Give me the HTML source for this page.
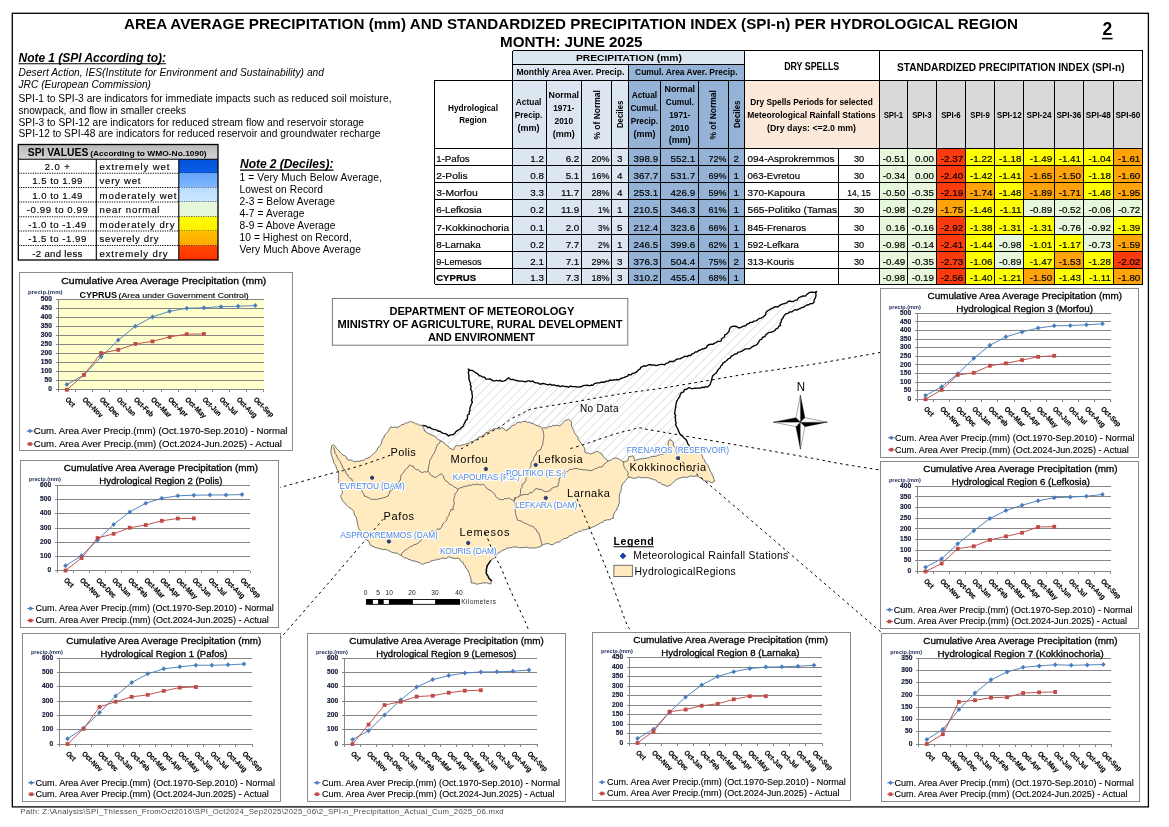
<!DOCTYPE html>
<html lang="en">
<head>
<meta charset="utf-8">
<title>Area Average Precipitation (mm) and Standardized Precipitation Index (SPI-n) per Hydrological Region - June 2025</title>
<style>
html,body{margin:0;padding:0;background:#fff;}
body{width:1169px;height:827px;overflow:hidden;font-family:'Liberation Sans', sans-serif;}
svg{display:block;font-family:'Liberation Sans', sans-serif;will-change:transform;}
svg text{white-space:pre;}
</style>
</head>
<body>
<svg width="1169" height="827" viewBox="0 0 1169 827">
<rect x="0" y="0" width="1169" height="827" fill="#fff"/>
<g id="top">
<rect x="12.3" y="13.3" width="1136.1" height="793.6" fill="#fff" stroke="#000" stroke-width="1.3"/>
<text x="571" y="29.1" font-size="15.2" text-anchor="middle" font-weight="bold" textLength="894" lengthAdjust="spacing">AREA AVERAGE PRECIPITATION (mm) AND STANDARDIZED PRECIPITATION INDEX (SPI-n) PER HYDROLOGICAL REGION</text>
<text x="571.3" y="47.3" font-size="15.2" text-anchor="middle" font-weight="bold" textLength="142.5" lengthAdjust="spacing">MONTH: JUNE 2025</text>
<text x="1107.3" y="35" font-size="17.5" text-anchor="middle" font-weight="bold">2</text>
<line x1="1102" y1="38.6" x2="1112.6" y2="38.6" stroke="#000" stroke-width="1.6" />
<text x="18.5" y="61.9" font-size="12" font-weight="bold" font-style="italic" textLength="147.5" lengthAdjust="spacing">Note 1 (SPI According to):</text>
<line x1="18.5" y1="63.7" x2="166" y2="63.7" stroke="#000" stroke-width="1.1" />
<text x="18.5" y="76.1" font-size="10.2" font-style="italic" textLength="305.5" lengthAdjust="spacing">Desert Action, IES(Institute for Environment and Sustainability) and</text>
<text x="18.5" y="88.1" font-size="10.2" font-style="italic" textLength="132.5" lengthAdjust="spacing">JRC (European Commission)</text>
<text x="18.5" y="102.1" font-size="10.2" textLength="373" lengthAdjust="spacing">SPI-1 to SPI-3 are indicators for immediate impacts such as reduced soil moisture,</text>
<text x="18.5" y="113.8" font-size="10.2" textLength="167.5" lengthAdjust="spacing">snowpack, and flow in smaller creeks</text>
<text x="18.5" y="125.7" font-size="10.2" textLength="345.5" lengthAdjust="spacing">SPI-3 to SPI-12 are indicators for reduced stream flow and reservoir storage</text>
<text x="18.5" y="136.9" font-size="10.2" textLength="362" lengthAdjust="spacing">SPI-12 to SPI-48 are indicators for reduced reservoir and groundwater recharge</text>
</g>
<g id="spileg">
<defs><linearGradient id="gEW" x1="0" y1="0" x2="0" y2="1"><stop offset="0" stop-color="#0052da"/><stop offset="1" stop-color="#0c5ee6"/></linearGradient><linearGradient id="gVW" x1="0" y1="0" x2="0" y2="1"><stop offset="0" stop-color="#64a6fb"/><stop offset="1" stop-color="#80b7ff"/></linearGradient><linearGradient id="gMW" x1="0" y1="0" x2="0" y2="1"><stop offset="0" stop-color="#b8dcfe"/><stop offset="1" stop-color="#cce8ff"/></linearGradient><linearGradient id="gMD" x1="0" y1="0" x2="0" y2="1"><stop offset="0" stop-color="#ffff00"/><stop offset="1" stop-color="#ffee00"/></linearGradient><linearGradient id="gSD" x1="0" y1="0" x2="0" y2="1"><stop offset="0" stop-color="#ffc000"/><stop offset="1" stop-color="#ffa800"/></linearGradient><linearGradient id="gED" x1="0" y1="0" x2="0" y2="1"><stop offset="0" stop-color="#ff4800"/><stop offset="1" stop-color="#ff3000"/></linearGradient><linearGradient id="gHD" x1="0" y1="0" x2="0" y2="1"><stop offset="0" stop-color="#b8b8b8"/><stop offset="1" stop-color="#d4d4d4"/></linearGradient></defs>
<rect x="18.3" y="144.5" width="199.7" height="14.75" fill="url(#gHD)"/>
<g stroke="#000" stroke-width="0.15">
<rect x="178.8" y="159.25" width="39.2" height="14" fill="url(#gEW)" stroke="none"/>
<text x="57.3" y="169.85" font-size="9.6" text-anchor="middle" textLength="25" lengthAdjust="spacing">2.0 +</text>
<text x="99.5" y="169.85" font-size="9.6" textLength="70" lengthAdjust="spacing">extremely wet</text>
<line x1="18.3" y1="173.25" x2="218" y2="173.25" stroke="#000" stroke-width="1.2" stroke-dasharray="1.2 1.2"/>
<rect x="178.8" y="173.25" width="39.2" height="14.25" fill="url(#gVW)" stroke="none"/>
<text x="57.3" y="184.1" font-size="9.6" text-anchor="middle" textLength="50" lengthAdjust="spacing">1.5 to 1.99</text>
<text x="99.5" y="184.1" font-size="9.6" textLength="41" lengthAdjust="spacing">very wet</text>
<line x1="18.3" y1="187.5" x2="218" y2="187.5" stroke="#000" stroke-width="1.2" stroke-dasharray="1.2 1.2"/>
<rect x="178.8" y="187.5" width="39.2" height="14.5" fill="url(#gMW)" stroke="none"/>
<text x="57.3" y="198.6" font-size="9.6" text-anchor="middle" textLength="50" lengthAdjust="spacing">1.0 to 1.49</text>
<text x="99.5" y="198.6" font-size="9.6" textLength="77" lengthAdjust="spacing">moderately wet</text>
<line x1="18.3" y1="202" x2="218" y2="202" stroke="#000" stroke-width="1.2" stroke-dasharray="1.2 1.2"/>
<rect x="178.8" y="202" width="39.2" height="14.75" fill="#e6f7dc" stroke="none"/>
<text x="57.3" y="213.35" font-size="9.6" text-anchor="middle" textLength="61" lengthAdjust="spacing">-0.99 to 0.99</text>
<text x="99.5" y="213.35" font-size="9.6" textLength="60" lengthAdjust="spacing">near normal</text>
<line x1="18.3" y1="216.75" x2="218" y2="216.75" stroke="#000" stroke-width="1.2" stroke-dasharray="1.2 1.2"/>
<rect x="178.8" y="216.75" width="39.2" height="14.25" fill="url(#gMD)" stroke="none"/>
<text x="57.3" y="227.6" font-size="9.6" text-anchor="middle" textLength="58" lengthAdjust="spacing">-1.0 to -1.49</text>
<text x="99.5" y="227.6" font-size="9.6" textLength="75" lengthAdjust="spacing">moderately dry</text>
<line x1="18.3" y1="231" x2="218" y2="231" stroke="#000" stroke-width="1.2" stroke-dasharray="1.2 1.2"/>
<rect x="178.8" y="231" width="39.2" height="14.5" fill="url(#gSD)" stroke="none"/>
<text x="57.3" y="242.1" font-size="9.6" text-anchor="middle" textLength="58" lengthAdjust="spacing">-1.5 to -1.99</text>
<text x="99.5" y="242.1" font-size="9.6" textLength="59" lengthAdjust="spacing">severely dry</text>
<line x1="18.3" y1="245.5" x2="218" y2="245.5" stroke="#000" stroke-width="1.2" stroke-dasharray="1.2 1.2"/>
<rect x="178.8" y="245.5" width="39.2" height="14.5" fill="url(#gED)" stroke="none"/>
<text x="57.3" y="256.6" font-size="9.6" text-anchor="middle" textLength="50" lengthAdjust="spacing">-2 and less</text>
<text x="99.5" y="256.6" font-size="9.6" textLength="68" lengthAdjust="spacing">extremely dry</text>
</g>
<line x1="18.3" y1="159.25" x2="218" y2="159.25" stroke="#000" stroke-width="1.2" />
<line x1="96.3" y1="159.25" x2="96.3" y2="260" stroke="#000" stroke-width="1.1" />
<line x1="178.8" y1="159.25" x2="178.8" y2="260" stroke="#000" stroke-width="1.1" />
<rect x="18.3" y="144.5" width="199.7" height="115.5" fill="none" stroke="#000" stroke-width="1.3"/>
<text x="27.8" y="156.3" font-size="10.6" font-weight="bold" textLength="60.5" lengthAdjust="spacingAndGlyphs">SPI VALUES</text>
<text x="90.2" y="155.8" font-size="7.6" font-weight="bold" textLength="116.5" lengthAdjust="spacingAndGlyphs">(According to WMO-No.1090)</text>
<text x="240" y="168.2" font-size="12" font-weight="bold" font-style="italic" textLength="93.5" lengthAdjust="spacing">Note 2 (Deciles):</text>
<line x1="240" y1="170.1" x2="333.5" y2="170.1" stroke="#000" stroke-width="1.1" />
<text x="239.5" y="181.3" font-size="10.2" textLength="142.5" lengthAdjust="spacing">1 = Very Much Below Average,</text>
<text x="239.5" y="192.6" font-size="10.2" textLength="83.5" lengthAdjust="spacing">Lowest on Record</text>
<text x="239.5" y="205" font-size="10.2" textLength="95.5" lengthAdjust="spacing">2-3 = Below Average</text>
<text x="239.5" y="217" font-size="10.2" textLength="65" lengthAdjust="spacing">4-7 = Average</text>
<text x="239.5" y="228.8" font-size="10.2" textLength="96" lengthAdjust="spacing">8-9 = Above Average</text>
<text x="239.5" y="240.6" font-size="10.2" textLength="112" lengthAdjust="spacing">10 = Highest on Record,</text>
<text x="239.5" y="252.5" font-size="10.2" textLength="121.5" lengthAdjust="spacing">Very Much Above Average</text>
</g>
<g id="table">
<rect x="512.5" y="50.5" width="115.8" height="233.7" fill="#dce6f1"/>
<rect x="628.3" y="64.5" width="116" height="219.7" fill="#95b3d7"/>
<rect x="512.5" y="50.5" width="231.8" height="14" fill="#dce6f1"/>
<rect x="744.3" y="80" width="135" height="68.2" fill="#fde9d9"/>
<rect x="879.3" y="80" width="263.3" height="68.2" fill="#d9d9d9"/>
<rect x="879.3" y="148.2" width="28.2" height="17.3" fill="#e6f7dc"/>
<rect x="907.5" y="148.2" width="28.8" height="17.3" fill="#e6f7dc"/>
<rect x="936.3" y="148.2" width="29.2" height="17.3" fill="#fb3a0e"/>
<rect x="965.5" y="148.2" width="29.2" height="17.3" fill="#ffff00"/>
<rect x="994.7" y="148.2" width="29" height="17.3" fill="#ffff00"/>
<rect x="1023.7" y="148.2" width="30.8" height="17.3" fill="#ffff00"/>
<rect x="1054.5" y="148.2" width="28.8" height="17.3" fill="#ffff00"/>
<rect x="1083.3" y="148.2" width="29.9" height="17.3" fill="#ffff00"/>
<rect x="1113.2" y="148.2" width="29.4" height="17.3" fill="#ffa30b"/>
<rect x="879.3" y="165.5" width="28.2" height="17" fill="#e6f7dc"/>
<rect x="907.5" y="165.5" width="28.8" height="17" fill="#e6f7dc"/>
<rect x="936.3" y="165.5" width="29.2" height="17" fill="#fb3a0e"/>
<rect x="965.5" y="165.5" width="29.2" height="17" fill="#ffff00"/>
<rect x="994.7" y="165.5" width="29" height="17" fill="#ffff00"/>
<rect x="1023.7" y="165.5" width="30.8" height="17" fill="#ffa30b"/>
<rect x="1054.5" y="165.5" width="28.8" height="17" fill="#ffa30b"/>
<rect x="1083.3" y="165.5" width="29.9" height="17" fill="#ffff00"/>
<rect x="1113.2" y="165.5" width="29.4" height="17" fill="#ffa30b"/>
<rect x="879.3" y="182.5" width="28.2" height="17" fill="#e6f7dc"/>
<rect x="907.5" y="182.5" width="28.8" height="17" fill="#e6f7dc"/>
<rect x="936.3" y="182.5" width="29.2" height="17" fill="#fb3a0e"/>
<rect x="965.5" y="182.5" width="29.2" height="17" fill="#ffa30b"/>
<rect x="994.7" y="182.5" width="29" height="17" fill="#ffff00"/>
<rect x="1023.7" y="182.5" width="30.8" height="17" fill="#ffa30b"/>
<rect x="1054.5" y="182.5" width="28.8" height="17" fill="#ffa30b"/>
<rect x="1083.3" y="182.5" width="29.9" height="17" fill="#ffff00"/>
<rect x="1113.2" y="182.5" width="29.4" height="17" fill="#ffa30b"/>
<rect x="879.3" y="199.5" width="28.2" height="17.4" fill="#e6f7dc"/>
<rect x="907.5" y="199.5" width="28.8" height="17.4" fill="#e6f7dc"/>
<rect x="936.3" y="199.5" width="29.2" height="17.4" fill="#ffa30b"/>
<rect x="965.5" y="199.5" width="29.2" height="17.4" fill="#ffff00"/>
<rect x="994.7" y="199.5" width="29" height="17.4" fill="#ffff00"/>
<rect x="1023.7" y="199.5" width="30.8" height="17.4" fill="#e6f7dc"/>
<rect x="1054.5" y="199.5" width="28.8" height="17.4" fill="#e6f7dc"/>
<rect x="1083.3" y="199.5" width="29.9" height="17.4" fill="#e6f7dc"/>
<rect x="1113.2" y="199.5" width="29.4" height="17.4" fill="#e6f7dc"/>
<rect x="879.3" y="216.9" width="28.2" height="17.5" fill="#e6f7dc"/>
<rect x="907.5" y="216.9" width="28.8" height="17.5" fill="#e6f7dc"/>
<rect x="936.3" y="216.9" width="29.2" height="17.5" fill="#fb3a0e"/>
<rect x="965.5" y="216.9" width="29.2" height="17.5" fill="#ffff00"/>
<rect x="994.7" y="216.9" width="29" height="17.5" fill="#ffff00"/>
<rect x="1023.7" y="216.9" width="30.8" height="17.5" fill="#ffff00"/>
<rect x="1054.5" y="216.9" width="28.8" height="17.5" fill="#e6f7dc"/>
<rect x="1083.3" y="216.9" width="29.9" height="17.5" fill="#e6f7dc"/>
<rect x="1113.2" y="216.9" width="29.4" height="17.5" fill="#ffff00"/>
<rect x="879.3" y="234.4" width="28.2" height="16.8" fill="#e6f7dc"/>
<rect x="907.5" y="234.4" width="28.8" height="16.8" fill="#e6f7dc"/>
<rect x="936.3" y="234.4" width="29.2" height="16.8" fill="#fb3a0e"/>
<rect x="965.5" y="234.4" width="29.2" height="16.8" fill="#ffff00"/>
<rect x="994.7" y="234.4" width="29" height="16.8" fill="#e6f7dc"/>
<rect x="1023.7" y="234.4" width="30.8" height="16.8" fill="#ffff00"/>
<rect x="1054.5" y="234.4" width="28.8" height="16.8" fill="#ffff00"/>
<rect x="1083.3" y="234.4" width="29.9" height="16.8" fill="#e6f7dc"/>
<rect x="1113.2" y="234.4" width="29.4" height="16.8" fill="#ffa30b"/>
<rect x="879.3" y="251.2" width="28.2" height="17" fill="#e6f7dc"/>
<rect x="907.5" y="251.2" width="28.8" height="17" fill="#e6f7dc"/>
<rect x="936.3" y="251.2" width="29.2" height="17" fill="#fb3a0e"/>
<rect x="965.5" y="251.2" width="29.2" height="17" fill="#ffff00"/>
<rect x="994.7" y="251.2" width="29" height="17" fill="#e6f7dc"/>
<rect x="1023.7" y="251.2" width="30.8" height="17" fill="#ffff00"/>
<rect x="1054.5" y="251.2" width="28.8" height="17" fill="#ffa30b"/>
<rect x="1083.3" y="251.2" width="29.9" height="17" fill="#ffff00"/>
<rect x="1113.2" y="251.2" width="29.4" height="17" fill="#fb3a0e"/>
<rect x="879.3" y="268.2" width="28.2" height="16" fill="#e6f7dc"/>
<rect x="907.5" y="268.2" width="28.8" height="16" fill="#e6f7dc"/>
<rect x="936.3" y="268.2" width="29.2" height="16" fill="#fb3a0e"/>
<rect x="965.5" y="268.2" width="29.2" height="16" fill="#ffff00"/>
<rect x="994.7" y="268.2" width="29" height="16" fill="#ffff00"/>
<rect x="1023.7" y="268.2" width="30.8" height="16" fill="#ffa30b"/>
<rect x="1054.5" y="268.2" width="28.8" height="16" fill="#ffff00"/>
<rect x="1083.3" y="268.2" width="29.9" height="16" fill="#ffff00"/>
<rect x="1113.2" y="268.2" width="29.4" height="16" fill="#ffa30b"/>
<g shape-rendering="crispEdges">
<line x1="512.5" y1="50.5" x2="1142.6" y2="50.5" stroke="#000" stroke-width="1" />
<line x1="512.5" y1="64.5" x2="744.3" y2="64.5" stroke="#000" stroke-width="1" />
<line x1="434.5" y1="80" x2="1142.6" y2="80" stroke="#000" stroke-width="1" />
<line x1="434.5" y1="148.2" x2="1142.6" y2="148.2" stroke="#000" stroke-width="1" />
<line x1="434.5" y1="165.5" x2="1142.6" y2="165.5" stroke="#000" stroke-width="1" />
<line x1="434.5" y1="182.5" x2="1142.6" y2="182.5" stroke="#000" stroke-width="1" />
<line x1="434.5" y1="199.5" x2="1142.6" y2="199.5" stroke="#000" stroke-width="1" />
<line x1="434.5" y1="216.9" x2="1142.6" y2="216.9" stroke="#000" stroke-width="1" />
<line x1="434.5" y1="234.4" x2="1142.6" y2="234.4" stroke="#000" stroke-width="1" />
<line x1="434.5" y1="251.2" x2="1142.6" y2="251.2" stroke="#000" stroke-width="1" />
<line x1="434.5" y1="268.2" x2="1142.6" y2="268.2" stroke="#000" stroke-width="1" />
<line x1="434.5" y1="284.2" x2="1142.6" y2="284.2" stroke="#000" stroke-width="1" />
<line x1="434.5" y1="80" x2="434.5" y2="284.2" stroke="#000" stroke-width="1" />
<line x1="512.5" y1="50.5" x2="512.5" y2="284.2" stroke="#000" stroke-width="1" />
<line x1="546.3" y1="80" x2="546.3" y2="284.2" stroke="#000" stroke-width="1" />
<line x1="581.3" y1="80" x2="581.3" y2="284.2" stroke="#000" stroke-width="1" />
<line x1="611.3" y1="80" x2="611.3" y2="284.2" stroke="#000" stroke-width="1" />
<line x1="660.5" y1="80" x2="660.5" y2="284.2" stroke="#000" stroke-width="1" />
<line x1="698.7" y1="80" x2="698.7" y2="284.2" stroke="#000" stroke-width="1" />
<line x1="728.3" y1="80" x2="728.3" y2="284.2" stroke="#000" stroke-width="1" />
<line x1="628.3" y1="64.5" x2="628.3" y2="284.2" stroke="#000" stroke-width="1" />
<line x1="744.3" y1="50.5" x2="744.3" y2="284.2" stroke="#000" stroke-width="1" />
<line x1="838.7" y1="148.2" x2="838.7" y2="284.2" stroke="#000" stroke-width="1" />
<line x1="879.3" y1="50.5" x2="879.3" y2="284.2" stroke="#000" stroke-width="1" />
<line x1="907.5" y1="80" x2="907.5" y2="284.2" stroke="#000" stroke-width="1" />
<line x1="936.3" y1="80" x2="936.3" y2="284.2" stroke="#000" stroke-width="1" />
<line x1="965.5" y1="80" x2="965.5" y2="284.2" stroke="#000" stroke-width="1" />
<line x1="994.7" y1="80" x2="994.7" y2="284.2" stroke="#000" stroke-width="1" />
<line x1="1023.7" y1="80" x2="1023.7" y2="284.2" stroke="#000" stroke-width="1" />
<line x1="1054.5" y1="80" x2="1054.5" y2="284.2" stroke="#000" stroke-width="1" />
<line x1="1083.3" y1="80" x2="1083.3" y2="284.2" stroke="#000" stroke-width="1" />
<line x1="1113.2" y1="80" x2="1113.2" y2="284.2" stroke="#000" stroke-width="1" />
<line x1="1142.6" y1="50.5" x2="1142.6" y2="284.2" stroke="#000" stroke-width="1" />
</g>
<text x="628.9" y="61.3" font-size="9.6" text-anchor="middle" font-weight="bold" textLength="106" lengthAdjust="spacingAndGlyphs">PRECIPITATION (mm)</text>
<text x="570.4" y="75.1" font-size="8.6" text-anchor="middle" font-weight="bold" textLength="108" lengthAdjust="spacingAndGlyphs">Monthly Area Aver. Precip.</text>
<text x="686.3" y="75.1" font-size="8.6" text-anchor="middle" font-weight="bold" textLength="102.5" lengthAdjust="spacingAndGlyphs">Cumul. Area Aver. Precip.</text>
<text x="811.7" y="70" font-size="10" text-anchor="middle" font-weight="bold" textLength="55" lengthAdjust="spacingAndGlyphs">DRY SPELLS</text>
<text x="1010.8" y="71.2" font-size="10" text-anchor="middle" font-weight="bold" textLength="227.5" lengthAdjust="spacingAndGlyphs">STANDARDIZED PRECIPITATION INDEX (SPI-n)</text>
<text x="473" y="110.8" font-size="8.5" text-anchor="middle" font-weight="bold" textLength="50" lengthAdjust="spacingAndGlyphs">Hydrological</text>
<text x="473" y="123.3" font-size="8.5" text-anchor="middle" font-weight="bold" textLength="27.5" lengthAdjust="spacingAndGlyphs">Region</text>
<text x="528.6" y="105" font-size="8.5" text-anchor="middle" font-weight="bold" textLength="25.5" lengthAdjust="spacingAndGlyphs">Actual</text>
<text x="528.6" y="117.6" font-size="8.5" text-anchor="middle" font-weight="bold" textLength="27.5" lengthAdjust="spacingAndGlyphs">Precip.</text>
<text x="528.6" y="130.5" font-size="8.5" text-anchor="middle" font-weight="bold" textLength="22" lengthAdjust="spacingAndGlyphs">(mm)</text>
<text x="563.8" y="98" font-size="8.5" text-anchor="middle" font-weight="bold" textLength="30.5" lengthAdjust="spacingAndGlyphs">Normal</text>
<text x="563.8" y="110.8" font-size="8.5" text-anchor="middle" font-weight="bold" textLength="21" lengthAdjust="spacingAndGlyphs">1971-</text>
<text x="563.8" y="123.8" font-size="8.5" text-anchor="middle" font-weight="bold" textLength="18.5" lengthAdjust="spacingAndGlyphs">2010</text>
<text x="563.8" y="136.8" font-size="8.5" text-anchor="middle" font-weight="bold" textLength="22" lengthAdjust="spacingAndGlyphs">(mm)</text>
<text x="644.4" y="98" font-size="8.5" text-anchor="middle" font-weight="bold" textLength="25.5" lengthAdjust="spacingAndGlyphs">Actual</text>
<text x="644.4" y="110.8" font-size="8.5" text-anchor="middle" font-weight="bold" textLength="28" lengthAdjust="spacingAndGlyphs">Cumul.</text>
<text x="644.4" y="123.8" font-size="8.5" text-anchor="middle" font-weight="bold" textLength="27.5" lengthAdjust="spacingAndGlyphs">Precip.</text>
<text x="644.4" y="136.8" font-size="8.5" text-anchor="middle" font-weight="bold" textLength="22" lengthAdjust="spacingAndGlyphs">(mm)</text>
<text x="679.8" y="91.8" font-size="8.5" text-anchor="middle" font-weight="bold" textLength="30.5" lengthAdjust="spacingAndGlyphs">Normal</text>
<text x="679.8" y="104.5" font-size="8.5" text-anchor="middle" font-weight="bold" textLength="28" lengthAdjust="spacingAndGlyphs">Cumul.</text>
<text x="679.8" y="117.5" font-size="8.5" text-anchor="middle" font-weight="bold" textLength="21" lengthAdjust="spacingAndGlyphs">1971-</text>
<text x="679.8" y="130.5" font-size="8.5" text-anchor="middle" font-weight="bold" textLength="18.5" lengthAdjust="spacingAndGlyphs">2010</text>
<text x="679.8" y="143.3" font-size="8.5" text-anchor="middle" font-weight="bold" textLength="22" lengthAdjust="spacingAndGlyphs">(mm)</text>
<text x="600" y="114.8" font-size="8.5" text-anchor="middle" font-weight="bold" textLength="49.5" lengthAdjust="spacingAndGlyphs" transform="rotate(-90 600 114.8)">% of Normal</text>
<text x="716" y="114.8" font-size="8.5" text-anchor="middle" font-weight="bold" textLength="49.5" lengthAdjust="spacingAndGlyphs" transform="rotate(-90 716 114.8)">% of Normal</text>
<text x="623.4" y="114.3" font-size="8.5" text-anchor="middle" font-weight="bold" textLength="27.5" lengthAdjust="spacingAndGlyphs" transform="rotate(-90 623.4 114.3)">Deciles</text>
<text x="739.6" y="114.3" font-size="8.5" text-anchor="middle" font-weight="bold" textLength="27.5" lengthAdjust="spacingAndGlyphs" transform="rotate(-90 739.6 114.3)">Deciles</text>
<text x="811.5" y="105" font-size="8.5" text-anchor="middle" font-weight="bold" textLength="122.5" lengthAdjust="spacingAndGlyphs">Dry Spells Periods for selected</text>
<text x="811.5" y="117.6" font-size="8.5" text-anchor="middle" font-weight="bold" textLength="128.5" lengthAdjust="spacingAndGlyphs">Meteorological Rainfall Stations</text>
<text x="811.5" y="130.5" font-size="8.5" text-anchor="middle" font-weight="bold" textLength="89" lengthAdjust="spacingAndGlyphs">(Dry days: &lt;=2.0 mm)</text>
<text x="893.4" y="117.6" font-size="8.3" text-anchor="middle" font-weight="bold" textLength="19.5" lengthAdjust="spacingAndGlyphs">SPI-1</text>
<text x="921.9" y="117.6" font-size="8.3" text-anchor="middle" font-weight="bold" textLength="19.5" lengthAdjust="spacingAndGlyphs">SPI-3</text>
<text x="950.9" y="117.6" font-size="8.3" text-anchor="middle" font-weight="bold" textLength="19.5" lengthAdjust="spacingAndGlyphs">SPI-6</text>
<text x="980.1" y="117.6" font-size="8.3" text-anchor="middle" font-weight="bold" textLength="19.5" lengthAdjust="spacingAndGlyphs">SPI-9</text>
<text x="1009.2" y="117.6" font-size="8.3" text-anchor="middle" font-weight="bold" textLength="25" lengthAdjust="spacingAndGlyphs">SPI-12</text>
<text x="1039.1" y="117.6" font-size="8.3" text-anchor="middle" font-weight="bold" textLength="25" lengthAdjust="spacingAndGlyphs">SPI-24</text>
<text x="1068.9" y="117.6" font-size="8.3" text-anchor="middle" font-weight="bold" textLength="25" lengthAdjust="spacingAndGlyphs">SPI-36</text>
<text x="1098.25" y="117.6" font-size="8.3" text-anchor="middle" font-weight="bold" textLength="25" lengthAdjust="spacingAndGlyphs">SPI-48</text>
<text x="1127.9" y="117.6" font-size="8.3" text-anchor="middle" font-weight="bold" textLength="25" lengthAdjust="spacingAndGlyphs">SPI-60</text>
<g stroke="#000" stroke-width="0.18">
<text x="436.2" y="161.8" font-size="9.8" textLength="33.5" lengthAdjust="spacingAndGlyphs">1-Pafos</text>
<text x="543.9" y="161.8" font-size="9.8" text-anchor="end">1.2</text>
<text x="579.3" y="161.8" font-size="9.8" text-anchor="end">6.2</text>
<text x="609.5" y="161.8" font-size="9.8" text-anchor="end" textLength="18" lengthAdjust="spacingAndGlyphs">20%</text>
<text x="619.8" y="161.8" font-size="9.8" text-anchor="middle">3</text>
<text x="658.1" y="161.8" font-size="9.8" text-anchor="end">398.9</text>
<text x="695.1" y="161.8" font-size="9.8" text-anchor="end">552.1</text>
<text x="726.4" y="161.8" font-size="9.8" text-anchor="end" textLength="18" lengthAdjust="spacingAndGlyphs">72%</text>
<text x="736.3" y="161.8" font-size="9.8" text-anchor="middle">2</text>
<text x="747.5" y="161.8" font-size="9.8" textLength="87" lengthAdjust="spacingAndGlyphs">094-Asprokremmos</text>
<text x="859" y="161.8" font-size="8.7" text-anchor="middle" textLength="10.2" lengthAdjust="spacingAndGlyphs">30</text>
<text x="905.2" y="161.8" font-size="9.8" text-anchor="end">-0.51</text>
<text x="934" y="161.8" font-size="9.8" text-anchor="end">0.00</text>
<text x="963.2" y="161.8" font-size="9.8" text-anchor="end">-2.37</text>
<text x="992.4" y="161.8" font-size="9.8" text-anchor="end">-1.22</text>
<text x="1021.4" y="161.8" font-size="9.8" text-anchor="end">-1.18</text>
<text x="1052.2" y="161.8" font-size="9.8" text-anchor="end">-1.49</text>
<text x="1081" y="161.8" font-size="9.8" text-anchor="end">-1.41</text>
<text x="1110.9" y="161.8" font-size="9.8" text-anchor="end">-1.04</text>
<text x="1140.3" y="161.8" font-size="9.8" text-anchor="end">-1.61</text>
<text x="436.2" y="178.8" font-size="9.8" textLength="31.5" lengthAdjust="spacingAndGlyphs">2-Polis</text>
<text x="543.9" y="178.8" font-size="9.8" text-anchor="end">0.8</text>
<text x="579.3" y="178.8" font-size="9.8" text-anchor="end">5.1</text>
<text x="609.5" y="178.8" font-size="9.8" text-anchor="end" textLength="18" lengthAdjust="spacingAndGlyphs">16%</text>
<text x="619.8" y="178.8" font-size="9.8" text-anchor="middle">4</text>
<text x="658.1" y="178.8" font-size="9.8" text-anchor="end">367.7</text>
<text x="695.1" y="178.8" font-size="9.8" text-anchor="end">531.7</text>
<text x="726.4" y="178.8" font-size="9.8" text-anchor="end" textLength="18" lengthAdjust="spacingAndGlyphs">69%</text>
<text x="736.3" y="178.8" font-size="9.8" text-anchor="middle">1</text>
<text x="747.5" y="178.8" font-size="9.8" textLength="52.5" lengthAdjust="spacingAndGlyphs">063-Evretou</text>
<text x="859" y="178.8" font-size="8.7" text-anchor="middle" textLength="10.2" lengthAdjust="spacingAndGlyphs">30</text>
<text x="905.2" y="178.8" font-size="9.8" text-anchor="end">-0.34</text>
<text x="934" y="178.8" font-size="9.8" text-anchor="end">0.00</text>
<text x="963.2" y="178.8" font-size="9.8" text-anchor="end">-2.40</text>
<text x="992.4" y="178.8" font-size="9.8" text-anchor="end">-1.42</text>
<text x="1021.4" y="178.8" font-size="9.8" text-anchor="end">-1.41</text>
<text x="1052.2" y="178.8" font-size="9.8" text-anchor="end">-1.65</text>
<text x="1081" y="178.8" font-size="9.8" text-anchor="end">-1.50</text>
<text x="1110.9" y="178.8" font-size="9.8" text-anchor="end">-1.18</text>
<text x="1140.3" y="178.8" font-size="9.8" text-anchor="end">-1.60</text>
<text x="436.2" y="195.8" font-size="9.8" textLength="41.5" lengthAdjust="spacingAndGlyphs">3-Morfou</text>
<text x="543.9" y="195.8" font-size="9.8" text-anchor="end">3.3</text>
<text x="579.3" y="195.8" font-size="9.8" text-anchor="end">11.7</text>
<text x="609.5" y="195.8" font-size="9.8" text-anchor="end" textLength="18" lengthAdjust="spacingAndGlyphs">28%</text>
<text x="619.8" y="195.8" font-size="9.8" text-anchor="middle">4</text>
<text x="658.1" y="195.8" font-size="9.8" text-anchor="end">253.1</text>
<text x="695.1" y="195.8" font-size="9.8" text-anchor="end">426.9</text>
<text x="726.4" y="195.8" font-size="9.8" text-anchor="end" textLength="18" lengthAdjust="spacingAndGlyphs">59%</text>
<text x="736.3" y="195.8" font-size="9.8" text-anchor="middle">1</text>
<text x="747.5" y="195.8" font-size="9.8" textLength="57.5" lengthAdjust="spacingAndGlyphs">370-Kapoura</text>
<text x="859" y="195.8" font-size="8.7" text-anchor="middle" textLength="23.5" lengthAdjust="spacingAndGlyphs">14, 15</text>
<text x="905.2" y="195.8" font-size="9.8" text-anchor="end">-0.50</text>
<text x="934" y="195.8" font-size="9.8" text-anchor="end">-0.35</text>
<text x="963.2" y="195.8" font-size="9.8" text-anchor="end">-2.19</text>
<text x="992.4" y="195.8" font-size="9.8" text-anchor="end">-1.74</text>
<text x="1021.4" y="195.8" font-size="9.8" text-anchor="end">-1.48</text>
<text x="1052.2" y="195.8" font-size="9.8" text-anchor="end">-1.89</text>
<text x="1081" y="195.8" font-size="9.8" text-anchor="end">-1.71</text>
<text x="1110.9" y="195.8" font-size="9.8" text-anchor="end">-1.48</text>
<text x="1140.3" y="195.8" font-size="9.8" text-anchor="end">-1.95</text>
<text x="436.2" y="213.2" font-size="9.8" textLength="45.5" lengthAdjust="spacingAndGlyphs">6-Lefkosia</text>
<text x="543.9" y="213.2" font-size="9.8" text-anchor="end">0.2</text>
<text x="579.3" y="213.2" font-size="9.8" text-anchor="end">11.9</text>
<text x="609.5" y="213.2" font-size="9.8" text-anchor="end" textLength="11.5" lengthAdjust="spacingAndGlyphs">1%</text>
<text x="619.8" y="213.2" font-size="9.8" text-anchor="middle">1</text>
<text x="658.1" y="213.2" font-size="9.8" text-anchor="end">210.5</text>
<text x="695.1" y="213.2" font-size="9.8" text-anchor="end">346.3</text>
<text x="726.4" y="213.2" font-size="9.8" text-anchor="end" textLength="18" lengthAdjust="spacingAndGlyphs">61%</text>
<text x="736.3" y="213.2" font-size="9.8" text-anchor="middle">1</text>
<text x="747.5" y="213.2" font-size="9.8" textLength="89.5" lengthAdjust="spacingAndGlyphs">565-Politiko (Tamas</text>
<text x="859" y="213.2" font-size="8.7" text-anchor="middle" textLength="10.2" lengthAdjust="spacingAndGlyphs">30</text>
<text x="905.2" y="213.2" font-size="9.8" text-anchor="end">-0.98</text>
<text x="934" y="213.2" font-size="9.8" text-anchor="end">-0.29</text>
<text x="963.2" y="213.2" font-size="9.8" text-anchor="end">-1.75</text>
<text x="992.4" y="213.2" font-size="9.8" text-anchor="end">-1.46</text>
<text x="1021.4" y="213.2" font-size="9.8" text-anchor="end">-1.11</text>
<text x="1052.2" y="213.2" font-size="9.8" text-anchor="end">-0.89</text>
<text x="1081" y="213.2" font-size="9.8" text-anchor="end">-0.52</text>
<text x="1110.9" y="213.2" font-size="9.8" text-anchor="end">-0.06</text>
<text x="1140.3" y="213.2" font-size="9.8" text-anchor="end">-0.72</text>
<text x="436.2" y="230.7" font-size="9.8" textLength="73" lengthAdjust="spacingAndGlyphs">7-Kokkinochoria</text>
<text x="543.9" y="230.7" font-size="9.8" text-anchor="end">0.1</text>
<text x="579.3" y="230.7" font-size="9.8" text-anchor="end">2.0</text>
<text x="609.5" y="230.7" font-size="9.8" text-anchor="end" textLength="11.5" lengthAdjust="spacingAndGlyphs">3%</text>
<text x="619.8" y="230.7" font-size="9.8" text-anchor="middle">5</text>
<text x="658.1" y="230.7" font-size="9.8" text-anchor="end">212.4</text>
<text x="695.1" y="230.7" font-size="9.8" text-anchor="end">323.6</text>
<text x="726.4" y="230.7" font-size="9.8" text-anchor="end" textLength="18" lengthAdjust="spacingAndGlyphs">66%</text>
<text x="736.3" y="230.7" font-size="9.8" text-anchor="middle">1</text>
<text x="747.5" y="230.7" font-size="9.8" textLength="58.5" lengthAdjust="spacingAndGlyphs">845-Frenaros</text>
<text x="859" y="230.7" font-size="8.7" text-anchor="middle" textLength="10.2" lengthAdjust="spacingAndGlyphs">30</text>
<text x="905.2" y="230.7" font-size="9.8" text-anchor="end">0.16</text>
<text x="934" y="230.7" font-size="9.8" text-anchor="end">-0.16</text>
<text x="963.2" y="230.7" font-size="9.8" text-anchor="end">-2.92</text>
<text x="992.4" y="230.7" font-size="9.8" text-anchor="end">-1.38</text>
<text x="1021.4" y="230.7" font-size="9.8" text-anchor="end">-1.31</text>
<text x="1052.2" y="230.7" font-size="9.8" text-anchor="end">-1.31</text>
<text x="1081" y="230.7" font-size="9.8" text-anchor="end">-0.76</text>
<text x="1110.9" y="230.7" font-size="9.8" text-anchor="end">-0.92</text>
<text x="1140.3" y="230.7" font-size="9.8" text-anchor="end">-1.39</text>
<text x="436.2" y="247.5" font-size="9.8" textLength="44.5" lengthAdjust="spacingAndGlyphs">8-Larnaka</text>
<text x="543.9" y="247.5" font-size="9.8" text-anchor="end">0.2</text>
<text x="579.3" y="247.5" font-size="9.8" text-anchor="end">7.7</text>
<text x="609.5" y="247.5" font-size="9.8" text-anchor="end" textLength="11.5" lengthAdjust="spacingAndGlyphs">2%</text>
<text x="619.8" y="247.5" font-size="9.8" text-anchor="middle">1</text>
<text x="658.1" y="247.5" font-size="9.8" text-anchor="end">246.5</text>
<text x="695.1" y="247.5" font-size="9.8" text-anchor="end">399.6</text>
<text x="726.4" y="247.5" font-size="9.8" text-anchor="end" textLength="18" lengthAdjust="spacingAndGlyphs">62%</text>
<text x="736.3" y="247.5" font-size="9.8" text-anchor="middle">1</text>
<text x="747.5" y="247.5" font-size="9.8" textLength="51.5" lengthAdjust="spacingAndGlyphs">592-Lefkara</text>
<text x="859" y="247.5" font-size="8.7" text-anchor="middle" textLength="10.2" lengthAdjust="spacingAndGlyphs">30</text>
<text x="905.2" y="247.5" font-size="9.8" text-anchor="end">-0.98</text>
<text x="934" y="247.5" font-size="9.8" text-anchor="end">-0.14</text>
<text x="963.2" y="247.5" font-size="9.8" text-anchor="end">-2.41</text>
<text x="992.4" y="247.5" font-size="9.8" text-anchor="end">-1.44</text>
<text x="1021.4" y="247.5" font-size="9.8" text-anchor="end">-0.98</text>
<text x="1052.2" y="247.5" font-size="9.8" text-anchor="end">-1.01</text>
<text x="1081" y="247.5" font-size="9.8" text-anchor="end">-1.17</text>
<text x="1110.9" y="247.5" font-size="9.8" text-anchor="end">-0.73</text>
<text x="1140.3" y="247.5" font-size="9.8" text-anchor="end">-1.59</text>
<text x="436.2" y="264.5" font-size="9.8" textLength="45.5" lengthAdjust="spacingAndGlyphs">9-Lemesos</text>
<text x="543.9" y="264.5" font-size="9.8" text-anchor="end">2.1</text>
<text x="579.3" y="264.5" font-size="9.8" text-anchor="end">7.1</text>
<text x="609.5" y="264.5" font-size="9.8" text-anchor="end" textLength="18" lengthAdjust="spacingAndGlyphs">29%</text>
<text x="619.8" y="264.5" font-size="9.8" text-anchor="middle">3</text>
<text x="658.1" y="264.5" font-size="9.8" text-anchor="end">376.3</text>
<text x="695.1" y="264.5" font-size="9.8" text-anchor="end">504.4</text>
<text x="726.4" y="264.5" font-size="9.8" text-anchor="end" textLength="18" lengthAdjust="spacingAndGlyphs">75%</text>
<text x="736.3" y="264.5" font-size="9.8" text-anchor="middle">2</text>
<text x="747.5" y="264.5" font-size="9.8" textLength="46.5" lengthAdjust="spacingAndGlyphs">313-Kouris</text>
<text x="859" y="264.5" font-size="8.7" text-anchor="middle" textLength="10.2" lengthAdjust="spacingAndGlyphs">30</text>
<text x="905.2" y="264.5" font-size="9.8" text-anchor="end">-0.49</text>
<text x="934" y="264.5" font-size="9.8" text-anchor="end">-0.35</text>
<text x="963.2" y="264.5" font-size="9.8" text-anchor="end">-2.73</text>
<text x="992.4" y="264.5" font-size="9.8" text-anchor="end">-1.06</text>
<text x="1021.4" y="264.5" font-size="9.8" text-anchor="end">-0.89</text>
<text x="1052.2" y="264.5" font-size="9.8" text-anchor="end">-1.47</text>
<text x="1081" y="264.5" font-size="9.8" text-anchor="end">-1.53</text>
<text x="1110.9" y="264.5" font-size="9.8" text-anchor="end">-1.28</text>
<text x="1140.3" y="264.5" font-size="9.8" text-anchor="end">-2.02</text>
<text x="436.2" y="280.5" font-size="9.8" font-weight="bold" textLength="40" lengthAdjust="spacingAndGlyphs">CYPRUS</text>
<text x="543.9" y="280.5" font-size="9.8" text-anchor="end">1.3</text>
<text x="579.3" y="280.5" font-size="9.8" text-anchor="end">7.3</text>
<text x="609.5" y="280.5" font-size="9.8" text-anchor="end" textLength="18" lengthAdjust="spacingAndGlyphs">18%</text>
<text x="619.8" y="280.5" font-size="9.8" text-anchor="middle">3</text>
<text x="658.1" y="280.5" font-size="9.8" text-anchor="end">310.2</text>
<text x="695.1" y="280.5" font-size="9.8" text-anchor="end">455.4</text>
<text x="726.4" y="280.5" font-size="9.8" text-anchor="end" textLength="18" lengthAdjust="spacingAndGlyphs">68%</text>
<text x="736.3" y="280.5" font-size="9.8" text-anchor="middle">1</text>
<text x="905.2" y="280.5" font-size="9.8" text-anchor="end">-0.98</text>
<text x="934" y="280.5" font-size="9.8" text-anchor="end">-0.19</text>
<text x="963.2" y="280.5" font-size="9.8" text-anchor="end">-2.56</text>
<text x="992.4" y="280.5" font-size="9.8" text-anchor="end">-1.40</text>
<text x="1021.4" y="280.5" font-size="9.8" text-anchor="end">-1.21</text>
<text x="1052.2" y="280.5" font-size="9.8" text-anchor="end">-1.50</text>
<text x="1081" y="280.5" font-size="9.8" text-anchor="end">-1.43</text>
<text x="1110.9" y="280.5" font-size="9.8" text-anchor="end">-1.11</text>
<text x="1140.3" y="280.5" font-size="9.8" text-anchor="end">-1.80</text>
</g>
</g>
<g id="charts">
<g id="chart-cyprus">
<rect x="19.5" y="272.3" width="273" height="177.7" fill="#fff" stroke="#8a8a8a" stroke-width="1" shape-rendering="crispEdges"/>
<rect x="58.3" y="299.8" width="205.5" height="90" fill="#ffffcc"/>
<line x1="55.5" y1="389.8" x2="263.8" y2="389.8" stroke="#868686" stroke-width="1" shape-rendering="crispEdges"/>
<text x="51.9" y="391.4" font-size="6.7" text-anchor="end" font-weight="bold" fill="#141c3a" textLength="3.7" lengthAdjust="spacingAndGlyphs" stroke="#141c3a" stroke-width="0.2">0</text>
<line x1="55.5" y1="380.8" x2="263.8" y2="380.8" stroke="#868686" stroke-width="1" shape-rendering="crispEdges"/>
<text x="51.9" y="382.4" font-size="6.7" text-anchor="end" font-weight="bold" fill="#141c3a" textLength="7.4" lengthAdjust="spacingAndGlyphs" stroke="#141c3a" stroke-width="0.2">50</text>
<line x1="55.5" y1="371.8" x2="263.8" y2="371.8" stroke="#868686" stroke-width="1" shape-rendering="crispEdges"/>
<text x="51.9" y="373.4" font-size="6.7" text-anchor="end" font-weight="bold" fill="#141c3a" textLength="11.1" lengthAdjust="spacingAndGlyphs" stroke="#141c3a" stroke-width="0.2">100</text>
<line x1="55.5" y1="362.8" x2="263.8" y2="362.8" stroke="#868686" stroke-width="1" shape-rendering="crispEdges"/>
<text x="51.9" y="364.4" font-size="6.7" text-anchor="end" font-weight="bold" fill="#141c3a" textLength="11.1" lengthAdjust="spacingAndGlyphs" stroke="#141c3a" stroke-width="0.2">150</text>
<line x1="55.5" y1="353.8" x2="263.8" y2="353.8" stroke="#868686" stroke-width="1" shape-rendering="crispEdges"/>
<text x="51.9" y="355.4" font-size="6.7" text-anchor="end" font-weight="bold" fill="#141c3a" textLength="11.1" lengthAdjust="spacingAndGlyphs" stroke="#141c3a" stroke-width="0.2">200</text>
<line x1="55.5" y1="344.8" x2="263.8" y2="344.8" stroke="#868686" stroke-width="1" shape-rendering="crispEdges"/>
<text x="51.9" y="346.4" font-size="6.7" text-anchor="end" font-weight="bold" fill="#141c3a" textLength="11.1" lengthAdjust="spacingAndGlyphs" stroke="#141c3a" stroke-width="0.2">250</text>
<line x1="55.5" y1="335.8" x2="263.8" y2="335.8" stroke="#868686" stroke-width="1" shape-rendering="crispEdges"/>
<text x="51.9" y="337.4" font-size="6.7" text-anchor="end" font-weight="bold" fill="#141c3a" textLength="11.1" lengthAdjust="spacingAndGlyphs" stroke="#141c3a" stroke-width="0.2">300</text>
<line x1="55.5" y1="326.8" x2="263.8" y2="326.8" stroke="#868686" stroke-width="1" shape-rendering="crispEdges"/>
<text x="51.9" y="328.4" font-size="6.7" text-anchor="end" font-weight="bold" fill="#141c3a" textLength="11.1" lengthAdjust="spacingAndGlyphs" stroke="#141c3a" stroke-width="0.2">350</text>
<line x1="55.5" y1="317.8" x2="263.8" y2="317.8" stroke="#868686" stroke-width="1" shape-rendering="crispEdges"/>
<text x="51.9" y="319.4" font-size="6.7" text-anchor="end" font-weight="bold" fill="#141c3a" textLength="11.1" lengthAdjust="spacingAndGlyphs" stroke="#141c3a" stroke-width="0.2">400</text>
<line x1="55.5" y1="308.8" x2="263.8" y2="308.8" stroke="#868686" stroke-width="1" shape-rendering="crispEdges"/>
<text x="51.9" y="310.4" font-size="6.7" text-anchor="end" font-weight="bold" fill="#141c3a" textLength="11.1" lengthAdjust="spacingAndGlyphs" stroke="#141c3a" stroke-width="0.2">450</text>
<line x1="55.5" y1="299.8" x2="263.8" y2="299.8" stroke="#868686" stroke-width="1" shape-rendering="crispEdges"/>
<text x="51.9" y="301.4" font-size="6.7" text-anchor="end" font-weight="bold" fill="#141c3a" textLength="11.1" lengthAdjust="spacingAndGlyphs" stroke="#141c3a" stroke-width="0.2">500</text>
<line x1="58.3" y1="299.8" x2="58.3" y2="392.4" stroke="#868686" stroke-width="1" shape-rendering="crispEdges"/>
<line x1="75.42" y1="389.8" x2="75.42" y2="392.4" stroke="#868686" stroke-width="1" shape-rendering="crispEdges"/>
<line x1="92.55" y1="389.8" x2="92.55" y2="392.4" stroke="#868686" stroke-width="1" shape-rendering="crispEdges"/>
<line x1="109.67" y1="389.8" x2="109.67" y2="392.4" stroke="#868686" stroke-width="1" shape-rendering="crispEdges"/>
<line x1="126.8" y1="389.8" x2="126.8" y2="392.4" stroke="#868686" stroke-width="1" shape-rendering="crispEdges"/>
<line x1="143.93" y1="389.8" x2="143.93" y2="392.4" stroke="#868686" stroke-width="1" shape-rendering="crispEdges"/>
<line x1="161.05" y1="389.8" x2="161.05" y2="392.4" stroke="#868686" stroke-width="1" shape-rendering="crispEdges"/>
<line x1="178.18" y1="389.8" x2="178.18" y2="392.4" stroke="#868686" stroke-width="1" shape-rendering="crispEdges"/>
<line x1="195.3" y1="389.8" x2="195.3" y2="392.4" stroke="#868686" stroke-width="1" shape-rendering="crispEdges"/>
<line x1="212.43" y1="389.8" x2="212.43" y2="392.4" stroke="#868686" stroke-width="1" shape-rendering="crispEdges"/>
<line x1="229.55" y1="389.8" x2="229.55" y2="392.4" stroke="#868686" stroke-width="1" shape-rendering="crispEdges"/>
<line x1="246.68" y1="389.8" x2="246.68" y2="392.4" stroke="#868686" stroke-width="1" shape-rendering="crispEdges"/>
<line x1="263.8" y1="389.8" x2="263.8" y2="392.4" stroke="#868686" stroke-width="1" shape-rendering="crispEdges"/>
<text x="28.1" y="294" font-size="5.3" font-weight="bold" fill="#23315c" textLength="34.4" lengthAdjust="spacingAndGlyphs">precip.(mm)</text>
<text x="163.8" y="283.5" font-size="9.3" text-anchor="middle" textLength="205" lengthAdjust="spacingAndGlyphs" stroke="#000" stroke-width="0.3">Cumulative Area Average Precipitation (mm)</text>
<text x="79.5" y="297.5" font-size="9" font-weight="bold" textLength="37.5" lengthAdjust="spacingAndGlyphs">CYPRUS</text>
<text x="118.5" y="297.5" font-size="7.6" textLength="130.3" lengthAdjust="spacingAndGlyphs" stroke="#000" stroke-width="0.12">(Area under Government Control)</text>
<path d="M66.86 384.58 L83.99 374.86 L101.11 356.86 L118.24 340.12 L135.36 326.26 L152.49 316.9 L169.61 311.32 L186.74 308.26 L203.86 307.83 L220.99 306.64 L238.11 306.28 L255.24 305.56" fill="none" stroke="#4a7ebb" stroke-width="0.95" stroke-linejoin="round"/>
<path d="M66.86 382.08 L69.16 384.58 L66.86 387.08 L64.56 384.58 Z" fill="#4a7ebb"/>
<path d="M83.99 372.36 L86.29 374.86 L83.99 377.36 L81.69 374.86 Z" fill="#4a7ebb"/>
<path d="M101.11 354.36 L103.41 356.86 L101.11 359.36 L98.81 356.86 Z" fill="#4a7ebb"/>
<path d="M118.24 337.62 L120.54 340.12 L118.24 342.62 L115.94 340.12 Z" fill="#4a7ebb"/>
<path d="M135.36 323.76 L137.66 326.26 L135.36 328.76 L133.06 326.26 Z" fill="#4a7ebb"/>
<path d="M152.49 314.4 L154.79 316.9 L152.49 319.4 L150.19 316.9 Z" fill="#4a7ebb"/>
<path d="M169.61 308.82 L171.91 311.32 L169.61 313.82 L167.31 311.32 Z" fill="#4a7ebb"/>
<path d="M186.74 305.76 L189.04 308.26 L186.74 310.76 L184.44 308.26 Z" fill="#4a7ebb"/>
<path d="M203.86 305.33 L206.16 307.83 L203.86 310.33 L201.56 307.83 Z" fill="#4a7ebb"/>
<path d="M220.99 304.14 L223.29 306.64 L220.99 309.14 L218.69 306.64 Z" fill="#4a7ebb"/>
<path d="M238.11 303.78 L240.41 306.28 L238.11 308.78 L235.81 306.28 Z" fill="#4a7ebb"/>
<path d="M255.24 303.06 L257.54 305.56 L255.24 308.06 L252.94 305.56 Z" fill="#4a7ebb"/>
<path d="M66.86 389.8 L83.99 374.86 L101.11 353.08 L118.24 349.84 L135.36 343.9 L152.49 341.38 L169.61 336.88 L186.74 334.18 L203.86 333.96" fill="none" stroke="#be4b48" stroke-width="0.95" stroke-linejoin="round"/>
<rect x="64.96" y="387.9" width="3.8" height="3.8" fill="#be4b48"/>
<rect x="82.09" y="372.96" width="3.8" height="3.8" fill="#be4b48"/>
<rect x="99.21" y="351.18" width="3.8" height="3.8" fill="#be4b48"/>
<rect x="116.34" y="347.94" width="3.8" height="3.8" fill="#be4b48"/>
<rect x="133.46" y="342" width="3.8" height="3.8" fill="#be4b48"/>
<rect x="150.59" y="339.48" width="3.8" height="3.8" fill="#be4b48"/>
<rect x="167.71" y="334.98" width="3.8" height="3.8" fill="#be4b48"/>
<rect x="184.84" y="332.28" width="3.8" height="3.8" fill="#be4b48"/>
<rect x="201.96" y="332.06" width="3.8" height="3.8" fill="#be4b48"/>
<text x="66.26" y="398.6" font-size="7.3" font-weight="bold" textLength="10.5" lengthAdjust="spacingAndGlyphs" transform="rotate(45 66.26 398.6)" dominant-baseline="middle" stroke="#000" stroke-width="0.15">Oct</text>
<text x="83.39" y="398.6" font-size="7.3" font-weight="bold" textLength="25.5" lengthAdjust="spacingAndGlyphs" transform="rotate(45 83.39 398.6)" dominant-baseline="middle" stroke="#000" stroke-width="0.15">Oct-Nov</text>
<text x="100.51" y="398.6" font-size="7.3" font-weight="bold" textLength="25" lengthAdjust="spacingAndGlyphs" transform="rotate(45 100.51 398.6)" dominant-baseline="middle" stroke="#000" stroke-width="0.15">Oct-Dec</text>
<text x="117.64" y="398.6" font-size="7.3" font-weight="bold" textLength="23.5" lengthAdjust="spacingAndGlyphs" transform="rotate(45 117.64 398.6)" dominant-baseline="middle" stroke="#000" stroke-width="0.15">Oct-Jan</text>
<text x="134.76" y="398.6" font-size="7.3" font-weight="bold" textLength="24.5" lengthAdjust="spacingAndGlyphs" transform="rotate(45 134.76 398.6)" dominant-baseline="middle" stroke="#000" stroke-width="0.15">Oct-Feb</text>
<text x="151.89" y="398.6" font-size="7.3" font-weight="bold" textLength="25.5" lengthAdjust="spacingAndGlyphs" transform="rotate(45 151.89 398.6)" dominant-baseline="middle" stroke="#000" stroke-width="0.15">Oct-Mar</text>
<text x="169.01" y="398.6" font-size="7.3" font-weight="bold" textLength="24.5" lengthAdjust="spacingAndGlyphs" transform="rotate(45 169.01 398.6)" dominant-baseline="middle" stroke="#000" stroke-width="0.15">Oct-Apr</text>
<text x="186.14" y="398.6" font-size="7.3" font-weight="bold" textLength="26.5" lengthAdjust="spacingAndGlyphs" transform="rotate(45 186.14 398.6)" dominant-baseline="middle" stroke="#000" stroke-width="0.15">Oct-May</text>
<text x="203.26" y="398.6" font-size="7.3" font-weight="bold" textLength="23.5" lengthAdjust="spacingAndGlyphs" transform="rotate(45 203.26 398.6)" dominant-baseline="middle" stroke="#000" stroke-width="0.15">Oct-Jun</text>
<text x="220.39" y="398.6" font-size="7.3" font-weight="bold" textLength="22" lengthAdjust="spacingAndGlyphs" transform="rotate(45 220.39 398.6)" dominant-baseline="middle" stroke="#000" stroke-width="0.15">Oct-Jul</text>
<text x="237.51" y="398.6" font-size="7.3" font-weight="bold" textLength="25.5" lengthAdjust="spacingAndGlyphs" transform="rotate(45 237.51 398.6)" dominant-baseline="middle" stroke="#000" stroke-width="0.15">Oct-Aug</text>
<text x="254.64" y="398.6" font-size="7.3" font-weight="bold" textLength="25" lengthAdjust="spacingAndGlyphs" transform="rotate(45 254.64 398.6)" dominant-baseline="middle" stroke="#000" stroke-width="0.15">Oct-Sep</text>
<line x1="26.8" y1="431" x2="33.4" y2="431" stroke="#4a7ebb" stroke-width="1.1" />
<path d="M30 428.8 L32.2 431 L30 433.2 L27.8 431 Z" fill="#4a7ebb"/>
<line x1="26.8" y1="444" x2="33.4" y2="444" stroke="#be4b48" stroke-width="1.1" />
<rect x="28.2" y="442.2" width="3.6" height="3.6" fill="#be4b48"/>
<text x="33.8" y="433.8" font-size="9.2" textLength="253.7" lengthAdjust="spacingAndGlyphs" stroke="#000" stroke-width="0.12">Cum. Area Aver Precip.(mm) (Oct.1970-Sep.2010) - Normal</text>
<text x="33.8" y="446.8" font-size="9.2" textLength="248.2" lengthAdjust="spacingAndGlyphs" stroke="#000" stroke-width="0.12">Cum. Area Aver Precip.(mm) (Oct.2024-Jun.2025) - Actual</text>
</g>
<g id="chart-polis">
<rect x="20.5" y="460.5" width="257.8" height="167" fill="#fff" stroke="#8a8a8a" stroke-width="1" shape-rendering="crispEdges"/>
<line x1="54.7" y1="570.5" x2="250" y2="570.5" stroke="#868686" stroke-width="1" shape-rendering="crispEdges"/>
<text x="51.1" y="572.1" font-size="6.7" text-anchor="end" font-weight="bold" fill="#141c3a" textLength="3.7" lengthAdjust="spacingAndGlyphs" stroke="#141c3a" stroke-width="0.2">0</text>
<line x1="54.7" y1="556.33" x2="250" y2="556.33" stroke="#868686" stroke-width="1" shape-rendering="crispEdges"/>
<text x="51.1" y="557.93" font-size="6.7" text-anchor="end" font-weight="bold" fill="#141c3a" textLength="11.1" lengthAdjust="spacingAndGlyphs" stroke="#141c3a" stroke-width="0.2">100</text>
<line x1="54.7" y1="542.17" x2="250" y2="542.17" stroke="#868686" stroke-width="1" shape-rendering="crispEdges"/>
<text x="51.1" y="543.77" font-size="6.7" text-anchor="end" font-weight="bold" fill="#141c3a" textLength="11.1" lengthAdjust="spacingAndGlyphs" stroke="#141c3a" stroke-width="0.2">200</text>
<line x1="54.7" y1="528" x2="250" y2="528" stroke="#868686" stroke-width="1" shape-rendering="crispEdges"/>
<text x="51.1" y="529.6" font-size="6.7" text-anchor="end" font-weight="bold" fill="#141c3a" textLength="11.1" lengthAdjust="spacingAndGlyphs" stroke="#141c3a" stroke-width="0.2">300</text>
<line x1="54.7" y1="513.83" x2="250" y2="513.83" stroke="#868686" stroke-width="1" shape-rendering="crispEdges"/>
<text x="51.1" y="515.43" font-size="6.7" text-anchor="end" font-weight="bold" fill="#141c3a" textLength="11.1" lengthAdjust="spacingAndGlyphs" stroke="#141c3a" stroke-width="0.2">400</text>
<line x1="54.7" y1="499.67" x2="250" y2="499.67" stroke="#868686" stroke-width="1" shape-rendering="crispEdges"/>
<text x="51.1" y="501.27" font-size="6.7" text-anchor="end" font-weight="bold" fill="#141c3a" textLength="11.1" lengthAdjust="spacingAndGlyphs" stroke="#141c3a" stroke-width="0.2">500</text>
<line x1="54.7" y1="485.5" x2="250" y2="485.5" stroke="#868686" stroke-width="1" shape-rendering="crispEdges"/>
<text x="51.1" y="487.1" font-size="6.7" text-anchor="end" font-weight="bold" fill="#141c3a" textLength="11.1" lengthAdjust="spacingAndGlyphs" stroke="#141c3a" stroke-width="0.2">600</text>
<line x1="57.5" y1="485.5" x2="57.5" y2="573.1" stroke="#868686" stroke-width="1" shape-rendering="crispEdges"/>
<line x1="73.54" y1="570.5" x2="73.54" y2="573.1" stroke="#868686" stroke-width="1" shape-rendering="crispEdges"/>
<line x1="89.58" y1="570.5" x2="89.58" y2="573.1" stroke="#868686" stroke-width="1" shape-rendering="crispEdges"/>
<line x1="105.62" y1="570.5" x2="105.62" y2="573.1" stroke="#868686" stroke-width="1" shape-rendering="crispEdges"/>
<line x1="121.67" y1="570.5" x2="121.67" y2="573.1" stroke="#868686" stroke-width="1" shape-rendering="crispEdges"/>
<line x1="137.71" y1="570.5" x2="137.71" y2="573.1" stroke="#868686" stroke-width="1" shape-rendering="crispEdges"/>
<line x1="153.75" y1="570.5" x2="153.75" y2="573.1" stroke="#868686" stroke-width="1" shape-rendering="crispEdges"/>
<line x1="169.79" y1="570.5" x2="169.79" y2="573.1" stroke="#868686" stroke-width="1" shape-rendering="crispEdges"/>
<line x1="185.83" y1="570.5" x2="185.83" y2="573.1" stroke="#868686" stroke-width="1" shape-rendering="crispEdges"/>
<line x1="201.88" y1="570.5" x2="201.88" y2="573.1" stroke="#868686" stroke-width="1" shape-rendering="crispEdges"/>
<line x1="217.92" y1="570.5" x2="217.92" y2="573.1" stroke="#868686" stroke-width="1" shape-rendering="crispEdges"/>
<line x1="233.96" y1="570.5" x2="233.96" y2="573.1" stroke="#868686" stroke-width="1" shape-rendering="crispEdges"/>
<line x1="250" y1="570.5" x2="250" y2="573.1" stroke="#868686" stroke-width="1" shape-rendering="crispEdges"/>
<text x="28.9" y="480.7" font-size="5.2" font-weight="bold" fill="#23315c" textLength="32" lengthAdjust="spacingAndGlyphs">precip.(mm)</text>
<text x="160.9" y="471.3" font-size="9.3" text-anchor="middle" textLength="194.2" lengthAdjust="spacingAndGlyphs" stroke="#000" stroke-width="0.3">Cumulative Area Average Precipitation (mm)</text>
<text x="160.9" y="483.8" font-size="9.3" text-anchor="middle" textLength="123.2" lengthAdjust="spacingAndGlyphs" stroke="#000" stroke-width="0.3">Hydrological Region 2 (Polis)</text>
<path d="M65.52 565.83 L81.56 555.77 L97.6 540.04 L113.65 524.46 L129.69 511.99 L145.73 503.21 L161.77 498.25 L177.81 495.84 L193.85 495.18 L209.9 494.99 L225.94 494.92 L241.98 494.57" fill="none" stroke="#4a7ebb" stroke-width="0.95" stroke-linejoin="round"/>
<path d="M65.52 563.33 L67.82 565.83 L65.52 568.33 L63.22 565.83 Z" fill="#4a7ebb"/>
<path d="M81.56 553.27 L83.86 555.77 L81.56 558.27 L79.26 555.77 Z" fill="#4a7ebb"/>
<path d="M97.6 537.54 L99.9 540.04 L97.6 542.54 L95.3 540.04 Z" fill="#4a7ebb"/>
<path d="M113.65 521.96 L115.95 524.46 L113.65 526.96 L111.35 524.46 Z" fill="#4a7ebb"/>
<path d="M129.69 509.49 L131.99 511.99 L129.69 514.49 L127.39 511.99 Z" fill="#4a7ebb"/>
<path d="M145.73 500.71 L148.03 503.21 L145.73 505.71 L143.43 503.21 Z" fill="#4a7ebb"/>
<path d="M161.77 495.75 L164.07 498.25 L161.77 500.75 L159.47 498.25 Z" fill="#4a7ebb"/>
<path d="M177.81 493.34 L180.11 495.84 L177.81 498.34 L175.51 495.84 Z" fill="#4a7ebb"/>
<path d="M193.85 492.68 L196.15 495.18 L193.85 497.68 L191.55 495.18 Z" fill="#4a7ebb"/>
<path d="M209.9 492.49 L212.2 494.99 L209.9 497.49 L207.6 494.99 Z" fill="#4a7ebb"/>
<path d="M225.94 492.42 L228.24 494.92 L225.94 497.42 L223.64 494.92 Z" fill="#4a7ebb"/>
<path d="M241.98 492.07 L244.28 494.57 L241.98 497.07 L239.68 494.57 Z" fill="#4a7ebb"/>
<path d="M65.52 570.5 L81.56 558.03 L97.6 538.06 L113.65 533.81 L129.69 527.72 L145.73 525.02 L161.77 520.77 L177.81 518.51 L193.85 518.41" fill="none" stroke="#be4b48" stroke-width="0.95" stroke-linejoin="round"/>
<rect x="63.62" y="568.6" width="3.8" height="3.8" fill="#be4b48"/>
<rect x="79.66" y="556.13" width="3.8" height="3.8" fill="#be4b48"/>
<rect x="95.7" y="536.16" width="3.8" height="3.8" fill="#be4b48"/>
<rect x="111.75" y="531.91" width="3.8" height="3.8" fill="#be4b48"/>
<rect x="127.79" y="525.82" width="3.8" height="3.8" fill="#be4b48"/>
<rect x="143.83" y="523.12" width="3.8" height="3.8" fill="#be4b48"/>
<rect x="159.87" y="518.88" width="3.8" height="3.8" fill="#be4b48"/>
<rect x="175.91" y="516.61" width="3.8" height="3.8" fill="#be4b48"/>
<rect x="191.95" y="516.51" width="3.8" height="3.8" fill="#be4b48"/>
<text x="64.92" y="579.3" font-size="7.3" font-weight="bold" textLength="10.5" lengthAdjust="spacingAndGlyphs" transform="rotate(45 64.92 579.3)" dominant-baseline="middle" stroke="#000" stroke-width="0.15">Oct</text>
<text x="80.96" y="579.3" font-size="7.3" font-weight="bold" textLength="25.5" lengthAdjust="spacingAndGlyphs" transform="rotate(45 80.96 579.3)" dominant-baseline="middle" stroke="#000" stroke-width="0.15">Oct-Nov</text>
<text x="97" y="579.3" font-size="7.3" font-weight="bold" textLength="25" lengthAdjust="spacingAndGlyphs" transform="rotate(45 97 579.3)" dominant-baseline="middle" stroke="#000" stroke-width="0.15">Oct-Dec</text>
<text x="113.05" y="579.3" font-size="7.3" font-weight="bold" textLength="23.5" lengthAdjust="spacingAndGlyphs" transform="rotate(45 113.05 579.3)" dominant-baseline="middle" stroke="#000" stroke-width="0.15">Oct-Jan</text>
<text x="129.09" y="579.3" font-size="7.3" font-weight="bold" textLength="24.5" lengthAdjust="spacingAndGlyphs" transform="rotate(45 129.09 579.3)" dominant-baseline="middle" stroke="#000" stroke-width="0.15">Oct-Feb</text>
<text x="145.13" y="579.3" font-size="7.3" font-weight="bold" textLength="25.5" lengthAdjust="spacingAndGlyphs" transform="rotate(45 145.13 579.3)" dominant-baseline="middle" stroke="#000" stroke-width="0.15">Oct-Mar</text>
<text x="161.17" y="579.3" font-size="7.3" font-weight="bold" textLength="24.5" lengthAdjust="spacingAndGlyphs" transform="rotate(45 161.17 579.3)" dominant-baseline="middle" stroke="#000" stroke-width="0.15">Oct-Apr</text>
<text x="177.21" y="579.3" font-size="7.3" font-weight="bold" textLength="26.5" lengthAdjust="spacingAndGlyphs" transform="rotate(45 177.21 579.3)" dominant-baseline="middle" stroke="#000" stroke-width="0.15">Oct-May</text>
<text x="193.25" y="579.3" font-size="7.3" font-weight="bold" textLength="23.5" lengthAdjust="spacingAndGlyphs" transform="rotate(45 193.25 579.3)" dominant-baseline="middle" stroke="#000" stroke-width="0.15">Oct-Jun</text>
<text x="209.3" y="579.3" font-size="7.3" font-weight="bold" textLength="22" lengthAdjust="spacingAndGlyphs" transform="rotate(45 209.3 579.3)" dominant-baseline="middle" stroke="#000" stroke-width="0.15">Oct-Jul</text>
<text x="225.34" y="579.3" font-size="7.3" font-weight="bold" textLength="25.5" lengthAdjust="spacingAndGlyphs" transform="rotate(45 225.34 579.3)" dominant-baseline="middle" stroke="#000" stroke-width="0.15">Oct-Aug</text>
<text x="241.38" y="579.3" font-size="7.3" font-weight="bold" textLength="25" lengthAdjust="spacingAndGlyphs" transform="rotate(45 241.38 579.3)" dominant-baseline="middle" stroke="#000" stroke-width="0.15">Oct-Sep</text>
<line x1="27.3" y1="608.5" x2="33.9" y2="608.5" stroke="#4a7ebb" stroke-width="1.1" />
<path d="M30.5 606.3 L32.7 608.5 L30.5 610.7 L28.3 608.5 Z" fill="#4a7ebb"/>
<line x1="27.3" y1="620.5" x2="33.9" y2="620.5" stroke="#be4b48" stroke-width="1.1" />
<rect x="28.7" y="618.7" width="3.6" height="3.6" fill="#be4b48"/>
<text x="35.5" y="611.3" font-size="9.2" textLength="238.3" lengthAdjust="spacingAndGlyphs" stroke="#000" stroke-width="0.12">Cum. Area Aver Precip.(mm) (Oct.1970-Sep.2010) - Normal</text>
<text x="35.5" y="623.3" font-size="9.2" textLength="233.3" lengthAdjust="spacingAndGlyphs" stroke="#000" stroke-width="0.12">Cum. Area Aver Precip.(mm) (Oct.2024-Jun.2025) - Actual</text>
</g>
<g id="chart-pafos">
<rect x="22.5" y="633.8" width="257.5" height="168" fill="#fff" stroke="#8a8a8a" stroke-width="1" shape-rendering="crispEdges"/>
<line x1="56.7" y1="744" x2="252" y2="744" stroke="#868686" stroke-width="1" shape-rendering="crispEdges"/>
<text x="53.1" y="745.6" font-size="6.7" text-anchor="end" font-weight="bold" fill="#141c3a" textLength="3.7" lengthAdjust="spacingAndGlyphs" stroke="#141c3a" stroke-width="0.2">0</text>
<line x1="56.7" y1="729.72" x2="252" y2="729.72" stroke="#868686" stroke-width="1" shape-rendering="crispEdges"/>
<text x="53.1" y="731.32" font-size="6.7" text-anchor="end" font-weight="bold" fill="#141c3a" textLength="11.1" lengthAdjust="spacingAndGlyphs" stroke="#141c3a" stroke-width="0.2">100</text>
<line x1="56.7" y1="715.43" x2="252" y2="715.43" stroke="#868686" stroke-width="1" shape-rendering="crispEdges"/>
<text x="53.1" y="717.03" font-size="6.7" text-anchor="end" font-weight="bold" fill="#141c3a" textLength="11.1" lengthAdjust="spacingAndGlyphs" stroke="#141c3a" stroke-width="0.2">200</text>
<line x1="56.7" y1="701.15" x2="252" y2="701.15" stroke="#868686" stroke-width="1" shape-rendering="crispEdges"/>
<text x="53.1" y="702.75" font-size="6.7" text-anchor="end" font-weight="bold" fill="#141c3a" textLength="11.1" lengthAdjust="spacingAndGlyphs" stroke="#141c3a" stroke-width="0.2">300</text>
<line x1="56.7" y1="686.87" x2="252" y2="686.87" stroke="#868686" stroke-width="1" shape-rendering="crispEdges"/>
<text x="53.1" y="688.47" font-size="6.7" text-anchor="end" font-weight="bold" fill="#141c3a" textLength="11.1" lengthAdjust="spacingAndGlyphs" stroke="#141c3a" stroke-width="0.2">400</text>
<line x1="56.7" y1="672.58" x2="252" y2="672.58" stroke="#868686" stroke-width="1" shape-rendering="crispEdges"/>
<text x="53.1" y="674.18" font-size="6.7" text-anchor="end" font-weight="bold" fill="#141c3a" textLength="11.1" lengthAdjust="spacingAndGlyphs" stroke="#141c3a" stroke-width="0.2">500</text>
<line x1="56.7" y1="658.3" x2="252" y2="658.3" stroke="#868686" stroke-width="1" shape-rendering="crispEdges"/>
<text x="53.1" y="659.9" font-size="6.7" text-anchor="end" font-weight="bold" fill="#141c3a" textLength="11.1" lengthAdjust="spacingAndGlyphs" stroke="#141c3a" stroke-width="0.2">600</text>
<line x1="59.5" y1="658.3" x2="59.5" y2="746.6" stroke="#868686" stroke-width="1" shape-rendering="crispEdges"/>
<line x1="75.54" y1="744" x2="75.54" y2="746.6" stroke="#868686" stroke-width="1" shape-rendering="crispEdges"/>
<line x1="91.58" y1="744" x2="91.58" y2="746.6" stroke="#868686" stroke-width="1" shape-rendering="crispEdges"/>
<line x1="107.62" y1="744" x2="107.62" y2="746.6" stroke="#868686" stroke-width="1" shape-rendering="crispEdges"/>
<line x1="123.67" y1="744" x2="123.67" y2="746.6" stroke="#868686" stroke-width="1" shape-rendering="crispEdges"/>
<line x1="139.71" y1="744" x2="139.71" y2="746.6" stroke="#868686" stroke-width="1" shape-rendering="crispEdges"/>
<line x1="155.75" y1="744" x2="155.75" y2="746.6" stroke="#868686" stroke-width="1" shape-rendering="crispEdges"/>
<line x1="171.79" y1="744" x2="171.79" y2="746.6" stroke="#868686" stroke-width="1" shape-rendering="crispEdges"/>
<line x1="187.83" y1="744" x2="187.83" y2="746.6" stroke="#868686" stroke-width="1" shape-rendering="crispEdges"/>
<line x1="203.88" y1="744" x2="203.88" y2="746.6" stroke="#868686" stroke-width="1" shape-rendering="crispEdges"/>
<line x1="219.92" y1="744" x2="219.92" y2="746.6" stroke="#868686" stroke-width="1" shape-rendering="crispEdges"/>
<line x1="235.96" y1="744" x2="235.96" y2="746.6" stroke="#868686" stroke-width="1" shape-rendering="crispEdges"/>
<line x1="252" y1="744" x2="252" y2="746.6" stroke="#868686" stroke-width="1" shape-rendering="crispEdges"/>
<text x="30.9" y="653.5" font-size="5.2" font-weight="bold" fill="#23315c" textLength="32" lengthAdjust="spacingAndGlyphs">precip.(mm)</text>
<text x="163.8" y="643.8" font-size="9.3" text-anchor="middle" textLength="195" lengthAdjust="spacingAndGlyphs" stroke="#000" stroke-width="0.3">Cumulative Area Average Precipitation (mm)</text>
<text x="164" y="656.5" font-size="9.3" text-anchor="middle" textLength="127" lengthAdjust="spacingAndGlyphs" stroke="#000" stroke-width="0.3">Hydrological Region 1 (Pafos)</text>
<path d="M67.52 738.72 L83.56 728.29 L99.6 712.58 L115.65 696.01 L131.69 682.58 L147.73 673.87 L163.77 668.87 L179.81 666.87 L195.85 665.14 L211.9 665.3 L227.94 664.87 L243.98 664.01" fill="none" stroke="#4a7ebb" stroke-width="0.95" stroke-linejoin="round"/>
<path d="M67.52 736.22 L69.82 738.72 L67.52 741.22 L65.22 738.72 Z" fill="#4a7ebb"/>
<path d="M83.56 725.79 L85.86 728.29 L83.56 730.79 L81.26 728.29 Z" fill="#4a7ebb"/>
<path d="M99.6 710.08 L101.9 712.58 L99.6 715.08 L97.3 712.58 Z" fill="#4a7ebb"/>
<path d="M115.65 693.51 L117.95 696.01 L115.65 698.51 L113.35 696.01 Z" fill="#4a7ebb"/>
<path d="M131.69 680.08 L133.99 682.58 L131.69 685.08 L129.39 682.58 Z" fill="#4a7ebb"/>
<path d="M147.73 671.37 L150.03 673.87 L147.73 676.37 L145.43 673.87 Z" fill="#4a7ebb"/>
<path d="M163.77 666.37 L166.07 668.87 L163.77 671.37 L161.47 668.87 Z" fill="#4a7ebb"/>
<path d="M179.81 664.37 L182.11 666.87 L179.81 669.37 L177.51 666.87 Z" fill="#4a7ebb"/>
<path d="M195.85 662.64 L198.15 665.14 L195.85 667.64 L193.55 665.14 Z" fill="#4a7ebb"/>
<path d="M211.9 662.8 L214.2 665.3 L211.9 667.8 L209.6 665.3 Z" fill="#4a7ebb"/>
<path d="M227.94 662.37 L230.24 664.87 L227.94 667.37 L225.64 664.87 Z" fill="#4a7ebb"/>
<path d="M243.98 661.51 L246.28 664.01 L243.98 666.51 L241.68 664.01 Z" fill="#4a7ebb"/>
<path d="M67.52 744 L83.56 728.72 L99.6 707.01 L115.65 701.72 L131.69 696.87 L147.73 694.87 L163.77 690.87 L179.81 687.58 L195.85 687.02" fill="none" stroke="#be4b48" stroke-width="0.95" stroke-linejoin="round"/>
<rect x="65.62" y="742.1" width="3.8" height="3.8" fill="#be4b48"/>
<rect x="81.66" y="726.82" width="3.8" height="3.8" fill="#be4b48"/>
<rect x="97.7" y="705.11" width="3.8" height="3.8" fill="#be4b48"/>
<rect x="113.75" y="699.82" width="3.8" height="3.8" fill="#be4b48"/>
<rect x="129.79" y="694.97" width="3.8" height="3.8" fill="#be4b48"/>
<rect x="145.83" y="692.97" width="3.8" height="3.8" fill="#be4b48"/>
<rect x="161.87" y="688.97" width="3.8" height="3.8" fill="#be4b48"/>
<rect x="177.91" y="685.68" width="3.8" height="3.8" fill="#be4b48"/>
<rect x="193.95" y="685.12" width="3.8" height="3.8" fill="#be4b48"/>
<text x="66.92" y="752.8" font-size="7.3" font-weight="bold" textLength="10.5" lengthAdjust="spacingAndGlyphs" transform="rotate(45 66.92 752.8)" dominant-baseline="middle" stroke="#000" stroke-width="0.15">Oct</text>
<text x="82.96" y="752.8" font-size="7.3" font-weight="bold" textLength="25.5" lengthAdjust="spacingAndGlyphs" transform="rotate(45 82.96 752.8)" dominant-baseline="middle" stroke="#000" stroke-width="0.15">Oct-Nov</text>
<text x="99" y="752.8" font-size="7.3" font-weight="bold" textLength="25" lengthAdjust="spacingAndGlyphs" transform="rotate(45 99 752.8)" dominant-baseline="middle" stroke="#000" stroke-width="0.15">Oct-Dec</text>
<text x="115.05" y="752.8" font-size="7.3" font-weight="bold" textLength="23.5" lengthAdjust="spacingAndGlyphs" transform="rotate(45 115.05 752.8)" dominant-baseline="middle" stroke="#000" stroke-width="0.15">Oct-Jan</text>
<text x="131.09" y="752.8" font-size="7.3" font-weight="bold" textLength="24.5" lengthAdjust="spacingAndGlyphs" transform="rotate(45 131.09 752.8)" dominant-baseline="middle" stroke="#000" stroke-width="0.15">Oct-Feb</text>
<text x="147.13" y="752.8" font-size="7.3" font-weight="bold" textLength="25.5" lengthAdjust="spacingAndGlyphs" transform="rotate(45 147.13 752.8)" dominant-baseline="middle" stroke="#000" stroke-width="0.15">Oct-Mar</text>
<text x="163.17" y="752.8" font-size="7.3" font-weight="bold" textLength="24.5" lengthAdjust="spacingAndGlyphs" transform="rotate(45 163.17 752.8)" dominant-baseline="middle" stroke="#000" stroke-width="0.15">Oct-Apr</text>
<text x="179.21" y="752.8" font-size="7.3" font-weight="bold" textLength="26.5" lengthAdjust="spacingAndGlyphs" transform="rotate(45 179.21 752.8)" dominant-baseline="middle" stroke="#000" stroke-width="0.15">Oct-May</text>
<text x="195.25" y="752.8" font-size="7.3" font-weight="bold" textLength="23.5" lengthAdjust="spacingAndGlyphs" transform="rotate(45 195.25 752.8)" dominant-baseline="middle" stroke="#000" stroke-width="0.15">Oct-Jun</text>
<text x="211.3" y="752.8" font-size="7.3" font-weight="bold" textLength="22" lengthAdjust="spacingAndGlyphs" transform="rotate(45 211.3 752.8)" dominant-baseline="middle" stroke="#000" stroke-width="0.15">Oct-Jul</text>
<text x="227.34" y="752.8" font-size="7.3" font-weight="bold" textLength="25.5" lengthAdjust="spacingAndGlyphs" transform="rotate(45 227.34 752.8)" dominant-baseline="middle" stroke="#000" stroke-width="0.15">Oct-Aug</text>
<text x="243.38" y="752.8" font-size="7.3" font-weight="bold" textLength="25" lengthAdjust="spacingAndGlyphs" transform="rotate(45 243.38 752.8)" dominant-baseline="middle" stroke="#000" stroke-width="0.15">Oct-Sep</text>
<line x1="28.1" y1="782.7" x2="34.7" y2="782.7" stroke="#4a7ebb" stroke-width="1.1" />
<path d="M31.3 780.5 L33.5 782.7 L31.3 784.9 L29.1 782.7 Z" fill="#4a7ebb"/>
<line x1="28.1" y1="794.2" x2="34.7" y2="794.2" stroke="#be4b48" stroke-width="1.1" />
<rect x="29.5" y="792.4" width="3.6" height="3.6" fill="#be4b48"/>
<text x="35.5" y="785.5" font-size="9.2" textLength="239.5" lengthAdjust="spacingAndGlyphs" stroke="#000" stroke-width="0.12">Cum. Area Aver Precip.(mm) (Oct.1970-Sep.2010) - Normal</text>
<text x="35.5" y="797" font-size="9.2" textLength="233.3" lengthAdjust="spacingAndGlyphs" stroke="#000" stroke-width="0.12">Cum. Area Aver Precip.(mm) (Oct.2024-Jun.2025) - Actual</text>
</g>
<g id="chart-lemesos">
<rect x="307.5" y="633.8" width="257.5" height="168" fill="#fff" stroke="#8a8a8a" stroke-width="1" shape-rendering="crispEdges"/>
<line x1="341.7" y1="744" x2="537" y2="744" stroke="#868686" stroke-width="1" shape-rendering="crispEdges"/>
<text x="338.1" y="745.6" font-size="6.7" text-anchor="end" font-weight="bold" fill="#141c3a" textLength="3.7" lengthAdjust="spacingAndGlyphs" stroke="#141c3a" stroke-width="0.2">0</text>
<line x1="341.7" y1="729.72" x2="537" y2="729.72" stroke="#868686" stroke-width="1" shape-rendering="crispEdges"/>
<text x="338.1" y="731.32" font-size="6.7" text-anchor="end" font-weight="bold" fill="#141c3a" textLength="11.1" lengthAdjust="spacingAndGlyphs" stroke="#141c3a" stroke-width="0.2">100</text>
<line x1="341.7" y1="715.43" x2="537" y2="715.43" stroke="#868686" stroke-width="1" shape-rendering="crispEdges"/>
<text x="338.1" y="717.03" font-size="6.7" text-anchor="end" font-weight="bold" fill="#141c3a" textLength="11.1" lengthAdjust="spacingAndGlyphs" stroke="#141c3a" stroke-width="0.2">200</text>
<line x1="341.7" y1="701.15" x2="537" y2="701.15" stroke="#868686" stroke-width="1" shape-rendering="crispEdges"/>
<text x="338.1" y="702.75" font-size="6.7" text-anchor="end" font-weight="bold" fill="#141c3a" textLength="11.1" lengthAdjust="spacingAndGlyphs" stroke="#141c3a" stroke-width="0.2">300</text>
<line x1="341.7" y1="686.87" x2="537" y2="686.87" stroke="#868686" stroke-width="1" shape-rendering="crispEdges"/>
<text x="338.1" y="688.47" font-size="6.7" text-anchor="end" font-weight="bold" fill="#141c3a" textLength="11.1" lengthAdjust="spacingAndGlyphs" stroke="#141c3a" stroke-width="0.2">400</text>
<line x1="341.7" y1="672.58" x2="537" y2="672.58" stroke="#868686" stroke-width="1" shape-rendering="crispEdges"/>
<text x="338.1" y="674.18" font-size="6.7" text-anchor="end" font-weight="bold" fill="#141c3a" textLength="11.1" lengthAdjust="spacingAndGlyphs" stroke="#141c3a" stroke-width="0.2">500</text>
<line x1="341.7" y1="658.3" x2="537" y2="658.3" stroke="#868686" stroke-width="1" shape-rendering="crispEdges"/>
<text x="338.1" y="659.9" font-size="6.7" text-anchor="end" font-weight="bold" fill="#141c3a" textLength="11.1" lengthAdjust="spacingAndGlyphs" stroke="#141c3a" stroke-width="0.2">600</text>
<line x1="344.5" y1="658.3" x2="344.5" y2="746.6" stroke="#868686" stroke-width="1" shape-rendering="crispEdges"/>
<line x1="360.54" y1="744" x2="360.54" y2="746.6" stroke="#868686" stroke-width="1" shape-rendering="crispEdges"/>
<line x1="376.58" y1="744" x2="376.58" y2="746.6" stroke="#868686" stroke-width="1" shape-rendering="crispEdges"/>
<line x1="392.62" y1="744" x2="392.62" y2="746.6" stroke="#868686" stroke-width="1" shape-rendering="crispEdges"/>
<line x1="408.67" y1="744" x2="408.67" y2="746.6" stroke="#868686" stroke-width="1" shape-rendering="crispEdges"/>
<line x1="424.71" y1="744" x2="424.71" y2="746.6" stroke="#868686" stroke-width="1" shape-rendering="crispEdges"/>
<line x1="440.75" y1="744" x2="440.75" y2="746.6" stroke="#868686" stroke-width="1" shape-rendering="crispEdges"/>
<line x1="456.79" y1="744" x2="456.79" y2="746.6" stroke="#868686" stroke-width="1" shape-rendering="crispEdges"/>
<line x1="472.83" y1="744" x2="472.83" y2="746.6" stroke="#868686" stroke-width="1" shape-rendering="crispEdges"/>
<line x1="488.88" y1="744" x2="488.88" y2="746.6" stroke="#868686" stroke-width="1" shape-rendering="crispEdges"/>
<line x1="504.92" y1="744" x2="504.92" y2="746.6" stroke="#868686" stroke-width="1" shape-rendering="crispEdges"/>
<line x1="520.96" y1="744" x2="520.96" y2="746.6" stroke="#868686" stroke-width="1" shape-rendering="crispEdges"/>
<line x1="537" y1="744" x2="537" y2="746.6" stroke="#868686" stroke-width="1" shape-rendering="crispEdges"/>
<text x="315.9" y="653.5" font-size="5.2" font-weight="bold" fill="#23315c" textLength="32" lengthAdjust="spacingAndGlyphs">precip.(mm)</text>
<text x="446.55" y="643.8" font-size="9.3" text-anchor="middle" textLength="194.5" lengthAdjust="spacingAndGlyphs" stroke="#000" stroke-width="0.3">Cumulative Area Average Precipitation (mm)</text>
<text x="446.3" y="656.5" font-size="9.3" text-anchor="middle" textLength="140" lengthAdjust="spacingAndGlyphs" stroke="#000" stroke-width="0.3">Hydrological Region 9 (Lemesos)</text>
<path d="M352.52 739.57 L368.56 730.72 L384.6 715 L400.65 700.01 L416.69 687.01 L432.73 679.58 L448.77 675.58 L464.81 673.01 L480.85 671.95 L496.9 671.8 L512.94 671.3 L528.98 670.01" fill="none" stroke="#4a7ebb" stroke-width="0.95" stroke-linejoin="round"/>
<path d="M352.52 737.07 L354.82 739.57 L352.52 742.07 L350.22 739.57 Z" fill="#4a7ebb"/>
<path d="M368.56 728.22 L370.86 730.72 L368.56 733.22 L366.26 730.72 Z" fill="#4a7ebb"/>
<path d="M384.6 712.5 L386.9 715 L384.6 717.5 L382.3 715 Z" fill="#4a7ebb"/>
<path d="M400.65 697.51 L402.95 700.01 L400.65 702.51 L398.35 700.01 Z" fill="#4a7ebb"/>
<path d="M416.69 684.51 L418.99 687.01 L416.69 689.51 L414.39 687.01 Z" fill="#4a7ebb"/>
<path d="M432.73 677.08 L435.03 679.58 L432.73 682.08 L430.43 679.58 Z" fill="#4a7ebb"/>
<path d="M448.77 673.08 L451.07 675.58 L448.77 678.08 L446.47 675.58 Z" fill="#4a7ebb"/>
<path d="M464.81 670.51 L467.11 673.01 L464.81 675.51 L462.51 673.01 Z" fill="#4a7ebb"/>
<path d="M480.85 669.45 L483.15 671.95 L480.85 674.45 L478.55 671.95 Z" fill="#4a7ebb"/>
<path d="M496.9 669.3 L499.2 671.8 L496.9 674.3 L494.6 671.8 Z" fill="#4a7ebb"/>
<path d="M512.94 668.8 L515.24 671.3 L512.94 673.8 L510.64 671.3 Z" fill="#4a7ebb"/>
<path d="M528.98 667.51 L531.28 670.01 L528.98 672.51 L526.68 670.01 Z" fill="#4a7ebb"/>
<path d="M352.52 744 L368.56 724.57 L384.6 705.01 L400.65 701.72 L416.69 696.58 L432.73 695.72 L448.77 692.72 L464.81 690.72 L480.85 690.25" fill="none" stroke="#be4b48" stroke-width="0.95" stroke-linejoin="round"/>
<rect x="350.62" y="742.1" width="3.8" height="3.8" fill="#be4b48"/>
<rect x="366.66" y="722.67" width="3.8" height="3.8" fill="#be4b48"/>
<rect x="382.7" y="703.11" width="3.8" height="3.8" fill="#be4b48"/>
<rect x="398.75" y="699.82" width="3.8" height="3.8" fill="#be4b48"/>
<rect x="414.79" y="694.68" width="3.8" height="3.8" fill="#be4b48"/>
<rect x="430.83" y="693.82" width="3.8" height="3.8" fill="#be4b48"/>
<rect x="446.87" y="690.82" width="3.8" height="3.8" fill="#be4b48"/>
<rect x="462.91" y="688.82" width="3.8" height="3.8" fill="#be4b48"/>
<rect x="478.95" y="688.35" width="3.8" height="3.8" fill="#be4b48"/>
<text x="351.92" y="752.8" font-size="7.3" font-weight="bold" textLength="10.5" lengthAdjust="spacingAndGlyphs" transform="rotate(45 351.92 752.8)" dominant-baseline="middle" stroke="#000" stroke-width="0.15">Oct</text>
<text x="367.96" y="752.8" font-size="7.3" font-weight="bold" textLength="25.5" lengthAdjust="spacingAndGlyphs" transform="rotate(45 367.96 752.8)" dominant-baseline="middle" stroke="#000" stroke-width="0.15">Oct-Nov</text>
<text x="384" y="752.8" font-size="7.3" font-weight="bold" textLength="25" lengthAdjust="spacingAndGlyphs" transform="rotate(45 384 752.8)" dominant-baseline="middle" stroke="#000" stroke-width="0.15">Oct-Dec</text>
<text x="400.05" y="752.8" font-size="7.3" font-weight="bold" textLength="23.5" lengthAdjust="spacingAndGlyphs" transform="rotate(45 400.05 752.8)" dominant-baseline="middle" stroke="#000" stroke-width="0.15">Oct-Jan</text>
<text x="416.09" y="752.8" font-size="7.3" font-weight="bold" textLength="24.5" lengthAdjust="spacingAndGlyphs" transform="rotate(45 416.09 752.8)" dominant-baseline="middle" stroke="#000" stroke-width="0.15">Oct-Feb</text>
<text x="432.13" y="752.8" font-size="7.3" font-weight="bold" textLength="25.5" lengthAdjust="spacingAndGlyphs" transform="rotate(45 432.13 752.8)" dominant-baseline="middle" stroke="#000" stroke-width="0.15">Oct-Mar</text>
<text x="448.17" y="752.8" font-size="7.3" font-weight="bold" textLength="24.5" lengthAdjust="spacingAndGlyphs" transform="rotate(45 448.17 752.8)" dominant-baseline="middle" stroke="#000" stroke-width="0.15">Oct-Apr</text>
<text x="464.21" y="752.8" font-size="7.3" font-weight="bold" textLength="26.5" lengthAdjust="spacingAndGlyphs" transform="rotate(45 464.21 752.8)" dominant-baseline="middle" stroke="#000" stroke-width="0.15">Oct-May</text>
<text x="480.25" y="752.8" font-size="7.3" font-weight="bold" textLength="23.5" lengthAdjust="spacingAndGlyphs" transform="rotate(45 480.25 752.8)" dominant-baseline="middle" stroke="#000" stroke-width="0.15">Oct-Jun</text>
<text x="496.3" y="752.8" font-size="7.3" font-weight="bold" textLength="22" lengthAdjust="spacingAndGlyphs" transform="rotate(45 496.3 752.8)" dominant-baseline="middle" stroke="#000" stroke-width="0.15">Oct-Jul</text>
<text x="512.34" y="752.8" font-size="7.3" font-weight="bold" textLength="25.5" lengthAdjust="spacingAndGlyphs" transform="rotate(45 512.34 752.8)" dominant-baseline="middle" stroke="#000" stroke-width="0.15">Oct-Aug</text>
<text x="528.38" y="752.8" font-size="7.3" font-weight="bold" textLength="25" lengthAdjust="spacingAndGlyphs" transform="rotate(45 528.38 752.8)" dominant-baseline="middle" stroke="#000" stroke-width="0.15">Oct-Sep</text>
<line x1="313.8" y1="782.7" x2="320.4" y2="782.7" stroke="#4a7ebb" stroke-width="1.1" />
<path d="M317 780.5 L319.2 782.7 L317 784.9 L314.8 782.7 Z" fill="#4a7ebb"/>
<line x1="313.8" y1="794.2" x2="320.4" y2="794.2" stroke="#be4b48" stroke-width="1.1" />
<rect x="315.2" y="792.4" width="3.6" height="3.6" fill="#be4b48"/>
<text x="322" y="785.5" font-size="9.2" textLength="238" lengthAdjust="spacingAndGlyphs" stroke="#000" stroke-width="0.12">Cum. Area Aver Precip.(mm) (Oct.1970-Sep.2010) - Normal</text>
<text x="322" y="797" font-size="9.2" textLength="232.5" lengthAdjust="spacingAndGlyphs" stroke="#000" stroke-width="0.12">Cum. Area Aver Precip.(mm) (Oct.2024-Jun.2025) - Actual</text>
</g>
<g id="chart-larnaka">
<rect x="592.5" y="632.5" width="257.5" height="168.3" fill="#fff" stroke="#8a8a8a" stroke-width="1" shape-rendering="crispEdges"/>
<line x1="626.7" y1="743" x2="822" y2="743" stroke="#868686" stroke-width="1" shape-rendering="crispEdges"/>
<text x="623.1" y="744.6" font-size="6.7" text-anchor="end" font-weight="bold" fill="#141c3a" textLength="3.7" lengthAdjust="spacingAndGlyphs" stroke="#141c3a" stroke-width="0.2">0</text>
<line x1="626.7" y1="733.5" x2="822" y2="733.5" stroke="#868686" stroke-width="1" shape-rendering="crispEdges"/>
<text x="623.1" y="735.1" font-size="6.7" text-anchor="end" font-weight="bold" fill="#141c3a" textLength="7.4" lengthAdjust="spacingAndGlyphs" stroke="#141c3a" stroke-width="0.2">50</text>
<line x1="626.7" y1="724" x2="822" y2="724" stroke="#868686" stroke-width="1" shape-rendering="crispEdges"/>
<text x="623.1" y="725.6" font-size="6.7" text-anchor="end" font-weight="bold" fill="#141c3a" textLength="11.1" lengthAdjust="spacingAndGlyphs" stroke="#141c3a" stroke-width="0.2">100</text>
<line x1="626.7" y1="714.5" x2="822" y2="714.5" stroke="#868686" stroke-width="1" shape-rendering="crispEdges"/>
<text x="623.1" y="716.1" font-size="6.7" text-anchor="end" font-weight="bold" fill="#141c3a" textLength="11.1" lengthAdjust="spacingAndGlyphs" stroke="#141c3a" stroke-width="0.2">150</text>
<line x1="626.7" y1="705" x2="822" y2="705" stroke="#868686" stroke-width="1" shape-rendering="crispEdges"/>
<text x="623.1" y="706.6" font-size="6.7" text-anchor="end" font-weight="bold" fill="#141c3a" textLength="11.1" lengthAdjust="spacingAndGlyphs" stroke="#141c3a" stroke-width="0.2">200</text>
<line x1="626.7" y1="695.5" x2="822" y2="695.5" stroke="#868686" stroke-width="1" shape-rendering="crispEdges"/>
<text x="623.1" y="697.1" font-size="6.7" text-anchor="end" font-weight="bold" fill="#141c3a" textLength="11.1" lengthAdjust="spacingAndGlyphs" stroke="#141c3a" stroke-width="0.2">250</text>
<line x1="626.7" y1="686" x2="822" y2="686" stroke="#868686" stroke-width="1" shape-rendering="crispEdges"/>
<text x="623.1" y="687.6" font-size="6.7" text-anchor="end" font-weight="bold" fill="#141c3a" textLength="11.1" lengthAdjust="spacingAndGlyphs" stroke="#141c3a" stroke-width="0.2">300</text>
<line x1="626.7" y1="676.5" x2="822" y2="676.5" stroke="#868686" stroke-width="1" shape-rendering="crispEdges"/>
<text x="623.1" y="678.1" font-size="6.7" text-anchor="end" font-weight="bold" fill="#141c3a" textLength="11.1" lengthAdjust="spacingAndGlyphs" stroke="#141c3a" stroke-width="0.2">350</text>
<line x1="626.7" y1="667" x2="822" y2="667" stroke="#868686" stroke-width="1" shape-rendering="crispEdges"/>
<text x="623.1" y="668.6" font-size="6.7" text-anchor="end" font-weight="bold" fill="#141c3a" textLength="11.1" lengthAdjust="spacingAndGlyphs" stroke="#141c3a" stroke-width="0.2">400</text>
<line x1="626.7" y1="657.5" x2="822" y2="657.5" stroke="#868686" stroke-width="1" shape-rendering="crispEdges"/>
<text x="623.1" y="659.1" font-size="6.7" text-anchor="end" font-weight="bold" fill="#141c3a" textLength="11.1" lengthAdjust="spacingAndGlyphs" stroke="#141c3a" stroke-width="0.2">450</text>
<line x1="629.5" y1="657.5" x2="629.5" y2="745.6" stroke="#868686" stroke-width="1" shape-rendering="crispEdges"/>
<line x1="645.54" y1="743" x2="645.54" y2="745.6" stroke="#868686" stroke-width="1" shape-rendering="crispEdges"/>
<line x1="661.58" y1="743" x2="661.58" y2="745.6" stroke="#868686" stroke-width="1" shape-rendering="crispEdges"/>
<line x1="677.62" y1="743" x2="677.62" y2="745.6" stroke="#868686" stroke-width="1" shape-rendering="crispEdges"/>
<line x1="693.67" y1="743" x2="693.67" y2="745.6" stroke="#868686" stroke-width="1" shape-rendering="crispEdges"/>
<line x1="709.71" y1="743" x2="709.71" y2="745.6" stroke="#868686" stroke-width="1" shape-rendering="crispEdges"/>
<line x1="725.75" y1="743" x2="725.75" y2="745.6" stroke="#868686" stroke-width="1" shape-rendering="crispEdges"/>
<line x1="741.79" y1="743" x2="741.79" y2="745.6" stroke="#868686" stroke-width="1" shape-rendering="crispEdges"/>
<line x1="757.83" y1="743" x2="757.83" y2="745.6" stroke="#868686" stroke-width="1" shape-rendering="crispEdges"/>
<line x1="773.88" y1="743" x2="773.88" y2="745.6" stroke="#868686" stroke-width="1" shape-rendering="crispEdges"/>
<line x1="789.92" y1="743" x2="789.92" y2="745.6" stroke="#868686" stroke-width="1" shape-rendering="crispEdges"/>
<line x1="805.96" y1="743" x2="805.96" y2="745.6" stroke="#868686" stroke-width="1" shape-rendering="crispEdges"/>
<line x1="822" y1="743" x2="822" y2="745.6" stroke="#868686" stroke-width="1" shape-rendering="crispEdges"/>
<text x="600.9" y="652.7" font-size="5.2" font-weight="bold" fill="#23315c" textLength="32" lengthAdjust="spacingAndGlyphs">precip.(mm)</text>
<text x="730.65" y="643" font-size="9.3" text-anchor="middle" textLength="194.7" lengthAdjust="spacingAndGlyphs" stroke="#000" stroke-width="0.3">Cumulative Area Average Precipitation (mm)</text>
<text x="730.4" y="655.8" font-size="9.3" text-anchor="middle" textLength="138.2" lengthAdjust="spacingAndGlyphs" stroke="#000" stroke-width="0.3">Hydrological Region 8 (Larnaka)</text>
<path d="M637.52 738.44 L653.56 729.32 L669.6 712.03 L685.65 697.02 L701.69 685.05 L717.73 676.5 L733.77 671.75 L749.81 668.52 L765.85 667.08 L781.9 666.81 L797.94 666.24 L813.98 665.29" fill="none" stroke="#4a7ebb" stroke-width="0.95" stroke-linejoin="round"/>
<path d="M637.52 735.94 L639.82 738.44 L637.52 740.94 L635.22 738.44 Z" fill="#4a7ebb"/>
<path d="M653.56 726.82 L655.86 729.32 L653.56 731.82 L651.26 729.32 Z" fill="#4a7ebb"/>
<path d="M669.6 709.53 L671.9 712.03 L669.6 714.53 L667.3 712.03 Z" fill="#4a7ebb"/>
<path d="M685.65 694.52 L687.95 697.02 L685.65 699.52 L683.35 697.02 Z" fill="#4a7ebb"/>
<path d="M701.69 682.55 L703.99 685.05 L701.69 687.55 L699.39 685.05 Z" fill="#4a7ebb"/>
<path d="M717.73 674 L720.03 676.5 L717.73 679 L715.43 676.5 Z" fill="#4a7ebb"/>
<path d="M733.77 669.25 L736.07 671.75 L733.77 674.25 L731.47 671.75 Z" fill="#4a7ebb"/>
<path d="M749.81 666.02 L752.11 668.52 L749.81 671.02 L747.51 668.52 Z" fill="#4a7ebb"/>
<path d="M765.85 664.58 L768.15 667.08 L765.85 669.58 L763.55 667.08 Z" fill="#4a7ebb"/>
<path d="M781.9 664.31 L784.2 666.81 L781.9 669.31 L779.6 666.81 Z" fill="#4a7ebb"/>
<path d="M797.94 663.74 L800.24 666.24 L797.94 668.74 L795.64 666.24 Z" fill="#4a7ebb"/>
<path d="M813.98 662.79 L816.28 665.29 L813.98 667.79 L811.68 665.29 Z" fill="#4a7ebb"/>
<path d="M637.52 743 L653.56 731.22 L669.6 711.75 L685.65 709.56 L701.69 705.76 L717.73 703.75 L733.77 699.3 L749.81 696.26 L765.85 696.16" fill="none" stroke="#be4b48" stroke-width="0.95" stroke-linejoin="round"/>
<rect x="635.62" y="741.1" width="3.8" height="3.8" fill="#be4b48"/>
<rect x="651.66" y="729.32" width="3.8" height="3.8" fill="#be4b48"/>
<rect x="667.7" y="709.85" width="3.8" height="3.8" fill="#be4b48"/>
<rect x="683.75" y="707.66" width="3.8" height="3.8" fill="#be4b48"/>
<rect x="699.79" y="703.86" width="3.8" height="3.8" fill="#be4b48"/>
<rect x="715.83" y="701.85" width="3.8" height="3.8" fill="#be4b48"/>
<rect x="731.87" y="697.4" width="3.8" height="3.8" fill="#be4b48"/>
<rect x="747.91" y="694.36" width="3.8" height="3.8" fill="#be4b48"/>
<rect x="763.95" y="694.26" width="3.8" height="3.8" fill="#be4b48"/>
<text x="636.92" y="751.8" font-size="7.3" font-weight="bold" textLength="10.5" lengthAdjust="spacingAndGlyphs" transform="rotate(45 636.92 751.8)" dominant-baseline="middle" stroke="#000" stroke-width="0.15">Oct</text>
<text x="652.96" y="751.8" font-size="7.3" font-weight="bold" textLength="25.5" lengthAdjust="spacingAndGlyphs" transform="rotate(45 652.96 751.8)" dominant-baseline="middle" stroke="#000" stroke-width="0.15">Oct-Nov</text>
<text x="669" y="751.8" font-size="7.3" font-weight="bold" textLength="25" lengthAdjust="spacingAndGlyphs" transform="rotate(45 669 751.8)" dominant-baseline="middle" stroke="#000" stroke-width="0.15">Oct-Dec</text>
<text x="685.05" y="751.8" font-size="7.3" font-weight="bold" textLength="23.5" lengthAdjust="spacingAndGlyphs" transform="rotate(45 685.05 751.8)" dominant-baseline="middle" stroke="#000" stroke-width="0.15">Oct-Jan</text>
<text x="701.09" y="751.8" font-size="7.3" font-weight="bold" textLength="24.5" lengthAdjust="spacingAndGlyphs" transform="rotate(45 701.09 751.8)" dominant-baseline="middle" stroke="#000" stroke-width="0.15">Oct-Feb</text>
<text x="717.13" y="751.8" font-size="7.3" font-weight="bold" textLength="25.5" lengthAdjust="spacingAndGlyphs" transform="rotate(45 717.13 751.8)" dominant-baseline="middle" stroke="#000" stroke-width="0.15">Oct-Mar</text>
<text x="733.17" y="751.8" font-size="7.3" font-weight="bold" textLength="24.5" lengthAdjust="spacingAndGlyphs" transform="rotate(45 733.17 751.8)" dominant-baseline="middle" stroke="#000" stroke-width="0.15">Oct-Apr</text>
<text x="749.21" y="751.8" font-size="7.3" font-weight="bold" textLength="26.5" lengthAdjust="spacingAndGlyphs" transform="rotate(45 749.21 751.8)" dominant-baseline="middle" stroke="#000" stroke-width="0.15">Oct-May</text>
<text x="765.25" y="751.8" font-size="7.3" font-weight="bold" textLength="23.5" lengthAdjust="spacingAndGlyphs" transform="rotate(45 765.25 751.8)" dominant-baseline="middle" stroke="#000" stroke-width="0.15">Oct-Jun</text>
<text x="781.3" y="751.8" font-size="7.3" font-weight="bold" textLength="22" lengthAdjust="spacingAndGlyphs" transform="rotate(45 781.3 751.8)" dominant-baseline="middle" stroke="#000" stroke-width="0.15">Oct-Jul</text>
<text x="797.34" y="751.8" font-size="7.3" font-weight="bold" textLength="25.5" lengthAdjust="spacingAndGlyphs" transform="rotate(45 797.34 751.8)" dominant-baseline="middle" stroke="#000" stroke-width="0.15">Oct-Aug</text>
<text x="813.38" y="751.8" font-size="7.3" font-weight="bold" textLength="25" lengthAdjust="spacingAndGlyphs" transform="rotate(45 813.38 751.8)" dominant-baseline="middle" stroke="#000" stroke-width="0.15">Oct-Sep</text>
<line x1="598.8" y1="782.2" x2="605.4" y2="782.2" stroke="#4a7ebb" stroke-width="1.1" />
<path d="M602 780 L604.2 782.2 L602 784.4 L599.8 782.2 Z" fill="#4a7ebb"/>
<line x1="598.8" y1="793.5" x2="605.4" y2="793.5" stroke="#be4b48" stroke-width="1.1" />
<rect x="600.2" y="791.7" width="3.6" height="3.6" fill="#be4b48"/>
<text x="607" y="785" font-size="9.2" textLength="238.8" lengthAdjust="spacingAndGlyphs" stroke="#000" stroke-width="0.12">Cum. Area Aver Precip.(mm) (Oct.1970-Sep.2010) - Normal</text>
<text x="607" y="796.3" font-size="9.2" textLength="232.5" lengthAdjust="spacingAndGlyphs" stroke="#000" stroke-width="0.12">Cum. Area Aver Precip.(mm) (Oct.2024-Jun.2025) - Actual</text>
</g>
<g id="chart-kokkino">
<rect x="881.3" y="633.8" width="258.2" height="168" fill="#fff" stroke="#8a8a8a" stroke-width="1" shape-rendering="crispEdges"/>
<line x1="916" y1="744" x2="1111.3" y2="744" stroke="#868686" stroke-width="1" shape-rendering="crispEdges"/>
<text x="912.4" y="745.6" font-size="6.7" text-anchor="end" font-weight="bold" fill="#141c3a" textLength="3.7" lengthAdjust="spacingAndGlyphs" stroke="#141c3a" stroke-width="0.2">0</text>
<line x1="916" y1="731.76" x2="1111.3" y2="731.76" stroke="#868686" stroke-width="1" shape-rendering="crispEdges"/>
<text x="912.4" y="733.36" font-size="6.7" text-anchor="end" font-weight="bold" fill="#141c3a" textLength="7.4" lengthAdjust="spacingAndGlyphs" stroke="#141c3a" stroke-width="0.2">50</text>
<line x1="916" y1="719.51" x2="1111.3" y2="719.51" stroke="#868686" stroke-width="1" shape-rendering="crispEdges"/>
<text x="912.4" y="721.11" font-size="6.7" text-anchor="end" font-weight="bold" fill="#141c3a" textLength="11.1" lengthAdjust="spacingAndGlyphs" stroke="#141c3a" stroke-width="0.2">100</text>
<line x1="916" y1="707.27" x2="1111.3" y2="707.27" stroke="#868686" stroke-width="1" shape-rendering="crispEdges"/>
<text x="912.4" y="708.87" font-size="6.7" text-anchor="end" font-weight="bold" fill="#141c3a" textLength="11.1" lengthAdjust="spacingAndGlyphs" stroke="#141c3a" stroke-width="0.2">150</text>
<line x1="916" y1="695.03" x2="1111.3" y2="695.03" stroke="#868686" stroke-width="1" shape-rendering="crispEdges"/>
<text x="912.4" y="696.63" font-size="6.7" text-anchor="end" font-weight="bold" fill="#141c3a" textLength="11.1" lengthAdjust="spacingAndGlyphs" stroke="#141c3a" stroke-width="0.2">200</text>
<line x1="916" y1="682.79" x2="1111.3" y2="682.79" stroke="#868686" stroke-width="1" shape-rendering="crispEdges"/>
<text x="912.4" y="684.39" font-size="6.7" text-anchor="end" font-weight="bold" fill="#141c3a" textLength="11.1" lengthAdjust="spacingAndGlyphs" stroke="#141c3a" stroke-width="0.2">250</text>
<line x1="916" y1="670.54" x2="1111.3" y2="670.54" stroke="#868686" stroke-width="1" shape-rendering="crispEdges"/>
<text x="912.4" y="672.14" font-size="6.7" text-anchor="end" font-weight="bold" fill="#141c3a" textLength="11.1" lengthAdjust="spacingAndGlyphs" stroke="#141c3a" stroke-width="0.2">300</text>
<line x1="916" y1="658.3" x2="1111.3" y2="658.3" stroke="#868686" stroke-width="1" shape-rendering="crispEdges"/>
<text x="912.4" y="659.9" font-size="6.7" text-anchor="end" font-weight="bold" fill="#141c3a" textLength="11.1" lengthAdjust="spacingAndGlyphs" stroke="#141c3a" stroke-width="0.2">350</text>
<line x1="918.8" y1="658.3" x2="918.8" y2="746.6" stroke="#868686" stroke-width="1" shape-rendering="crispEdges"/>
<line x1="934.84" y1="744" x2="934.84" y2="746.6" stroke="#868686" stroke-width="1" shape-rendering="crispEdges"/>
<line x1="950.88" y1="744" x2="950.88" y2="746.6" stroke="#868686" stroke-width="1" shape-rendering="crispEdges"/>
<line x1="966.92" y1="744" x2="966.92" y2="746.6" stroke="#868686" stroke-width="1" shape-rendering="crispEdges"/>
<line x1="982.97" y1="744" x2="982.97" y2="746.6" stroke="#868686" stroke-width="1" shape-rendering="crispEdges"/>
<line x1="999.01" y1="744" x2="999.01" y2="746.6" stroke="#868686" stroke-width="1" shape-rendering="crispEdges"/>
<line x1="1015.05" y1="744" x2="1015.05" y2="746.6" stroke="#868686" stroke-width="1" shape-rendering="crispEdges"/>
<line x1="1031.09" y1="744" x2="1031.09" y2="746.6" stroke="#868686" stroke-width="1" shape-rendering="crispEdges"/>
<line x1="1047.13" y1="744" x2="1047.13" y2="746.6" stroke="#868686" stroke-width="1" shape-rendering="crispEdges"/>
<line x1="1063.17" y1="744" x2="1063.17" y2="746.6" stroke="#868686" stroke-width="1" shape-rendering="crispEdges"/>
<line x1="1079.22" y1="744" x2="1079.22" y2="746.6" stroke="#868686" stroke-width="1" shape-rendering="crispEdges"/>
<line x1="1095.26" y1="744" x2="1095.26" y2="746.6" stroke="#868686" stroke-width="1" shape-rendering="crispEdges"/>
<line x1="1111.3" y1="744" x2="1111.3" y2="746.6" stroke="#868686" stroke-width="1" shape-rendering="crispEdges"/>
<text x="890.2" y="653.5" font-size="5.2" font-weight="bold" fill="#23315c" textLength="32" lengthAdjust="spacingAndGlyphs">precip.(mm)</text>
<text x="1020.4" y="643.8" font-size="9.3" text-anchor="middle" textLength="194.2" lengthAdjust="spacingAndGlyphs" stroke="#000" stroke-width="0.3">Cumulative Area Average Precipitation (mm)</text>
<text x="1020.65" y="656.5" font-size="9.3" text-anchor="middle" textLength="166.3" lengthAdjust="spacingAndGlyphs" stroke="#000" stroke-width="0.3">Hydrological Region 7 (Kokkinochoria)</text>
<path d="M926.82 739.49 L942.86 729.31 L958.9 709.48 L974.95 693.07 L990.99 679.85 L1007.03 672.01 L1023.07 667.36 L1039.11 665.89 L1055.15 664.76 L1071.2 665.28 L1087.24 664.91 L1103.28 664.54" fill="none" stroke="#4a7ebb" stroke-width="0.95" stroke-linejoin="round"/>
<path d="M926.82 736.99 L929.12 739.49 L926.82 741.99 L924.52 739.49 Z" fill="#4a7ebb"/>
<path d="M942.86 726.81 L945.16 729.31 L942.86 731.81 L940.56 729.31 Z" fill="#4a7ebb"/>
<path d="M958.9 706.98 L961.2 709.48 L958.9 711.98 L956.6 709.48 Z" fill="#4a7ebb"/>
<path d="M974.95 690.57 L977.25 693.07 L974.95 695.57 L972.65 693.07 Z" fill="#4a7ebb"/>
<path d="M990.99 677.35 L993.29 679.85 L990.99 682.35 L988.69 679.85 Z" fill="#4a7ebb"/>
<path d="M1007.03 669.51 L1009.33 672.01 L1007.03 674.51 L1004.73 672.01 Z" fill="#4a7ebb"/>
<path d="M1023.07 664.86 L1025.37 667.36 L1023.07 669.86 L1020.77 667.36 Z" fill="#4a7ebb"/>
<path d="M1039.11 663.39 L1041.41 665.89 L1039.11 668.39 L1036.81 665.89 Z" fill="#4a7ebb"/>
<path d="M1055.15 662.26 L1057.45 664.76 L1055.15 667.26 L1052.85 664.76 Z" fill="#4a7ebb"/>
<path d="M1071.2 662.78 L1073.5 665.28 L1071.2 667.78 L1068.9 665.28 Z" fill="#4a7ebb"/>
<path d="M1087.24 662.41 L1089.54 664.91 L1087.24 667.41 L1084.94 664.91 Z" fill="#4a7ebb"/>
<path d="M1103.28 662.04 L1105.58 664.54 L1103.28 667.04 L1100.98 664.54 Z" fill="#4a7ebb"/>
<path d="M926.82 744 L942.86 734.21 L958.9 701.88 L974.95 700.29 L990.99 697.72 L1007.03 697.23 L1023.07 693.07 L1039.11 692.34 L1055.15 691.99" fill="none" stroke="#be4b48" stroke-width="0.95" stroke-linejoin="round"/>
<rect x="924.92" y="742.1" width="3.8" height="3.8" fill="#be4b48"/>
<rect x="940.96" y="732.31" width="3.8" height="3.8" fill="#be4b48"/>
<rect x="957" y="699.98" width="3.8" height="3.8" fill="#be4b48"/>
<rect x="973.05" y="698.39" width="3.8" height="3.8" fill="#be4b48"/>
<rect x="989.09" y="695.82" width="3.8" height="3.8" fill="#be4b48"/>
<rect x="1005.13" y="695.33" width="3.8" height="3.8" fill="#be4b48"/>
<rect x="1021.17" y="691.17" width="3.8" height="3.8" fill="#be4b48"/>
<rect x="1037.21" y="690.44" width="3.8" height="3.8" fill="#be4b48"/>
<rect x="1053.25" y="690.09" width="3.8" height="3.8" fill="#be4b48"/>
<text x="926.22" y="752.8" font-size="7.3" font-weight="bold" textLength="10.5" lengthAdjust="spacingAndGlyphs" transform="rotate(45 926.22 752.8)" dominant-baseline="middle" stroke="#000" stroke-width="0.15">Oct</text>
<text x="942.26" y="752.8" font-size="7.3" font-weight="bold" textLength="25.5" lengthAdjust="spacingAndGlyphs" transform="rotate(45 942.26 752.8)" dominant-baseline="middle" stroke="#000" stroke-width="0.15">Oct-Nov</text>
<text x="958.3" y="752.8" font-size="7.3" font-weight="bold" textLength="25" lengthAdjust="spacingAndGlyphs" transform="rotate(45 958.3 752.8)" dominant-baseline="middle" stroke="#000" stroke-width="0.15">Oct-Dec</text>
<text x="974.35" y="752.8" font-size="7.3" font-weight="bold" textLength="23.5" lengthAdjust="spacingAndGlyphs" transform="rotate(45 974.35 752.8)" dominant-baseline="middle" stroke="#000" stroke-width="0.15">Oct-Jan</text>
<text x="990.39" y="752.8" font-size="7.3" font-weight="bold" textLength="24.5" lengthAdjust="spacingAndGlyphs" transform="rotate(45 990.39 752.8)" dominant-baseline="middle" stroke="#000" stroke-width="0.15">Oct-Feb</text>
<text x="1006.43" y="752.8" font-size="7.3" font-weight="bold" textLength="25.5" lengthAdjust="spacingAndGlyphs" transform="rotate(45 1006.43 752.8)" dominant-baseline="middle" stroke="#000" stroke-width="0.15">Oct-Mar</text>
<text x="1022.47" y="752.8" font-size="7.3" font-weight="bold" textLength="24.5" lengthAdjust="spacingAndGlyphs" transform="rotate(45 1022.47 752.8)" dominant-baseline="middle" stroke="#000" stroke-width="0.15">Oct-Apr</text>
<text x="1038.51" y="752.8" font-size="7.3" font-weight="bold" textLength="26.5" lengthAdjust="spacingAndGlyphs" transform="rotate(45 1038.51 752.8)" dominant-baseline="middle" stroke="#000" stroke-width="0.15">Oct-May</text>
<text x="1054.55" y="752.8" font-size="7.3" font-weight="bold" textLength="23.5" lengthAdjust="spacingAndGlyphs" transform="rotate(45 1054.55 752.8)" dominant-baseline="middle" stroke="#000" stroke-width="0.15">Oct-Jun</text>
<text x="1070.6" y="752.8" font-size="7.3" font-weight="bold" textLength="22" lengthAdjust="spacingAndGlyphs" transform="rotate(45 1070.6 752.8)" dominant-baseline="middle" stroke="#000" stroke-width="0.15">Oct-Jul</text>
<text x="1086.64" y="752.8" font-size="7.3" font-weight="bold" textLength="25.5" lengthAdjust="spacingAndGlyphs" transform="rotate(45 1086.64 752.8)" dominant-baseline="middle" stroke="#000" stroke-width="0.15">Oct-Aug</text>
<text x="1102.68" y="752.8" font-size="7.3" font-weight="bold" textLength="25" lengthAdjust="spacingAndGlyphs" transform="rotate(45 1102.68 752.8)" dominant-baseline="middle" stroke="#000" stroke-width="0.15">Oct-Sep</text>
<line x1="887.3" y1="782.7" x2="893.9" y2="782.7" stroke="#4a7ebb" stroke-width="1.1" />
<path d="M890.5 780.5 L892.7 782.7 L890.5 784.9 L888.3 782.7 Z" fill="#4a7ebb"/>
<line x1="887.3" y1="794.2" x2="893.9" y2="794.2" stroke="#be4b48" stroke-width="1.1" />
<rect x="888.7" y="792.4" width="3.6" height="3.6" fill="#be4b48"/>
<text x="894.5" y="785.5" font-size="9.2" textLength="239.3" lengthAdjust="spacingAndGlyphs" stroke="#000" stroke-width="0.12">Cum. Area Aver Precip.(mm) (Oct.1970-Sep.2010) - Normal</text>
<text x="894.5" y="797" font-size="9.2" textLength="233" lengthAdjust="spacingAndGlyphs" stroke="#000" stroke-width="0.12">Cum. Area Aver Precip.(mm) (Oct.2024-Jun.2025) - Actual</text>
</g>
<g id="chart-morfou">
<rect x="880" y="288.8" width="258.8" height="168.2" fill="#fff" stroke="#8a8a8a" stroke-width="1" shape-rendering="crispEdges"/>
<line x1="914.7" y1="399.3" x2="1110.5" y2="399.3" stroke="#868686" stroke-width="1" shape-rendering="crispEdges"/>
<text x="911.1" y="400.9" font-size="6.7" text-anchor="end" font-weight="bold" fill="#141c3a" textLength="3.7" lengthAdjust="spacingAndGlyphs" stroke="#141c3a" stroke-width="0.2">0</text>
<line x1="914.7" y1="390.7" x2="1110.5" y2="390.7" stroke="#868686" stroke-width="1" shape-rendering="crispEdges"/>
<text x="911.1" y="392.3" font-size="6.7" text-anchor="end" font-weight="bold" fill="#141c3a" textLength="7.4" lengthAdjust="spacingAndGlyphs" stroke="#141c3a" stroke-width="0.2">50</text>
<line x1="914.7" y1="382.1" x2="1110.5" y2="382.1" stroke="#868686" stroke-width="1" shape-rendering="crispEdges"/>
<text x="911.1" y="383.7" font-size="6.7" text-anchor="end" font-weight="bold" fill="#141c3a" textLength="11.1" lengthAdjust="spacingAndGlyphs" stroke="#141c3a" stroke-width="0.2">100</text>
<line x1="914.7" y1="373.5" x2="1110.5" y2="373.5" stroke="#868686" stroke-width="1" shape-rendering="crispEdges"/>
<text x="911.1" y="375.1" font-size="6.7" text-anchor="end" font-weight="bold" fill="#141c3a" textLength="11.1" lengthAdjust="spacingAndGlyphs" stroke="#141c3a" stroke-width="0.2">150</text>
<line x1="914.7" y1="364.9" x2="1110.5" y2="364.9" stroke="#868686" stroke-width="1" shape-rendering="crispEdges"/>
<text x="911.1" y="366.5" font-size="6.7" text-anchor="end" font-weight="bold" fill="#141c3a" textLength="11.1" lengthAdjust="spacingAndGlyphs" stroke="#141c3a" stroke-width="0.2">200</text>
<line x1="914.7" y1="356.3" x2="1110.5" y2="356.3" stroke="#868686" stroke-width="1" shape-rendering="crispEdges"/>
<text x="911.1" y="357.9" font-size="6.7" text-anchor="end" font-weight="bold" fill="#141c3a" textLength="11.1" lengthAdjust="spacingAndGlyphs" stroke="#141c3a" stroke-width="0.2">250</text>
<line x1="914.7" y1="347.7" x2="1110.5" y2="347.7" stroke="#868686" stroke-width="1" shape-rendering="crispEdges"/>
<text x="911.1" y="349.3" font-size="6.7" text-anchor="end" font-weight="bold" fill="#141c3a" textLength="11.1" lengthAdjust="spacingAndGlyphs" stroke="#141c3a" stroke-width="0.2">300</text>
<line x1="914.7" y1="339.1" x2="1110.5" y2="339.1" stroke="#868686" stroke-width="1" shape-rendering="crispEdges"/>
<text x="911.1" y="340.7" font-size="6.7" text-anchor="end" font-weight="bold" fill="#141c3a" textLength="11.1" lengthAdjust="spacingAndGlyphs" stroke="#141c3a" stroke-width="0.2">350</text>
<line x1="914.7" y1="330.5" x2="1110.5" y2="330.5" stroke="#868686" stroke-width="1" shape-rendering="crispEdges"/>
<text x="911.1" y="332.1" font-size="6.7" text-anchor="end" font-weight="bold" fill="#141c3a" textLength="11.1" lengthAdjust="spacingAndGlyphs" stroke="#141c3a" stroke-width="0.2">400</text>
<line x1="914.7" y1="321.9" x2="1110.5" y2="321.9" stroke="#868686" stroke-width="1" shape-rendering="crispEdges"/>
<text x="911.1" y="323.5" font-size="6.7" text-anchor="end" font-weight="bold" fill="#141c3a" textLength="11.1" lengthAdjust="spacingAndGlyphs" stroke="#141c3a" stroke-width="0.2">450</text>
<line x1="914.7" y1="313.3" x2="1110.5" y2="313.3" stroke="#868686" stroke-width="1" shape-rendering="crispEdges"/>
<text x="911.1" y="314.9" font-size="6.7" text-anchor="end" font-weight="bold" fill="#141c3a" textLength="11.1" lengthAdjust="spacingAndGlyphs" stroke="#141c3a" stroke-width="0.2">500</text>
<line x1="917.5" y1="313.3" x2="917.5" y2="401.9" stroke="#868686" stroke-width="1" shape-rendering="crispEdges"/>
<line x1="933.58" y1="399.3" x2="933.58" y2="401.9" stroke="#868686" stroke-width="1" shape-rendering="crispEdges"/>
<line x1="949.67" y1="399.3" x2="949.67" y2="401.9" stroke="#868686" stroke-width="1" shape-rendering="crispEdges"/>
<line x1="965.75" y1="399.3" x2="965.75" y2="401.9" stroke="#868686" stroke-width="1" shape-rendering="crispEdges"/>
<line x1="981.83" y1="399.3" x2="981.83" y2="401.9" stroke="#868686" stroke-width="1" shape-rendering="crispEdges"/>
<line x1="997.92" y1="399.3" x2="997.92" y2="401.9" stroke="#868686" stroke-width="1" shape-rendering="crispEdges"/>
<line x1="1014" y1="399.3" x2="1014" y2="401.9" stroke="#868686" stroke-width="1" shape-rendering="crispEdges"/>
<line x1="1030.08" y1="399.3" x2="1030.08" y2="401.9" stroke="#868686" stroke-width="1" shape-rendering="crispEdges"/>
<line x1="1046.17" y1="399.3" x2="1046.17" y2="401.9" stroke="#868686" stroke-width="1" shape-rendering="crispEdges"/>
<line x1="1062.25" y1="399.3" x2="1062.25" y2="401.9" stroke="#868686" stroke-width="1" shape-rendering="crispEdges"/>
<line x1="1078.33" y1="399.3" x2="1078.33" y2="401.9" stroke="#868686" stroke-width="1" shape-rendering="crispEdges"/>
<line x1="1094.42" y1="399.3" x2="1094.42" y2="401.9" stroke="#868686" stroke-width="1" shape-rendering="crispEdges"/>
<line x1="1110.5" y1="399.3" x2="1110.5" y2="401.9" stroke="#868686" stroke-width="1" shape-rendering="crispEdges"/>
<text x="888.9" y="308.5" font-size="5.2" font-weight="bold" fill="#23315c" textLength="32" lengthAdjust="spacingAndGlyphs">precip.(mm)</text>
<text x="1024.75" y="299.3" font-size="9.3" text-anchor="middle" textLength="194.5" lengthAdjust="spacingAndGlyphs" stroke="#000" stroke-width="0.3">Cumulative Area Average Precipitation (mm)</text>
<text x="1024.65" y="312" font-size="9.3" text-anchor="middle" textLength="136.7" lengthAdjust="spacingAndGlyphs" stroke="#000" stroke-width="0.3">Hydrological Region 3 (Morfou)</text>
<path d="M925.54 395.52 L941.62 386.74 L957.71 373.84 L973.79 358.36 L989.88 345.29 L1005.96 336.86 L1022.04 331.88 L1038.12 328.09 L1054.21 325.87 L1070.29 325.51 L1086.38 324.82 L1102.46 323.79" fill="none" stroke="#4a7ebb" stroke-width="0.95" stroke-linejoin="round"/>
<path d="M925.54 393.02 L927.84 395.52 L925.54 398.02 L923.24 395.52 Z" fill="#4a7ebb"/>
<path d="M941.62 384.24 L943.92 386.74 L941.62 389.24 L939.33 386.74 Z" fill="#4a7ebb"/>
<path d="M957.71 371.34 L960.01 373.84 L957.71 376.34 L955.41 373.84 Z" fill="#4a7ebb"/>
<path d="M973.79 355.86 L976.09 358.36 L973.79 360.86 L971.49 358.36 Z" fill="#4a7ebb"/>
<path d="M989.88 342.79 L992.17 345.29 L989.88 347.79 L987.58 345.29 Z" fill="#4a7ebb"/>
<path d="M1005.96 334.36 L1008.26 336.86 L1005.96 339.36 L1003.66 336.86 Z" fill="#4a7ebb"/>
<path d="M1022.04 329.38 L1024.34 331.88 L1022.04 334.38 L1019.74 331.88 Z" fill="#4a7ebb"/>
<path d="M1038.12 325.59 L1040.42 328.09 L1038.12 330.59 L1035.83 328.09 Z" fill="#4a7ebb"/>
<path d="M1054.21 323.37 L1056.51 325.87 L1054.21 328.37 L1051.91 325.87 Z" fill="#4a7ebb"/>
<path d="M1070.29 323.01 L1072.59 325.51 L1070.29 328.01 L1067.99 325.51 Z" fill="#4a7ebb"/>
<path d="M1086.38 322.32 L1088.67 324.82 L1086.38 327.32 L1084.08 324.82 Z" fill="#4a7ebb"/>
<path d="M1102.46 321.29 L1104.76 323.79 L1102.46 326.29 L1100.16 323.79 Z" fill="#4a7ebb"/>
<path d="M925.54 399.3 L941.62 389.84 L957.71 374.88 L973.79 372.81 L989.88 365.76 L1005.96 363.35 L1022.04 360.08 L1038.12 356.82 L1054.21 355.77" fill="none" stroke="#be4b48" stroke-width="0.95" stroke-linejoin="round"/>
<rect x="923.64" y="397.4" width="3.8" height="3.8" fill="#be4b48"/>
<rect x="939.73" y="387.94" width="3.8" height="3.8" fill="#be4b48"/>
<rect x="955.81" y="372.98" width="3.8" height="3.8" fill="#be4b48"/>
<rect x="971.89" y="370.91" width="3.8" height="3.8" fill="#be4b48"/>
<rect x="987.98" y="363.86" width="3.8" height="3.8" fill="#be4b48"/>
<rect x="1004.06" y="361.45" width="3.8" height="3.8" fill="#be4b48"/>
<rect x="1020.14" y="358.18" width="3.8" height="3.8" fill="#be4b48"/>
<rect x="1036.22" y="354.92" width="3.8" height="3.8" fill="#be4b48"/>
<rect x="1052.31" y="353.87" width="3.8" height="3.8" fill="#be4b48"/>
<text x="924.94" y="408.1" font-size="7.3" font-weight="bold" textLength="10.5" lengthAdjust="spacingAndGlyphs" transform="rotate(45 924.94 408.1)" dominant-baseline="middle" stroke="#000" stroke-width="0.15">Oct</text>
<text x="941.02" y="408.1" font-size="7.3" font-weight="bold" textLength="25.5" lengthAdjust="spacingAndGlyphs" transform="rotate(45 941.02 408.1)" dominant-baseline="middle" stroke="#000" stroke-width="0.15">Oct-Nov</text>
<text x="957.11" y="408.1" font-size="7.3" font-weight="bold" textLength="25" lengthAdjust="spacingAndGlyphs" transform="rotate(45 957.11 408.1)" dominant-baseline="middle" stroke="#000" stroke-width="0.15">Oct-Dec</text>
<text x="973.19" y="408.1" font-size="7.3" font-weight="bold" textLength="23.5" lengthAdjust="spacingAndGlyphs" transform="rotate(45 973.19 408.1)" dominant-baseline="middle" stroke="#000" stroke-width="0.15">Oct-Jan</text>
<text x="989.27" y="408.1" font-size="7.3" font-weight="bold" textLength="24.5" lengthAdjust="spacingAndGlyphs" transform="rotate(45 989.27 408.1)" dominant-baseline="middle" stroke="#000" stroke-width="0.15">Oct-Feb</text>
<text x="1005.36" y="408.1" font-size="7.3" font-weight="bold" textLength="25.5" lengthAdjust="spacingAndGlyphs" transform="rotate(45 1005.36 408.1)" dominant-baseline="middle" stroke="#000" stroke-width="0.15">Oct-Mar</text>
<text x="1021.44" y="408.1" font-size="7.3" font-weight="bold" textLength="24.5" lengthAdjust="spacingAndGlyphs" transform="rotate(45 1021.44 408.1)" dominant-baseline="middle" stroke="#000" stroke-width="0.15">Oct-Apr</text>
<text x="1037.53" y="408.1" font-size="7.3" font-weight="bold" textLength="26.5" lengthAdjust="spacingAndGlyphs" transform="rotate(45 1037.53 408.1)" dominant-baseline="middle" stroke="#000" stroke-width="0.15">Oct-May</text>
<text x="1053.61" y="408.1" font-size="7.3" font-weight="bold" textLength="23.5" lengthAdjust="spacingAndGlyphs" transform="rotate(45 1053.61 408.1)" dominant-baseline="middle" stroke="#000" stroke-width="0.15">Oct-Jun</text>
<text x="1069.69" y="408.1" font-size="7.3" font-weight="bold" textLength="22" lengthAdjust="spacingAndGlyphs" transform="rotate(45 1069.69 408.1)" dominant-baseline="middle" stroke="#000" stroke-width="0.15">Oct-Jul</text>
<text x="1085.78" y="408.1" font-size="7.3" font-weight="bold" textLength="25.5" lengthAdjust="spacingAndGlyphs" transform="rotate(45 1085.78 408.1)" dominant-baseline="middle" stroke="#000" stroke-width="0.15">Oct-Aug</text>
<text x="1101.86" y="408.1" font-size="7.3" font-weight="bold" textLength="25" lengthAdjust="spacingAndGlyphs" transform="rotate(45 1101.86 408.1)" dominant-baseline="middle" stroke="#000" stroke-width="0.15">Oct-Sep</text>
<line x1="888.1" y1="437.7" x2="894.7" y2="437.7" stroke="#4a7ebb" stroke-width="1.1" />
<path d="M891.3 435.5 L893.5 437.7 L891.3 439.9 L889.1 437.7 Z" fill="#4a7ebb"/>
<line x1="888.1" y1="449.7" x2="894.7" y2="449.7" stroke="#be4b48" stroke-width="1.1" />
<rect x="889.5" y="447.9" width="3.6" height="3.6" fill="#be4b48"/>
<text x="895" y="440.5" font-size="9.2" textLength="239.5" lengthAdjust="spacingAndGlyphs" stroke="#000" stroke-width="0.12">Cum. Area Aver Precip.(mm) (Oct.1970-Sep.2010) - Normal</text>
<text x="895" y="452.5" font-size="9.2" textLength="233.8" lengthAdjust="spacingAndGlyphs" stroke="#000" stroke-width="0.12">Cum. Area Aver Precip.(mm) (Oct.2024-Jun.2025) - Actual</text>
</g>
<g id="chart-lefkosia">
<rect x="880" y="461.8" width="258.8" height="167" fill="#fff" stroke="#8a8a8a" stroke-width="1" shape-rendering="crispEdges"/>
<line x1="914.7" y1="571.5" x2="1110.5" y2="571.5" stroke="#868686" stroke-width="1" shape-rendering="crispEdges"/>
<text x="911.1" y="573.1" font-size="6.7" text-anchor="end" font-weight="bold" fill="#141c3a" textLength="3.7" lengthAdjust="spacingAndGlyphs" stroke="#141c3a" stroke-width="0.2">0</text>
<line x1="914.7" y1="560.85" x2="1110.5" y2="560.85" stroke="#868686" stroke-width="1" shape-rendering="crispEdges"/>
<text x="911.1" y="562.45" font-size="6.7" text-anchor="end" font-weight="bold" fill="#141c3a" textLength="7.4" lengthAdjust="spacingAndGlyphs" stroke="#141c3a" stroke-width="0.2">50</text>
<line x1="914.7" y1="550.2" x2="1110.5" y2="550.2" stroke="#868686" stroke-width="1" shape-rendering="crispEdges"/>
<text x="911.1" y="551.8" font-size="6.7" text-anchor="end" font-weight="bold" fill="#141c3a" textLength="11.1" lengthAdjust="spacingAndGlyphs" stroke="#141c3a" stroke-width="0.2">100</text>
<line x1="914.7" y1="539.55" x2="1110.5" y2="539.55" stroke="#868686" stroke-width="1" shape-rendering="crispEdges"/>
<text x="911.1" y="541.15" font-size="6.7" text-anchor="end" font-weight="bold" fill="#141c3a" textLength="11.1" lengthAdjust="spacingAndGlyphs" stroke="#141c3a" stroke-width="0.2">150</text>
<line x1="914.7" y1="528.9" x2="1110.5" y2="528.9" stroke="#868686" stroke-width="1" shape-rendering="crispEdges"/>
<text x="911.1" y="530.5" font-size="6.7" text-anchor="end" font-weight="bold" fill="#141c3a" textLength="11.1" lengthAdjust="spacingAndGlyphs" stroke="#141c3a" stroke-width="0.2">200</text>
<line x1="914.7" y1="518.25" x2="1110.5" y2="518.25" stroke="#868686" stroke-width="1" shape-rendering="crispEdges"/>
<text x="911.1" y="519.85" font-size="6.7" text-anchor="end" font-weight="bold" fill="#141c3a" textLength="11.1" lengthAdjust="spacingAndGlyphs" stroke="#141c3a" stroke-width="0.2">250</text>
<line x1="914.7" y1="507.6" x2="1110.5" y2="507.6" stroke="#868686" stroke-width="1" shape-rendering="crispEdges"/>
<text x="911.1" y="509.2" font-size="6.7" text-anchor="end" font-weight="bold" fill="#141c3a" textLength="11.1" lengthAdjust="spacingAndGlyphs" stroke="#141c3a" stroke-width="0.2">300</text>
<line x1="914.7" y1="496.95" x2="1110.5" y2="496.95" stroke="#868686" stroke-width="1" shape-rendering="crispEdges"/>
<text x="911.1" y="498.55" font-size="6.7" text-anchor="end" font-weight="bold" fill="#141c3a" textLength="11.1" lengthAdjust="spacingAndGlyphs" stroke="#141c3a" stroke-width="0.2">350</text>
<line x1="914.7" y1="486.3" x2="1110.5" y2="486.3" stroke="#868686" stroke-width="1" shape-rendering="crispEdges"/>
<text x="911.1" y="487.9" font-size="6.7" text-anchor="end" font-weight="bold" fill="#141c3a" textLength="11.1" lengthAdjust="spacingAndGlyphs" stroke="#141c3a" stroke-width="0.2">400</text>
<line x1="917.5" y1="486.3" x2="917.5" y2="574.1" stroke="#868686" stroke-width="1" shape-rendering="crispEdges"/>
<line x1="933.58" y1="571.5" x2="933.58" y2="574.1" stroke="#868686" stroke-width="1" shape-rendering="crispEdges"/>
<line x1="949.67" y1="571.5" x2="949.67" y2="574.1" stroke="#868686" stroke-width="1" shape-rendering="crispEdges"/>
<line x1="965.75" y1="571.5" x2="965.75" y2="574.1" stroke="#868686" stroke-width="1" shape-rendering="crispEdges"/>
<line x1="981.83" y1="571.5" x2="981.83" y2="574.1" stroke="#868686" stroke-width="1" shape-rendering="crispEdges"/>
<line x1="997.92" y1="571.5" x2="997.92" y2="574.1" stroke="#868686" stroke-width="1" shape-rendering="crispEdges"/>
<line x1="1014" y1="571.5" x2="1014" y2="574.1" stroke="#868686" stroke-width="1" shape-rendering="crispEdges"/>
<line x1="1030.08" y1="571.5" x2="1030.08" y2="574.1" stroke="#868686" stroke-width="1" shape-rendering="crispEdges"/>
<line x1="1046.17" y1="571.5" x2="1046.17" y2="574.1" stroke="#868686" stroke-width="1" shape-rendering="crispEdges"/>
<line x1="1062.25" y1="571.5" x2="1062.25" y2="574.1" stroke="#868686" stroke-width="1" shape-rendering="crispEdges"/>
<line x1="1078.33" y1="571.5" x2="1078.33" y2="574.1" stroke="#868686" stroke-width="1" shape-rendering="crispEdges"/>
<line x1="1094.42" y1="571.5" x2="1094.42" y2="574.1" stroke="#868686" stroke-width="1" shape-rendering="crispEdges"/>
<line x1="1110.5" y1="571.5" x2="1110.5" y2="574.1" stroke="#868686" stroke-width="1" shape-rendering="crispEdges"/>
<text x="888.9" y="481.5" font-size="5.2" font-weight="bold" fill="#23315c" textLength="32" lengthAdjust="spacingAndGlyphs">precip.(mm)</text>
<text x="1020.4" y="472" font-size="9.3" text-anchor="middle" textLength="194.2" lengthAdjust="spacingAndGlyphs" stroke="#000" stroke-width="0.3">Cumulative Area Average Precipitation (mm)</text>
<text x="1020.9" y="485" font-size="9.3" text-anchor="middle" textLength="138.2" lengthAdjust="spacingAndGlyphs" stroke="#000" stroke-width="0.3">Hydrological Region 6 (Lefkosia)</text>
<path d="M925.54 567.24 L941.62 558.72 L957.71 543.81 L973.79 530.82 L989.88 518.46 L1005.96 510.58 L1022.04 505.26 L1038.12 500.78 L1054.21 497.74 L1070.29 497.06 L1086.38 496.31 L1102.46 494.39" fill="none" stroke="#4a7ebb" stroke-width="0.95" stroke-linejoin="round"/>
<path d="M925.54 564.74 L927.84 567.24 L925.54 569.74 L923.24 567.24 Z" fill="#4a7ebb"/>
<path d="M941.62 556.22 L943.92 558.72 L941.62 561.22 L939.33 558.72 Z" fill="#4a7ebb"/>
<path d="M957.71 541.31 L960.01 543.81 L957.71 546.31 L955.41 543.81 Z" fill="#4a7ebb"/>
<path d="M973.79 528.32 L976.09 530.82 L973.79 533.32 L971.49 530.82 Z" fill="#4a7ebb"/>
<path d="M989.88 515.96 L992.17 518.46 L989.88 520.96 L987.58 518.46 Z" fill="#4a7ebb"/>
<path d="M1005.96 508.08 L1008.26 510.58 L1005.96 513.08 L1003.66 510.58 Z" fill="#4a7ebb"/>
<path d="M1022.04 502.76 L1024.34 505.26 L1022.04 507.76 L1019.74 505.26 Z" fill="#4a7ebb"/>
<path d="M1038.12 498.28 L1040.42 500.78 L1038.12 503.28 L1035.83 500.78 Z" fill="#4a7ebb"/>
<path d="M1054.21 495.24 L1056.51 497.74 L1054.21 500.24 L1051.91 497.74 Z" fill="#4a7ebb"/>
<path d="M1070.29 494.56 L1072.59 497.06 L1070.29 499.56 L1067.99 497.06 Z" fill="#4a7ebb"/>
<path d="M1086.38 493.81 L1088.67 496.31 L1086.38 498.81 L1084.08 496.31 Z" fill="#4a7ebb"/>
<path d="M1102.46 491.89 L1104.76 494.39 L1102.46 496.89 L1100.16 494.39 Z" fill="#4a7ebb"/>
<path d="M925.54 571.5 L941.62 563.51 L957.71 548.71 L973.79 546.26 L989.88 539.98 L1005.96 536.36 L1022.04 532.73 L1038.12 526.98 L1054.21 526.66" fill="none" stroke="#be4b48" stroke-width="0.95" stroke-linejoin="round"/>
<rect x="923.64" y="569.6" width="3.8" height="3.8" fill="#be4b48"/>
<rect x="939.73" y="561.61" width="3.8" height="3.8" fill="#be4b48"/>
<rect x="955.81" y="546.81" width="3.8" height="3.8" fill="#be4b48"/>
<rect x="971.89" y="544.36" width="3.8" height="3.8" fill="#be4b48"/>
<rect x="987.98" y="538.08" width="3.8" height="3.8" fill="#be4b48"/>
<rect x="1004.06" y="534.46" width="3.8" height="3.8" fill="#be4b48"/>
<rect x="1020.14" y="530.83" width="3.8" height="3.8" fill="#be4b48"/>
<rect x="1036.22" y="525.08" width="3.8" height="3.8" fill="#be4b48"/>
<rect x="1052.31" y="524.76" width="3.8" height="3.8" fill="#be4b48"/>
<text x="924.94" y="580.3" font-size="7.3" font-weight="bold" textLength="10.5" lengthAdjust="spacingAndGlyphs" transform="rotate(45 924.94 580.3)" dominant-baseline="middle" stroke="#000" stroke-width="0.15">Oct</text>
<text x="941.02" y="580.3" font-size="7.3" font-weight="bold" textLength="25.5" lengthAdjust="spacingAndGlyphs" transform="rotate(45 941.02 580.3)" dominant-baseline="middle" stroke="#000" stroke-width="0.15">Oct-Nov</text>
<text x="957.11" y="580.3" font-size="7.3" font-weight="bold" textLength="25" lengthAdjust="spacingAndGlyphs" transform="rotate(45 957.11 580.3)" dominant-baseline="middle" stroke="#000" stroke-width="0.15">Oct-Dec</text>
<text x="973.19" y="580.3" font-size="7.3" font-weight="bold" textLength="23.5" lengthAdjust="spacingAndGlyphs" transform="rotate(45 973.19 580.3)" dominant-baseline="middle" stroke="#000" stroke-width="0.15">Oct-Jan</text>
<text x="989.27" y="580.3" font-size="7.3" font-weight="bold" textLength="24.5" lengthAdjust="spacingAndGlyphs" transform="rotate(45 989.27 580.3)" dominant-baseline="middle" stroke="#000" stroke-width="0.15">Oct-Feb</text>
<text x="1005.36" y="580.3" font-size="7.3" font-weight="bold" textLength="25.5" lengthAdjust="spacingAndGlyphs" transform="rotate(45 1005.36 580.3)" dominant-baseline="middle" stroke="#000" stroke-width="0.15">Oct-Mar</text>
<text x="1021.44" y="580.3" font-size="7.3" font-weight="bold" textLength="24.5" lengthAdjust="spacingAndGlyphs" transform="rotate(45 1021.44 580.3)" dominant-baseline="middle" stroke="#000" stroke-width="0.15">Oct-Apr</text>
<text x="1037.53" y="580.3" font-size="7.3" font-weight="bold" textLength="26.5" lengthAdjust="spacingAndGlyphs" transform="rotate(45 1037.53 580.3)" dominant-baseline="middle" stroke="#000" stroke-width="0.15">Oct-May</text>
<text x="1053.61" y="580.3" font-size="7.3" font-weight="bold" textLength="23.5" lengthAdjust="spacingAndGlyphs" transform="rotate(45 1053.61 580.3)" dominant-baseline="middle" stroke="#000" stroke-width="0.15">Oct-Jun</text>
<text x="1069.69" y="580.3" font-size="7.3" font-weight="bold" textLength="22" lengthAdjust="spacingAndGlyphs" transform="rotate(45 1069.69 580.3)" dominant-baseline="middle" stroke="#000" stroke-width="0.15">Oct-Jul</text>
<text x="1085.78" y="580.3" font-size="7.3" font-weight="bold" textLength="25.5" lengthAdjust="spacingAndGlyphs" transform="rotate(45 1085.78 580.3)" dominant-baseline="middle" stroke="#000" stroke-width="0.15">Oct-Aug</text>
<text x="1101.86" y="580.3" font-size="7.3" font-weight="bold" textLength="25" lengthAdjust="spacingAndGlyphs" transform="rotate(45 1101.86 580.3)" dominant-baseline="middle" stroke="#000" stroke-width="0.15">Oct-Sep</text>
<line x1="886.3" y1="609.7" x2="892.9" y2="609.7" stroke="#4a7ebb" stroke-width="1.1" />
<path d="M889.5 607.5 L891.7 609.7 L889.5 611.9 L887.3 609.7 Z" fill="#4a7ebb"/>
<line x1="886.3" y1="621.5" x2="892.9" y2="621.5" stroke="#be4b48" stroke-width="1.1" />
<rect x="887.7" y="619.7" width="3.6" height="3.6" fill="#be4b48"/>
<text x="893.8" y="612.5" font-size="9.2" textLength="238.7" lengthAdjust="spacingAndGlyphs" stroke="#000" stroke-width="0.12">Cum. Area Aver Precip.(mm) (Oct.1970-Sep.2010) - Normal</text>
<text x="893.8" y="624.3" font-size="9.2" textLength="233.2" lengthAdjust="spacingAndGlyphs" stroke="#000" stroke-width="0.12">Cum. Area Aver Precip.(mm) (Oct.2024-Jun.2025) - Actual</text>
</g>
</g>
<g id="cmap">
<defs><pattern id="hatch" patternUnits="userSpaceOnUse" width="6.4" height="6.4" patternTransform="rotate(-45)"><line x1="0" y1="3.2" x2="6.4" y2="3.2" stroke="#c8c8c8" stroke-width="0.55"/></pattern></defs>
<rect x="332.4" y="298.5" width="295.4" height="46.7" fill="#fff" stroke="#7a7a7a" stroke-width="1"/>
<text x="481.9" y="315.2" font-size="11.1" text-anchor="middle" font-weight="bold" textLength="184.9" lengthAdjust="spacing">DEPARTMENT OF METEOROLOGY</text>
<text x="480" y="327.9" font-size="11.1" text-anchor="middle" font-weight="bold" textLength="285" lengthAdjust="spacing">MINISTRY OF AGRICULTURE, RURAL DEVELOPMENT</text>
<text x="481.5" y="340.9" font-size="11.1" text-anchor="middle" font-weight="bold" textLength="107.1" lengthAdjust="spacing">AND ENVIRONMENT</text>
<path d="M422.7 425.41 L424.52 425.76 L426.34 426.11 L427.77 427.54 L429.82 427.24 L431.27 428.61 L433 429.18 L434.81 429.66 L436.72 429.86 L438.15 431.26 L440.16 431.2 L441.59 432.62 L443.36 433.38 L445.35 433.68 L447.05 434.57 L448.45 436.05 L448.58 435.79 L450.54 434.93 L452.78 434.83 L454.59 433.56 L455.9 431.64 L457.72 430.34 L459.74 429.27 L461.34 427.69 L463.19 426.32 L464.03 424.12 L465.01 422.46 L465.59 420.61 L467.33 419.33 L467.47 417.25 L467.39 415.27 L469.33 414.03 L469.06 411.98 L470.04 410.39 L469.89 408.52 L470.27 406.8 L471.01 405.16 L471.76 403.52 L472.4 401.83 L471.42 400.05 L472.21 398.38 L472.41 396.67 L472.27 394.94 L471.85 393.24 L471.94 391.49 L470.92 389.87 L470.71 388.16 L471.24 386.35 L470.25 384.78 L470.51 382.83 L469.58 381.24 L469.18 379.48 L468.73 377.79 L469.04 376.04 L468.68 374.34 L468.27 372.65 L468.97 370.86 L468.33 369.18 L470.2 370.35 L472.5 370.5 L474.33 371.76 L475.98 372.94 L477.75 373.94 L479.15 375.52 L481.2 376.05 L482.76 377.18 L484.78 377.27 L486.02 379.11 L488.07 379.14 L489.94 378.94 L491.54 379.86 L493.11 380.85 L494.94 380.86 L496.68 380.34 L498.37 380.98 L500.12 380.28 L501.79 381.42 L503.52 381.2 L505.49 380.43 L507.02 379.02 L508.67 377.77 L510.1 379.2 L512.1 379.48 L513.88 379.52 L515.47 380.5 L517.22 380.67 L518.94 380.99 L520.69 381.2 L522.4 381.06 L524.14 381.64 L525.87 381.75 L527.55 380.88 L529.27 380.86 L530.92 381.54 L532.88 380.96 L534.34 382.43 L536.08 382.75 L537.85 382.92 L539.44 384.02 L541.2 384.01 L543.06 383.38 L544.75 383.83 L546.44 384.29 L548.11 384.86 L550 384.06 L551.6 385.09 L553.4 384.88 L555.13 385.08 L556.74 386.01 L558.51 385.4 L560.14 386.74 L561.94 385.79 L563.64 386.13 L565.32 386.7 L567.04 386.51 L568.76 387.33 L570.47 385.98 L572.19 386.61 L573.91 386.7 L575.63 386.64 L577.39 387.07 L579.1 386.82 L580.82 386.76 L582.49 386.01 L584.16 385.43 L585.91 385.45 L587.61 385.15 L589.43 385.83 L591.07 384.98 L592.97 385.32 L594.37 383.58 L596.09 383.21 L597.83 382.89 L599.66 382.92 L601.28 382.13 L603.09 382.21 L604.84 382.04 L606.44 381.15 L608.24 381.2 L609.79 380.03 L611.65 380.38 L613.35 379.95 L615.13 379.94 L616.82 379.48 L618.76 379.71 L620.35 378.77 L621.98 377.97 L623.75 377.62 L625.41 376.91 L627.26 376.32 L628.5 374.51 L630.86 374.94 L632.27 373.48 L634.05 373.03 L635.67 372.32 L637.16 371.34 L638.37 369.88 L640 369.18 L640.6 367.4 L642.27 366.72 L643.84 365.73 L645.82 366.08 L647.47 365.34 L649.21 364.67 L650.93 364.75 L652.64 365.05 L654.36 365.04 L656.05 365.69 L657.74 365.24 L659.41 364.59 L661.12 364.33 L662.86 364.41 L664.64 364.83 L666.05 363.36 L667.96 362.9 L669.42 361.53 L671.5 361.39 L673.4 361.49 L674.99 360.55 L676.48 359.28 L678.25 358.93 L680.09 358.82 L681.71 357.89 L683.43 357.23 L685 356.16 L687.17 356.62 L688.67 355.39 L690.7 355.48 L692.08 353.96 L693.81 353.3 L695.28 351.99 L697.25 351.95 L698.67 350.49 L700.57 350 L702.22 349.02 L704.12 348.52 L706.13 347.92 L707.25 345.89 L708.84 344.61 L710.99 344.23 L712.95 344.38 L714.44 343.13 L716.14 342.51 L717.66 341.37 L719.59 341.44 L721.29 340.79 L721.45 338.89 L723.05 337.81 L724.57 336.69 L724.72 334.79 L726.54 334.12 L727.79 332.76 L729.01 331.35 L729.49 329.06 L730.73 327.06 L732.39 326.41 L734.16 326.2 L736.52 326.53 L738.45 327.92 L740.32 327.78 L741.91 326.83 L743.61 326.2 L745.53 325.77 L746.91 324.23 L748.76 323.63 L750.26 322.35 L752.43 322.38 L753.91 321.05 L755.99 320.93 L757.61 319.87 L759.06 318.48 L761.01 318.08 L762.73 317.24 L764.21 315.9 L765.69 314.41 L766.11 312.21 L767.64 310.75 L769.37 309.92 L770.96 308.81 L772.79 308.18 L774.32 307 L776.04 306.59 L777.94 306.97 L779.46 305.62 L781.16 304.56 L783.09 303.88 L784.95 303.32 L786.87 302.86 L788.24 301.31 L789.95 301.01 L791.77 301.62 L793.49 301.49 L795.11 300.45 L797.25 299.95 L798.41 297.97 L800.26 297.02 L801.9 296.26 L803.61 295.99 L805.41 296.16 L806.81 294.43 L808.54 293.13 L810.56 292.21 L812.58 292.19 L814.64 292.43 L816.57 291.52 L815.71 293.27 L816.03 295.19 L815.71 297.02 L814.89 298.65 L814.08 300.29 L813.99 302.17 L812.59 303.66 L810.44 303.64 L808.84 304.74 L806.81 304.98 L805.19 306.03 L803.69 307.32 L801.84 307.49 L800.27 308.5 L798.54 309.03 L797 310.13 L794.95 309.71 L793.39 310.75 L791.8 311.86 L789.73 312.01 L788.24 313.33 L785.68 313.93 L783.95 315.9 L782.81 318.14 L781.37 320.19 L781.25 321.94 L780.05 323.5 L780.52 325.34 L778.85 326.19 L778 328.07 L776.22 328.78 L774.86 330.45 L773.12 331.56 L771.07 332.21 L769.05 332.45 L767.41 333.46 L765.92 334.79 L764.92 336.64 L762.67 337.25 L761.63 339.08 L759.57 340.27 L758.56 342.34 L757.34 344.23 L755.74 345.31 L753.87 345.87 L752.19 346.8 L750.71 348.07 L749.06 348.94 L747.04 348.86 L744.99 348.91 L743.5 350.18 L741.87 351.14 L740.17 351.95 L738.13 352.15 L736.79 353.77 L734.74 353.96 L733.3 355.39 L731.28 356.07 L730.14 358.08 L728.15 358.82 L726.71 360.57 L724.95 361.95 L723 363.11 L722.29 364.87 L720.74 366.03 L720.12 367.86 L718.71 369.12 L717.39 370.93 L716.33 372.96 L714.42 374.27 L712.54 376.06 L711.85 378.56 L711.51 380.63 L710.77 382.59 L710.13 384.57 L708.74 385.76 L707.55 387.15 L705.75 386.68 L704.14 387.71 L702.32 387.09 L700.69 388 L698.97 388.09 L697.25 388.12 L695.53 388.22 L693.82 388.35 L691.99 388.93 L690.37 387.99 L688.67 387.66 L686.76 389.18 L684.38 389.72 L683.59 391.98 L681.13 392.83 L680.09 394.87 L679.73 396.84 L678.41 398.32 L677.51 400.02 L676.58 401.62 L676.28 403.42 L675.79 405.17 L675.87 406.93 L675.33 408.6 L675.06 410.31 L674.94 412.04 L674.52 413.77 L675.74 415.45 L675.04 417.19 L675.64 418.89 L675.28 420.62 L676.11 422.66 L675.74 424.95 L676.65 426.97 L677.55 428.57 L678.38 430.21 L679 431.97 L679.68 433.69 L681.2 434.94 L682.56 436.15 L683.64 437.65 L685.06 438.8 L686.35 440.09 L687.19 441.9 L687.77 443.83 L689 445.46 L689.79 447.3 L689.79 447.3 L693.99 449.79 L688.84 448.93 L681.97 451.5 L676.82 450.64 L674.25 446.35 L672.53 441.2 L669.96 439.48 L668.24 442.92 L669.1 449.79 L666.52 453.22 L659.66 454.94 L652.79 456.65 L645.92 458.37 L639.06 459.23 L634.76 460.94 L633.05 455.79 L628.76 456.65 L627.9 460.94 L624.55 461.89 L619.4 459.31 L613.39 458.45 L608.24 461.03 L604.81 458.45 L601.37 453.3 L596.22 451.59 L590.21 454.16 L585.06 452.45 L583.35 446.44 L579.91 441.29 L575.62 434.42 L572.19 427.55 L571.33 421.55 L568.76 419.31 L564.46 420.69 L560.17 425.84 L553.3 424.98 L547.3 427.55 L542.15 428.41 L537.85 425.84 L530.99 423.26 L524.12 421.55 L517.25 422.4 L512.1 425.84 L506.95 430.99 L503.52 428.41 L496.65 428.41 L489.79 430.99 L482.92 435.28 L476.05 439.57 L469.18 443 L462.32 444.72 L456.31 445.58 L453.73 449.87 L452.75 449.79 L448.45 446.35 L444.16 442.58 L439.87 440.34 L434.72 436.05 L429.57 434.33 L424.42 430.9 L422.7 425.41 Z" fill="url(#hatch)" stroke="none" stroke-width="1" />
<path d="M331.72 445.49 L333.43 444.98 L335.16 446.32 L336.25 448.23 L337.73 449.79 L339.15 450.94 L340.19 452.47 L341.45 453.78 L342.88 454.94 L344.8 455.73 L346.36 456.96 L347.05 459.18 L348.88 460.09 L350.67 460.08 L352.4 460.38 L353.89 461.84 L355.75 461.46 L357.46 461.14 L359.26 461.41 L360.9 460.6 L362.65 460.57 L364.33 460.09 L365.77 458.57 L367.88 458.11 L369.78 457.34 L371.2 455.79 L372.73 454.32 L374.46 453.05 L375.89 451.47 L377.21 449.79 L377.73 447.72 L379.68 446.56 L380.55 444.71 L381.5 442.92 L381.87 441.1 L382.13 439.24 L383.95 437.96 L384.08 436.05 L385.07 434.65 L386.4 433.5 L387.62 432.27 L388.45 430.75 L389.23 429.18 L390.94 426.61 L392.56 427.52 L394.4 427.03 L396.09 427.47 L398.41 427.03 L400.39 425.75 L402.06 424.65 L404.16 424.25 L405.54 422.66 L407.6 423 L409.47 421.6 L411.55 421.97 L413.93 422.51 L415.84 424.03 L417.64 423.96 L419.13 425.41 L421.01 424.97 L422.7 425.41 L423.09 427.3 L424.13 428.98 L424.42 430.9 L426.13 432.05 L427.95 433.05 L429.57 434.33 L431.36 434.69 L432.96 435.6 L434.72 436.05 L436.36 437.58 L437.77 439.38 L439.87 440.34 L441.89 441.7 L444.16 442.58 L445.17 444.32 L446.67 445.49 L448.45 446.35 L449.43 448.07 L451.16 448.84 L452.75 449.79 L453.73 449.87 L454.59 447.47 L456.31 445.58 L458.39 445.83 L460.41 445.7 L462.32 444.72 L464.18 444.88 L465.78 443.96 L467.55 443.74 L469.18 443 L470.71 441.76 L472.84 441.73 L474.38 440.53 L476.05 439.57 L477.6 438.22 L479.14 436.87 L481.48 436.8 L482.92 435.28 L485.02 434.83 L486.02 432.61 L488.31 432.44 L489.79 430.99 L491.45 430.22 L493.03 429.21 L494.83 428.77 L496.65 428.41 L498.37 428.82 L500.09 428.97 L501.8 427.73 L503.52 428.41 L505.13 429.84 L506.95 430.99 L507.76 429.22 L509.76 428.64 L510.64 426.95 L512.1 425.84 L514.14 425.17 L515.94 424.15 L517.25 422.4 L518.97 422.2 L520.78 422.72 L522.37 421.48 L524.12 421.55 L525.99 421.36 L527.52 422.55 L529.44 422.15 L530.99 423.26 L532.86 423.48 L534.47 424.42 L536.08 425.35 L537.85 425.84 L540.27 426.68 L542.15 428.41 L543.75 427.45 L545.67 428.38 L547.3 427.55 L549.19 426.44 L551.57 426.47 L553.3 424.98 L554.95 425.78 L556.76 425.23 L558.46 425.56 L560.17 425.84 L561.63 424.14 L563.2 422.54 L564.46 420.69 L566.65 420.14 L568.76 419.31 L569.98 420.5 L571.33 421.55 L571.44 423.57 L571.25 425.64 L572.19 427.55 L573.04 429.28 L574 430.94 L574.47 432.85 L575.62 434.42 L577.03 435.93 L578.02 437.7 L578.23 439.95 L579.91 441.29 L581.03 443.02 L582.14 444.76 L583.35 446.44 L584.62 448.24 L584.61 450.41 L585.06 452.45 L586.74 453.13 L588.73 452.91 L590.21 454.16 L592.29 453.46 L594.3 452.63 L596.22 451.59 L598.15 451.53 L599.6 452.91 L601.37 453.3 L602.56 454.99 L603.44 456.89 L604.81 458.45 L606.66 459.57 L608.24 461.03 L610.1 460.45 L611.83 459.63 L613.39 458.45 L615.49 458.03 L617.49 458.37 L619.4 459.31 L621 460.41 L622.52 461.65 L624.55 461.89 L626.12 461.06 L627.9 460.94 L628.26 458.79 L628.76 456.65 L630.93 456.36 L633.05 455.79 L633.88 457.43 L634.39 459.16 L634.76 460.94 L636.81 459.82 L639.06 459.23 L640.75 458.82 L642.51 458.94 L644.17 458.29 L645.92 458.37 L647.59 457.76 L649.46 457.91 L650.9 456.39 L652.79 456.65 L654.53 456.32 L656.31 456.14 L657.87 455.09 L659.66 454.94 L661.27 454.1 L663.2 454.52 L664.71 453.27 L666.52 453.22 L667.44 451.22 L669.1 449.79 L668.79 448.08 L668.96 446.32 L667.86 444.71 L668.24 442.92 L668.86 441.08 L669.96 439.48 L672.53 441.2 L673.34 442.84 L673.2 444.79 L674.25 446.35 L675.62 448.45 L676.82 450.64 L678.45 451.46 L680.34 450.73 L681.97 451.5 L683.6 450.63 L685.49 450.43 L687.33 450.11 L688.84 448.93 L690.57 449.14 L692.34 449.09 L693.99 449.79 L691.6 449.03 L689.79 447.3 L691.48 448.36 L693.46 448.96 L694.94 450.39 L696.45 451.66 L698.14 452.56 L700.09 452.96 L701.56 454.43 L702.51 456.22 L702.91 458.36 L704.38 459.83 L705.05 461.48 L705.69 463.14 L707.16 464.35 L708.3 465.74 L708.67 467.55 L709.81 469.13 L709.99 471.18 L711.55 472.55 L712.1 474.42 L712.96 476.06 L713.51 477.81 L714.15 479.53 L714.68 481.29 L712.1 482.66 L710.35 482.33 L708.83 481.14 L706.95 481.29 L705.01 480.89 L703.19 480.24 L702.1 478.12 L700.09 477.85 L698.55 476.74 L696.88 476.02 L694.94 476.14 L693.23 476.45 L691.42 475.9 L689.71 476.15 L688.07 477 L686.4 477.62 L684.59 477.06 L682.86 477.14 L681.2 477.85 L679.41 478.19 L677.76 478.97 L676.05 479.57 L674.56 481.51 L672.62 483 L671.33 484.23 L670 485.4 L668.33 486.09 L666.44 486.26 L664.93 485.05 L663.18 484.72 L661.52 484.14 L660.4 482.6 L658.33 482.74 L657.17 481.29 L655.66 480.08 L653.84 479.73 L652.24 478.76 L650.3 478.71 L648.68 477.84 L646.97 477.55 L645.15 477.85 L643.45 477.45 L641.6 478 L640 477 L637.72 477.2 L635.62 478.11 L633.84 478.39 L632.15 477.98 L630.5 477.23 L628.76 477.25 L627.01 478.94 L625.32 480.69 L624.29 482.48 L622.48 483.75 L621.89 485.84 L621.3 487.51 L621.26 489.33 L620.96 491.08 L620.17 492.7 L619.42 494.35 L619.78 496.14 L619.11 497.8 L619.31 499.57 L619.32 501.32 L619.33 503.06 L618.62 504.71 L618.45 506.44 L616.92 507.89 L616.58 510.14 L615.02 511.59 L614.17 513.2 L613.55 514.87 L613.29 516.63 L613.3 518.45 L611.47 518.41 L610.05 520.03 L608.11 519.56 L606.44 520.17 L604.22 520.53 L602.7 522.51 L600.43 522.75 L598.46 524.33 L596.14 525.32 L594.58 526.49 L592.69 527 L590.99 527.9 L588.93 528.64 L586.82 529.19 L584.72 529.79 L582.63 529.84 L580.88 531.43 L578.71 531.16 L576.86 532.79 L574.42 533.22 L572.95 534.58 L571.24 535.44 L569.27 535.79 L567.94 537.6 L565.84 538.37 L563.8 538.59 L562.17 539.61 L560.69 540.94 L559.17 542.11 L557.25 542.09 L555.54 542.66 L553.97 544.01 L552.1 544.89 L549.85 544.29 L547.81 543.18 L545.73 543.99 L543.52 544.38 L541.67 545.49 L540.09 546.95 L538.36 547 L536.67 547.5 L534.98 547.93 L533.24 547.9 L531.5 547.81 L529.75 548.27 L528.07 547.52 L526.37 547.18 L524.62 547.58 L522.92 547.3 L521.17 547.84 L519.46 547.61 L517.76 547.23 L516.05 546.95 L514.32 547.01 L512.57 546.96 L510.92 547.77 L509.18 547.81 L507.31 548.03 L505.69 548.93 L504.07 549.84 L502.32 550.39 L500.71 551.69 L498.89 552.68 L497.17 553.82 L496.04 555.4 L495.45 557.25 L493.8 558.5 L491.86 559.3 L490.3 560.69 L489.2 562.44 L488.33 564.33 L486.87 565.84 L486.6 567.55 L486.15 569.23 L486.86 571.07 L486.01 572.7 L486.97 574.37 L487.82 576.09 L488.58 577.85 L489.96 579.6 L492.02 580.43 L490.95 581.99 L491.16 583.86 L488.92 583.76 L486.8 582.7 L484.51 583 L482.75 582.74 L481.11 583.7 L479.36 583.57 L477.7 584.25 L475.92 583.86 L473.6 582.97 L471.12 583 L471.06 581.25 L471.09 579.47 L470.65 577.78 L469.91 576.14 L469.51 574.33 L468.95 572.58 L468.07 570.95 L467.34 569.27 L465.76 567.87 L465.3 565.77 L463.49 564.51 L463.05 562.4 L460.99 561.38 L459.88 559.23 L457.9 558.11 L455.89 558.58 L453.97 558.29 L452.04 558.07 L450.17 557.25 L448.38 556.9 L446.8 558.16 L445.11 558.61 L443.3 558.11 L441.46 558.04 L440.01 559.52 L438.03 558.9 L436.44 559.83 L434.64 560.14 L432.85 560.46 L431.08 560.86 L429.57 562.06 L427.53 562.63 L425.42 563.01 L423.56 564.12 L421.41 564.14 L419.83 562.45 L417.77 562.17 L415.84 561.55 L414 560.68 L411.81 561 L410.15 559.51 L408.11 559.31 L406.71 557.8 L404.36 558 L402.83 556.71 L401.24 555.54 L399.28 554.59 L397.43 553.37 L395.24 552.96 L393.38 552.68 L391.63 552.12 L389.95 551.38 L388.37 550.39 L386.69 549.87 L385.01 549.33 L383.19 549.51 L381.46 549.21 L379.79 548.67 L377.81 548.17 L375.85 547.6 L373.95 546.85 L372.06 546.09 L370.3 545 L369.49 543.09 L368.74 541.13 L366.91 540.09 L365.1 538.46 L363.48 536.65 L362.76 534.74 L360.98 533.48 L360.63 531.35 L359.69 529.59 L358.33 528.07 L358.24 526.3 L357.66 524.63 L357.27 522.92 L357.16 521.16 L356.61 519.48 L356.53 517.37 L354.82 515.79 L354.1 513.88 L354.03 511.76 L352.56 510.04 L351 508.42 L348.88 507.47 L347.61 506.16 L346.25 504.95 L345.25 503.37 L343.73 502.32 L342.53 500.79 L341.87 499.03 L341 497.35 L340.64 495.45 L342.36 493.56 L342.37 491.55 L341.85 489.57 L342.02 487.55 L340.43 486.07 L339.73 483.95 L338.24 482.4 L338.99 480.71 L338.07 478.96 L338.75 477.27 L338.38 475.53 L338.58 473.82 L338.44 471.72 L337.42 469.92 L336.32 468.14 L336.01 466.09 L334.76 464.34 L333.64 462.52 L333.41 460.31 L332.58 458.37 L331.98 456.7 L331.24 455.05 L331.08 453.27 L330.86 451.5 Z" fill="#ffebbf" stroke="#6e6e6e" stroke-width="1" stroke-linejoin="round"/>
<path d="M333.43 447.21 L334.19 449.07 L334.72 451.02 L334.9 453.09 L336.23 454.75 L336.87 456.65 L337.89 458.38 L338.81 460.15 L340.36 461.56 L340.97 463.53 L342.02 465.24 L342.7 467.04 L343.34 468.87 L345.14 470.11 L345.71 471.97 L346.31 473.82 L347.97 474.79 L348.36 476.87 L349.7 478.13 L351.63 478.86 L352.32 480.69 L353.46 482.32 L355.02 483.33 L356.82 483.97 L358.4 484.95 L360.04 485.84 L361.1 487.39 L361.88 489.04 L361.76 490.99 L362.58 492.72 L364.07 494.13 L364.33 496.14 L366.26 496.58 L367.94 497.51 L369.8 498.08 L371.2 499.57 L372.91 499.35 L374.63 499.14 L376.4 499.57 L378.07 498.91 L379.79 498.71 L381.56 498.4 L383.22 497.68 L385.01 497.4 L386.63 496.59 L388.37 496.14 L388.51 494.33 L390.01 492.9 L389.74 490.99 L391.5 490.39 L392.6 489.08 L393.52 487.55 L395.41 486.67 L396.8 485.03 L398.67 484.12 L399.15 481.82 L400.39 479.83 L400.65 477.74 L400.91 475.65 L402.1 473.82 L403.84 472.36 L404.85 470.29 L406.39 468.67 L407.92 467.76 L408.56 466.04 L409.83 464.89 L411.32 466.14 L413.26 466.09 L414.13 468.12 L415.84 469.53 L417.89 469.72 L419.47 470.86 L420.99 472.1 L422.78 472.5 L424.42 471.63 L426.23 472.17 L427.85 471.24" fill="none" stroke="#6e6e6e" stroke-width="1" stroke-linejoin="round"/>
<path d="M427.85 471.24 L428.1 469.24 L428.66 467.27 L428.71 465.24 L429.59 463.61 L429.5 461.61 L429.96 459.83 L431.29 458.37 L431.98 456.57 L432.7 454.78 L434.28 453.43 L434.72 451.5 L435.63 449.89 L436.15 448.12 L436.73 446.38 L437.3 444.64 L438.88 443.68 L439.83 441.93 L441.59 441.2" fill="none" stroke="#6e6e6e" stroke-width="1" stroke-linejoin="round"/>
<path d="M427.85 471.24 L429.28 472.45 L429.93 474.28 L431.29 475.54 L432.92 476.37 L434.56 477.18 L436.44 477.25 L437.89 475.72 L439.65 474.63 L441.59 473.82 L442.92 475.3 L443.67 477.07 L444.16 478.97 L445.35 480.65 L447.42 481.44 L448.45 483.26 L450.15 484.45 L452.13 485.19 L453.61 486.7 L455.91 487.72 L457.9 489.27" fill="none" stroke="#6e6e6e" stroke-width="1" stroke-linejoin="round"/>
<path d="M457.9 489.27 L457.12 491.72 L455.32 493.56 L454.68 495.44 L454.41 497.38 L453.64 499.24 L453.95 501.29 L454.15 503.03 L454.04 504.75 L453.19 506.41 L453.16 508.14 L453.26 509.87 L451.03 509.18 L450.66 511.01 L449.48 512.52 L449.24 514.39 L448.45 516.05 L447.03 517.55 L446.79 519.79 L445.59 521.42 L444.16 522.92 L442.6 524.07 L442.19 526.05 L441.24 527.63 L439.87 528.93 L438.02 529 L436.38 529.77 L434.87 530.98 L432.98 530.91 L431.29 531.5 L429.66 532.15 L428.53 533.66 L426.67 533.88 L425.28 534.94 L424.28 537.01 L422.61 538.53 L420.99 540.09 L419.67 542 L417.84 543.29 L415.84 544.38 L413.8 544.59 L412.47 546.22 L410.36 546.29 L408.97 547.81 L407.3 549.03 L405.45 549.97 L403.82 551.24 L402.05 553.1 L401.24 555.54" fill="none" stroke="#6e6e6e" stroke-width="1" stroke-linejoin="round"/>
<path d="M457.9 489.27 L460.47 487.55 L462.36 487.8 L463.73 485.98 L465.71 486.61 L467.34 485.84 L468.96 484.99 L470.92 485.87 L472.35 484.1 L474.32 485.02 L475.92 484.12 L477.64 484.39 L479.36 484.66 L481.07 484.87 L482.79 484.12 L484.35 485.13 L485.54 486.52 L486.43 488.2 L487.94 489.27 L489.84 490.14 L491.57 491.26 L493.09 492.7 L494.83 494.16 L495.54 496.48 L497.38 497.85 L499.32 499.23 L501.67 499.57 L503.5 499.57 L505.01 498.31 L506.98 498.9 L508.54 497.85 L510.25 499.01 L512.2 499.81 L513.69 501.29 L514.59 498.71 L516.28 497.79 L517.97 496.89 L519.74 496.14" fill="none" stroke="#6e6e6e" stroke-width="1" stroke-linejoin="round"/>
<path d="M542.15 428.41 L542.92 430.36 L543.32 432.41 L543.86 434.42 L543.81 436.15 L543.6 437.86 L543.48 439.58 L542.94 441.26 L543 443 L542.78 444.84 L541.67 446.37 L541.29 448.15 L540.32 449.87 L538.61 450.68 L537 451.59 L536.36 453.42 L535.76 455.26 L534.09 456.57 L533.56 458.45 L533.19 460.27 L531.87 461.74 L530.99 463.36 L530.99 465.32 L530.69 467.17 L529.15 468.55 L528.62 470.31 L528.41 472.19 L527.6 473.74 L527.94 475.69 L526.76 477.1 L525.94 478.65 L525.84 480.44 L524.98 481.97 L523.91 483.37 L522.32 484.12 L522.17 485.91 L521.81 487.64 L520.61 489.17 L520.6 490.99 L520.54 492.74 L520.14 494.44 L519.74 496.14" fill="none" stroke="#6e6e6e" stroke-width="1" stroke-linejoin="round"/>
<path d="M608.15 460.94 L606.84 462.21 L605.25 463.19 L603.8 464.32 L603 466.09 L601.4 467.03 L599.43 467.01 L597.75 467.74 L596.14 468.67 L594.36 468.86 L592.85 470.1 L591.16 470.65 L589.27 470.39 L587.53 470.34 L585.88 469.59 L584.07 470.11 L582.4 469.53 L580.69 469.31 L578.94 469.37 L577.32 468.37 L575.54 468.67 L573.66 468.45 L572.14 469.67 L570.2 469.23 L568.67 470.39 L567.25 471.83 L565.03 471.68 L563.52 472.96 L561.46 473.8 L560.09 475.54 L560.32 477.34 L559.21 478.92 L559.23 480.69 L558.85 482.39 L557.98 484.01 L558.37 485.84 L556.79 486.82 L554.92 486.92 L553.22 487.55 L551.1 488.86 L549.79 490.99 L547.6 491.21 L545.49 491.85 L543.2 490.8 L541.2 489.27 L538.93 489.46 L536.91 488.41 L534.77 489.34 L533.5 491.3 L531.76 492.7 L529.81 492.57 L528.5 494.36 L526.61 494.42 L524.78 494.4 L523.06 494.82 L521.31 495.1 L519.74 496.14" fill="none" stroke="#6e6e6e" stroke-width="1" stroke-linejoin="round"/>
<path d="M514.59 498.71 L515.19 497.17 L515.23 499 L514.33 500.6 L514.38 502.36 L515.15 503.99 L515.19 505.75 L515.65 507.47 L515.21 509.18 L515.19 510.9 L515.49 512.62 L515.8 514.33 L516.05 516.05 L516.97 518.17 L517.77 520.34 L519.6 520.58 L521.32 521.14 L522.92 522.06 L524.51 523.18 L526.47 523.54 L528.07 524.64 L529.7 525.46 L531.37 526.19 L533.22 526.35 L534.55 528.46 L536.65 529.79 L536.92 531.8 L538.73 533.04 L539.23 534.94 L540.17 536.53 L540.04 538.48 L540.94 540.09 L541.12 542.1 L541.96 544.03 L541.8 546.09" fill="none" stroke="#6e6e6e" stroke-width="1" stroke-linejoin="round"/>
<path d="M623.61 461.8 L623.63 463.84 L623.75 465.87 L624.46 467.81 L625.58 469.26 L626.74 470.68 L627.9 472.1 L628.34 473.79 L627.73 475.66 L628.76 477.25" fill="none" stroke="#6e6e6e" stroke-width="1" stroke-linejoin="round"/>
<path d="M422.7 425.41 L424.52 425.76 L426.34 426.11 L427.77 427.54 L429.82 427.24 L431.27 428.61 L433 429.18 L434.81 429.66 L436.72 429.86 L438.15 431.26 L440.16 431.2 L441.59 432.62 L443.36 433.38 L445.35 433.68 L447.05 434.57 L448.45 436.05 L448.58 435.79 L450.54 434.93 L452.78 434.83 L454.59 433.56 L455.9 431.64 L457.72 430.34 L459.74 429.27 L461.34 427.69 L463.19 426.32 L464.03 424.12 L465.01 422.46 L465.59 420.61 L467.33 419.33 L467.47 417.25 L467.39 415.27 L469.33 414.03 L469.06 411.98 L470.04 410.39 L469.89 408.52 L470.27 406.8 L471.01 405.16 L471.76 403.52 L472.4 401.83 L471.42 400.05 L472.21 398.38 L472.41 396.67 L472.27 394.94 L471.85 393.24 L471.94 391.49 L470.92 389.87 L470.71 388.16 L471.24 386.35 L470.25 384.78 L470.51 382.83 L469.58 381.24 L469.18 379.48 L468.73 377.79 L469.04 376.04 L468.68 374.34 L468.27 372.65 L468.97 370.86 L468.33 369.18 L470.2 370.35 L472.5 370.5 L474.33 371.76 L475.98 372.94 L477.75 373.94 L479.15 375.52 L481.2 376.05 L482.76 377.18 L484.78 377.27 L486.02 379.11 L488.07 379.14 L489.94 378.94 L491.54 379.86 L493.11 380.85 L494.94 380.86 L496.68 380.34 L498.37 380.98 L500.12 380.28 L501.79 381.42 L503.52 381.2 L505.49 380.43 L507.02 379.02 L508.67 377.77 L510.1 379.2 L512.1 379.48 L513.88 379.52 L515.47 380.5 L517.22 380.67 L518.94 380.99 L520.69 381.2 L522.4 381.06 L524.14 381.64 L525.87 381.75 L527.55 380.88 L529.27 380.86 L530.92 381.54 L532.88 380.96 L534.34 382.43 L536.08 382.75 L537.85 382.92 L539.44 384.02 L541.2 384.01 L543.06 383.38 L544.75 383.83 L546.44 384.29 L548.11 384.86 L550 384.06 L551.6 385.09 L553.4 384.88 L555.13 385.08 L556.74 386.01 L558.51 385.4 L560.14 386.74 L561.94 385.79 L563.64 386.13 L565.32 386.7 L567.04 386.51 L568.76 387.33 L570.47 385.98 L572.19 386.61 L573.91 386.7 L575.63 386.64 L577.39 387.07 L579.1 386.82 L580.82 386.76 L582.49 386.01 L584.16 385.43 L585.91 385.45 L587.61 385.15 L589.43 385.83 L591.07 384.98 L592.97 385.32 L594.37 383.58 L596.09 383.21 L597.83 382.89 L599.66 382.92 L601.28 382.13 L603.09 382.21 L604.84 382.04 L606.44 381.15 L608.24 381.2 L609.79 380.03 L611.65 380.38 L613.35 379.95 L615.13 379.94 L616.82 379.48 L618.76 379.71 L620.35 378.77 L621.98 377.97 L623.75 377.62 L625.41 376.91 L627.26 376.32 L628.5 374.51 L630.86 374.94 L632.27 373.48 L634.05 373.03 L635.67 372.32 L637.16 371.34 L638.37 369.88 L640 369.18 L640.6 367.4 L642.27 366.72 L643.84 365.73 L645.82 366.08 L647.47 365.34 L649.21 364.67 L650.93 364.75 L652.64 365.05 L654.36 365.04 L656.05 365.69 L657.74 365.24 L659.41 364.59 L661.12 364.33 L662.86 364.41 L664.64 364.83 L666.05 363.36 L667.96 362.9 L669.42 361.53 L671.5 361.39 L673.4 361.49 L674.99 360.55 L676.48 359.28 L678.25 358.93 L680.09 358.82 L681.71 357.89 L683.43 357.23 L685 356.16 L687.17 356.62 L688.67 355.39 L690.7 355.48 L692.08 353.96 L693.81 353.3 L695.28 351.99 L697.25 351.95 L698.67 350.49 L700.57 350 L702.22 349.02 L704.12 348.52 L706.13 347.92 L707.25 345.89 L708.84 344.61 L710.99 344.23 L712.95 344.38 L714.44 343.13 L716.14 342.51 L717.66 341.37 L719.59 341.44 L721.29 340.79 L721.45 338.89 L723.05 337.81 L724.57 336.69 L724.72 334.79 L726.54 334.12 L727.79 332.76 L729.01 331.35 L729.49 329.06 L730.73 327.06 L732.39 326.41 L734.16 326.2 L736.52 326.53 L738.45 327.92 L740.32 327.78 L741.91 326.83 L743.61 326.2 L745.53 325.77 L746.91 324.23 L748.76 323.63 L750.26 322.35 L752.43 322.38 L753.91 321.05 L755.99 320.93 L757.61 319.87 L759.06 318.48 L761.01 318.08 L762.73 317.24 L764.21 315.9 L765.69 314.41 L766.11 312.21 L767.64 310.75 L769.37 309.92 L770.96 308.81 L772.79 308.18 L774.32 307 L776.04 306.59 L777.94 306.97 L779.46 305.62 L781.16 304.56 L783.09 303.88 L784.95 303.32 L786.87 302.86 L788.24 301.31 L789.95 301.01 L791.77 301.62 L793.49 301.49 L795.11 300.45 L797.25 299.95 L798.41 297.97 L800.26 297.02 L801.9 296.26 L803.61 295.99 L805.41 296.16 L806.81 294.43 L808.54 293.13 L810.56 292.21 L812.58 292.19 L814.64 292.43 L816.57 291.52 L815.71 293.27 L816.03 295.19 L815.71 297.02 L814.89 298.65 L814.08 300.29 L813.99 302.17 L812.59 303.66 L810.44 303.64 L808.84 304.74 L806.81 304.98 L805.19 306.03 L803.69 307.32 L801.84 307.49 L800.27 308.5 L798.54 309.03 L797 310.13 L794.95 309.71 L793.39 310.75 L791.8 311.86 L789.73 312.01 L788.24 313.33 L785.68 313.93 L783.95 315.9 L782.81 318.14 L781.37 320.19 L781.25 321.94 L780.05 323.5 L780.52 325.34 L778.85 326.19 L778 328.07 L776.22 328.78 L774.86 330.45 L773.12 331.56 L771.07 332.21 L769.05 332.45 L767.41 333.46 L765.92 334.79 L764.92 336.64 L762.67 337.25 L761.63 339.08 L759.57 340.27 L758.56 342.34 L757.34 344.23 L755.74 345.31 L753.87 345.87 L752.19 346.8 L750.71 348.07 L749.06 348.94 L747.04 348.86 L744.99 348.91 L743.5 350.18 L741.87 351.14 L740.17 351.95 L738.13 352.15 L736.79 353.77 L734.74 353.96 L733.3 355.39 L731.28 356.07 L730.14 358.08 L728.15 358.82 L726.71 360.57 L724.95 361.95 L723 363.11 L722.29 364.87 L720.74 366.03 L720.12 367.86 L718.71 369.12 L717.39 370.93 L716.33 372.96 L714.42 374.27 L712.54 376.06 L711.85 378.56 L711.51 380.63 L710.77 382.59 L710.13 384.57 L708.74 385.76 L707.55 387.15 L705.75 386.68 L704.14 387.71 L702.32 387.09 L700.69 388 L698.97 388.09 L697.25 388.12 L695.53 388.22 L693.82 388.35 L691.99 388.93 L690.37 387.99 L688.67 387.66 L686.76 389.18 L684.38 389.72 L683.59 391.98 L681.13 392.83 L680.09 394.87 L679.73 396.84 L678.41 398.32 L677.51 400.02 L676.58 401.62 L676.28 403.42 L675.79 405.17 L675.87 406.93 L675.33 408.6 L675.06 410.31 L674.94 412.04 L674.52 413.77 L675.74 415.45 L675.04 417.19 L675.64 418.89 L675.28 420.62 L676.11 422.66 L675.74 424.95 L676.65 426.97 L677.55 428.57 L678.38 430.21 L679 431.97 L679.68 433.69 L681.2 434.94 L682.56 436.15 L683.64 437.65 L685.06 438.8 L686.35 440.09 L687.19 441.9 L687.77 443.83 L689 445.46 L689.79 447.3" fill="none" stroke="#000" stroke-width="1.35" stroke-linejoin="round"/>
<path d="M491.03 560.34 L489.71 562.13 L488.39 563.92 L487.25 565.84 L486.82 567.53 L486.48 569.23 L486.34 570.97 L486.22 572.7 L486.79 574.53 L488.08 576.02 L488.63 577.85 L490.19 579.38 L491.72 580.94" fill="none" stroke="#000" stroke-width="1.4" />
<path d="M390.1 455.3 C385.8 456.82 372.03 461.88 364.3 464.4 C356.57 466.92 349.42 468.83 343.7 470.4 C337.98 471.97 340.62 470.95 330 473.8 C319.38 476.65 288.33 485.22 280 487.5" stroke="#000" stroke-width="1" stroke-dasharray="2.6 3.4" fill="none"/>
<path d="M383.2 519.1 C380.35 522.45 373.25 530.83 366.1 539.2 C358.95 547.57 346.32 562.28 340.3 569.3 C334.28 576.32 339.95 569.85 330 581.3 C320.05 592.75 288.83 628.55 280.6 638" stroke="#000" stroke-width="1" stroke-dasharray="2.6 3.4" fill="none"/>
<path d="M485.4 533.2 C486.97 536.92 492.08 549.48 494.8 555.5 C497.52 561.52 499.12 563.57 501.7 569.3 C504.28 575.03 506.58 581.62 510.3 589.9 C514.02 598.18 520.97 612.32 524 619 C527.03 625.68 527.75 628.17 528.5 630" stroke="#000" stroke-width="1" stroke-dasharray="2.6 3.4" fill="none"/>
<path d="M577 498.9 C578 501.18 580.85 507.6 583 512.6 C585.15 517.6 587.03 522.03 589.9 528.9 C592.77 535.77 596.77 545.35 600.2 553.8 C603.63 562.25 606.22 568.23 610.5 579.6 C614.78 590.97 622.57 613.68 625.9 622 C629.23 630.32 629.73 628.25 630.5 629.5" stroke="#000" stroke-width="1" stroke-dasharray="2.6 3.4" fill="none"/>
<path d="M678 458.3 C682.53 462.13 692.93 470.88 705.2 481.3 C717.47 491.72 722.22 495.6 751.6 520.8 C780.98 546 859.85 613.88 881.5 632.5" stroke="#000" stroke-width="1" stroke-dasharray="2.6 3.4" fill="none"/>
<path d="M570.4 448.6 C572.4 448 578.12 446.38 582.4 445 C586.68 443.62 590.38 442.22 596.1 440.3 C601.82 438.38 610.97 435.22 616.7 433.5 C622.43 431.78 626.78 430.95 630.5 430 C634.22 429.05 636.15 427.88 639 427.8 C641.85 427.72 643.87 428.83 647.6 429.5 C651.33 430.17 656.82 431 661.4 431.8 C665.98 432.6 667.22 432.92 675.1 434.3 C682.98 435.68 697.38 438.13 708.7 440.1 C720.02 442.07 731.57 444.1 743 446.1 C754.43 448.1 765.85 450.1 777.3 452.1 C788.75 454.1 801.25 456.18 811.7 458.1 C822.15 460.02 828.62 461.62 840 463.6 C851.38 465.58 873.33 468.93 880 470" stroke="#000" stroke-width="1" stroke-dasharray="2.6 3.4" fill="none"/>
<path d="M461 449 C467.5 445.28 491.67 431.7 500 426.7 C508.33 421.7 507.42 421.15 511 419 C514.58 416.85 518.33 415.38 521.5 413.8 C524.67 412.22 526 410.72 530 409.5 C534 408.28 538.83 407.65 545.5 406.5 C552.17 405.35 557.58 404.68 570 402.6 C582.42 400.52 604.52 396.43 620 394 C635.48 391.57 648.02 390.28 662.9 388 C677.78 385.72 694.7 382.73 709.3 380.3 C723.9 377.87 736.77 375.55 750.5 373.4 C764.23 371.25 780.12 369.12 791.7 367.4 C803.28 365.68 805.28 365.58 820 363.1 C834.72 360.62 870 354.27 880 352.5" stroke="#000" stroke-width="1" stroke-dasharray="2.6 3.4" fill="none"/>
<text x="390.4" y="456.3" font-size="11" textLength="25.4" lengthAdjust="spacing">Polis</text>
<text x="450.6" y="463.3" font-size="11" textLength="37.1" lengthAdjust="spacing">Morfou</text>
<text x="383.6" y="520.2" font-size="11" textLength="30.5" lengthAdjust="spacing">Pafos</text>
<text x="459.6" y="535.8" font-size="11" textLength="49.8" lengthAdjust="spacing">Lemesos</text>
<text x="537.9" y="462.7" font-size="11" textLength="44.6" lengthAdjust="spacing">Lefkosia</text>
<text x="567" y="496.5" font-size="11" textLength="42.9" lengthAdjust="spacing">Larnaka</text>
<text x="629.6" y="471.2" font-size="11" textLength="76.5" lengthAdjust="spacing">Kokkinochoria</text>
<text x="579.9" y="412.4" font-size="10" textLength="38.6" lengthAdjust="spacing">No Data</text>
<circle cx="372.1" cy="477.8" r="1.7" fill="#1c3f94" stroke="#111a33" stroke-width="0.6"/>
<circle cx="388.9" cy="541.5" r="1.7" fill="#1c3f94" stroke="#111a33" stroke-width="0.6"/>
<circle cx="468.2" cy="543" r="1.7" fill="#1c3f94" stroke="#111a33" stroke-width="0.6"/>
<circle cx="485.9" cy="469" r="1.7" fill="#1c3f94" stroke="#111a33" stroke-width="0.6"/>
<circle cx="535.7" cy="464.9" r="1.7" fill="#1c3f94" stroke="#111a33" stroke-width="0.6"/>
<circle cx="545.8" cy="497.9" r="1.7" fill="#1c3f94" stroke="#111a33" stroke-width="0.6"/>
<circle cx="678" cy="458" r="1.7" fill="#1c3f94" stroke="#111a33" stroke-width="0.6"/>
<text x="339.4" y="489.3" font-size="8.3" fill="#fff" textLength="65.3" lengthAdjust="spacing" stroke="#fff" stroke-width="2.4" stroke-linejoin="round" stroke-opacity="0.9">EVRETOU (DAM)</text>
<text x="339.4" y="489.3" font-size="8.3" fill="#4d86e3" textLength="65.3" lengthAdjust="spacing">EVRETOU (DAM)</text>
<text x="340.3" y="537.9" font-size="8.3" fill="#fff" textLength="97.5" lengthAdjust="spacing" stroke="#fff" stroke-width="2.4" stroke-linejoin="round" stroke-opacity="0.9">ASPROKREMMOS (DAM)</text>
<text x="340.3" y="537.9" font-size="8.3" fill="#4d86e3" textLength="97.5" lengthAdjust="spacing">ASPROKREMMOS (DAM)</text>
<text x="439.9" y="553.5" font-size="8.3" fill="#fff" textLength="56.6" lengthAdjust="spacing" stroke="#fff" stroke-width="2.4" stroke-linejoin="round" stroke-opacity="0.9">KOURIS (DAM)</text>
<text x="439.9" y="553.5" font-size="8.3" fill="#4d86e3" textLength="56.6" lengthAdjust="spacing">KOURIS (DAM)</text>
<text x="452.7" y="479.8" font-size="8.3" fill="#fff" textLength="67" lengthAdjust="spacing" stroke="#fff" stroke-width="2.4" stroke-linejoin="round" stroke-opacity="0.9">KAPOURAS (F.S.)</text>
<text x="452.7" y="479.8" font-size="8.3" fill="#4d86e3" textLength="67" lengthAdjust="spacing">KAPOURAS (F.S.)</text>
<text x="506" y="475.5" font-size="8.3" fill="#fff" textLength="60.1" lengthAdjust="spacing" stroke="#fff" stroke-width="2.4" stroke-linejoin="round" stroke-opacity="0.9">POLITIKO (E.S.)</text>
<text x="506" y="475.5" font-size="8.3" fill="#4d86e3" textLength="60.1" lengthAdjust="spacing">POLITIKO (E.S.)</text>
<text x="515.1" y="508.2" font-size="8.3" fill="#fff" textLength="62.2" lengthAdjust="spacing" stroke="#fff" stroke-width="2.4" stroke-linejoin="round" stroke-opacity="0.9">LEFKARA (DAM)</text>
<text x="515.1" y="508.2" font-size="8.3" fill="#4d86e3" textLength="62.2" lengthAdjust="spacing">LEFKARA (DAM)</text>
<text x="626.7" y="453.2" font-size="8.3" fill="#fff" textLength="102.2" lengthAdjust="spacing" stroke="#fff" stroke-width="2.4" stroke-linejoin="round" stroke-opacity="0.9">FRENAROS (RESERVOIR)</text>
<text x="626.7" y="453.2" font-size="8.3" fill="#4d86e3" textLength="102.2" lengthAdjust="spacing">FRENAROS (RESERVOIR)</text>
<text x="613.6" y="544.9" font-size="10.6" font-weight="bold" textLength="40.1" lengthAdjust="spacing">Legend</text>
<line x1="613.6" y1="546.7" x2="653.7" y2="546.7" stroke="#000" stroke-width="1.1" />
<path d="M623 553 L625.9 555.9 L623 558.8 L620.1 555.9 Z" fill="#0b46c8" stroke="#0a1f55" stroke-width="0.7"/>
<text x="633.3" y="559.3" font-size="10.4" textLength="155" lengthAdjust="spacing">Meteorological Rainfall Stations</text>
<rect x="613.9" y="565.3" width="18.5" height="11.2" fill="#ffebbf" stroke="#6e6e6e" stroke-width="1"/>
<text x="634.5" y="575.3" font-size="10.4" textLength="101.3" lengthAdjust="spacing">HydrologicalRegions</text>
<text x="365.7" y="595.3" font-size="6.6" text-anchor="middle" fill="#222">0</text>
<text x="378" y="595.3" font-size="6.6" text-anchor="middle" fill="#222">5</text>
<text x="389.2" y="595.3" font-size="6.6" text-anchor="middle" fill="#222">10</text>
<text x="412" y="595.3" font-size="6.6" text-anchor="middle" fill="#222">20</text>
<text x="435" y="595.3" font-size="6.6" text-anchor="middle" fill="#222">30</text>
<text x="459" y="595.3" font-size="6.6" text-anchor="middle" fill="#222">40</text>
<rect x="366" y="599" width="94" height="5.8" fill="#000"/>
<rect x="372.9" y="599.9" width="5.2" height="4" fill="#fff"/>
<rect x="383.7" y="599.9" width="5.2" height="4" fill="#fff"/>
<rect x="412.9" y="599.9" width="22.2" height="4" fill="#fff"/>
<text x="461.3" y="603.8" font-size="6.4" fill="#222" textLength="34.7" lengthAdjust="spacing">Kilometers</text>
<text x="800.8" y="390.5" font-size="12.2" text-anchor="middle" textLength="8.3" lengthAdjust="spacingAndGlyphs">N</text>
<g stroke="#000" stroke-width="0.35" stroke-linejoin="round"><path d="M800.4 395.3 L804.9 417.7 L800.4 422.2 Z" fill="#000"/><path d="M800.4 395.3 L795.9 417.7 L800.4 422.2 Z" fill="#fff"/><path d="M827.3 422.2 L804.9 426.7 L800.4 422.2 Z" fill="#000"/><path d="M827.3 422.2 L804.9 417.7 L800.4 422.2 Z" fill="#fff"/><path d="M800.4 449.1 L795.9 426.7 L800.4 422.2 Z" fill="#000"/><path d="M800.4 449.1 L804.9 426.7 L800.4 422.2 Z" fill="#fff"/><path d="M773.5 422.2 L795.9 417.7 L800.4 422.2 Z" fill="#000"/><path d="M773.5 422.2 L795.9 426.7 L800.4 422.2 Z" fill="#fff"/></g>
<text x="20.3" y="813.7" font-size="7.8" fill="#4d4d4d" textLength="483.4" lengthAdjust="spacing">Path: Z:\Analysis\SPI_Thiessen_FromOct2016\SPI_Oct2024_Sep2025\2025_06\2_SPI-n_Precipitation_Actual_Cum_2025_06.mxd</text>
</g>
</svg>
</body>
</html>
